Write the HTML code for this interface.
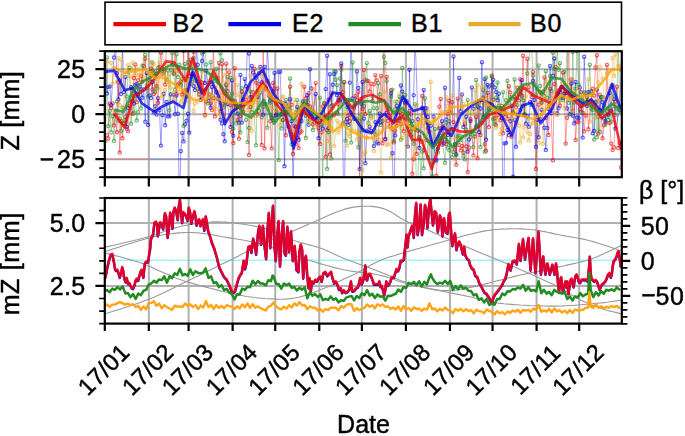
<!DOCTYPE html>
<html><head><meta charset="utf-8"><style>html,body{margin:0;padding:0;background:#fff;width:685px;height:436px;overflow:hidden}svg{display:block}</style></head>
<body><svg width="685" height="436" viewBox="0 0 685 436"><g stroke="#b0b0b0" stroke-width="2"><line x1="148.83" y1="51.2" x2="148.83" y2="177.2"/><line x1="148.83" y1="198.0" x2="148.83" y2="323.6"/><line x1="188.60" y1="51.2" x2="188.60" y2="177.2"/><line x1="188.60" y1="198.0" x2="188.60" y2="323.6"/><line x1="232.63" y1="51.2" x2="232.63" y2="177.2"/><line x1="232.63" y1="198.0" x2="232.63" y2="323.6"/><line x1="275.24" y1="51.2" x2="275.24" y2="177.2"/><line x1="275.24" y1="198.0" x2="275.24" y2="323.6"/><line x1="319.27" y1="51.2" x2="319.27" y2="177.2"/><line x1="319.27" y1="198.0" x2="319.27" y2="323.6"/><line x1="361.88" y1="51.2" x2="361.88" y2="177.2"/><line x1="361.88" y1="198.0" x2="361.88" y2="323.6"/><line x1="405.91" y1="51.2" x2="405.91" y2="177.2"/><line x1="405.91" y1="198.0" x2="405.91" y2="323.6"/><line x1="449.94" y1="51.2" x2="449.94" y2="177.2"/><line x1="449.94" y1="198.0" x2="449.94" y2="323.6"/><line x1="492.55" y1="51.2" x2="492.55" y2="177.2"/><line x1="492.55" y1="198.0" x2="492.55" y2="323.6"/><line x1="536.58" y1="51.2" x2="536.58" y2="177.2"/><line x1="536.58" y1="198.0" x2="536.58" y2="323.6"/><line x1="579.19" y1="51.2" x2="579.19" y2="177.2"/><line x1="579.19" y1="198.0" x2="579.19" y2="323.6"/><line x1="104.8" y1="159.20" x2="621.8" y2="159.20"/><line x1="104.8" y1="114.20" x2="621.8" y2="114.20"/><line x1="104.8" y1="69.20" x2="621.8" y2="69.20"/><line x1="104.8" y1="285.92" x2="621.8" y2="285.92"/><line x1="104.8" y1="223.12" x2="621.8" y2="223.12"/></g><clipPath id="ct"><rect x="104.8" y="51.2" width="517.00" height="126.00"/></clipPath><g clip-path="url(#ct)" fill="none" stroke-linejoin="round"><path d="M104.8 159.2H148.8" stroke="#ff3030" stroke-opacity="0.3" stroke-width="1.2"/><path d="M148.8 159.2H232.6M418 159.2H460M524 159.2H621.8" stroke="#3030ff" stroke-opacity="0.3" stroke-width="1.2"/><path d="M106.9 135.3 L108.3 138.5 L109.8 103.8 L111.2 108.0 L112.6 103.5 L114.0 125.4 L115.4 114.4 L116.9 132.3 L118.3 82.2 L119.7 152.4 L121.1 120.9 L122.5 138.3 L124.0 123.8 L125.4 117.1 L126.8 129.1 L128.2 131.4 L129.6 106.0 L131.1 102.1 L132.5 114.0 L133.9 78.0 L135.3 64.5 L136.7 102.1 L138.2 80.2 L141.0 76.1 L142.4 81.8 L143.8 66.0 L145.3 58.8 L146.7 88.1 L149.5 80.1 L151.0 68.6 L152.4 89.4 L153.8 93.9 L155.2 71.4 L156.6 86.2 L158.1 102.7 L159.5 66.9 L160.9 52.6 L162.3 73.7 L163.7 69.6 L165.2 84.5 L166.6 35.7 L168.0 48.3 L169.4 45.0 L170.8 27.2 L172.3 64.6 L173.7 72.8 L175.1 49.0 L176.5 93.8 L177.9 84.8 L179.4 83.3 L180.8 81.1 L182.2 94.5 L183.6 51.0 L185.0 92.3 L186.5 90.2 L187.9 38.4 L189.3 76.2 L190.7 59.8 L192.1 75.9 L193.6 51.9 L195.0 65.0 L196.4 76.9 L199.2 91.4 L200.7 82.0 L202.1 98.6 L203.5 83.0 L204.9 114.9 L206.3 101.5 L209.2 94.5 L210.6 103.3 L212.0 110.1 L213.4 39.2 L214.9 116.4 L217.7 78.1 L219.1 63.0 L220.5 111.3 L222.0 64.1 L223.4 103.7 L224.8 120.4 L226.2 63.8 L227.6 91.1 L229.1 72.4 L230.5 105.0 L231.9 131.8 L233.3 143.1 L234.7 68.2 L236.2 108.1 L237.6 120.1 L239.0 138.8 L240.4 116.1 L241.9 91.8 L243.3 111.7 L244.7 104.5 L246.1 99.8 L247.5 88.2 L249.0 154.9 L250.4 107.0 L251.8 96.9 L253.2 92.2 L254.6 68.8 L256.1 82.6 L257.5 114.4 L258.9 84.3 L261.7 145.0 L263.2 36.8 L264.6 148.4 L266.0 89.0 L267.4 80.9 L270.3 121.2 L271.7 148.4 L273.1 82.9 L274.5 88.6 L275.9 115.3 L277.4 88.5 L278.8 101.6 L280.2 101.8 L281.6 114.4 L283.0 120.1 L285.9 135.2 L287.3 112.7 L290.1 86.8 L291.6 104.8 L293.0 154.0 L294.4 125.8 L295.8 143.9 L297.2 137.8 L298.7 148.1 L300.1 132.6 L301.5 131.4 L302.9 107.9 L304.3 86.7 L305.8 98.4 L307.2 104.7 L308.6 93.3 L310.0 106.4 L311.4 116.6 L312.9 124.5 L315.7 83.1 L317.1 121.2 L318.5 128.2 L320.0 143.9 L321.4 132.4 L322.8 106.5 L324.2 103.5 L325.7 156.8 L327.1 130.3 L328.5 99.7 L329.9 154.4 L331.3 93.5 L332.8 115.6 L334.2 115.1 L337.0 112.8 L338.4 104.1 L339.9 101.5 L341.3 66.0 L342.7 92.1 L344.1 82.3 L345.5 101.7 L348.4 115.2 L349.8 121.1 L351.2 112.7 L352.6 114.4 L354.1 108.4 L355.5 96.0 L356.9 100.1 L358.3 91.9 L359.7 182.9 L361.2 99.0 L362.6 108.8 L364.0 70.0 L365.4 114.0 L366.8 80.7 L368.3 80.9 L369.7 91.4 L371.1 83.7 L372.5 100.8 L373.9 84.3 L375.4 75.1 L376.8 80.3 L378.2 124.2 L379.6 99.6 L381.0 76.0 L382.5 143.2 L383.9 21.7 L385.3 139.2 L386.7 76.9 L388.1 120.9 L389.6 126.1 L391.0 90.2 L392.4 129.1 L393.8 142.4 L395.2 130.8 L396.7 125.7 L398.1 123.1 L399.5 112.3 L400.9 124.2 L402.3 113.9 L403.8 131.2 L405.2 103.4 L406.6 118.1 L408.0 119.4 L409.5 111.3 L410.9 114.2 L412.3 173.8 L413.7 159.1 L415.1 129.6 L416.6 153.9 L418.0 130.8 L419.4 137.4 L420.8 141.7 L422.2 95.9 L423.7 150.0 L426.5 140.1 L427.9 128.5 L429.3 131.6 L430.8 203.8 L432.2 184.1 L436.4 175.8 L437.9 144.1 L439.3 106.6 L440.7 98.9 L442.1 144.7 L443.5 126.1 L445.0 139.6 L446.4 143.9 L447.8 114.1 L449.2 100.7 L450.6 112.8 L452.1 102.2 L453.5 122.1 L454.9 149.4 L456.3 164.7 L457.7 98.6 L459.2 145.1 L460.6 150.4 L462.0 145.9 L463.4 152.5 L464.8 123.8 L466.3 146.4 L467.7 172.1 L469.1 147.7 L470.5 119.2 L473.4 155.4 L474.8 136.6 L476.2 117.1 L477.6 158.3 L479.0 101.6 L480.5 135.0 L481.9 122.9 L483.3 97.6 L484.7 144.1 L486.1 150.7 L487.6 92.9 L489.0 127.0 L490.4 105.8 L491.8 75.8 L493.2 99.6 L494.7 118.2 L496.1 125.1 L497.5 115.2 L498.9 112.3 L500.4 120.2 L501.8 106.0 L503.2 133.2 L504.6 112.0 L506.0 114.4 L507.5 118.7 L508.9 86.2 L510.3 92.5 L511.7 136.7 L513.1 111.8 L514.6 96.9 L516.0 106.9 L517.4 87.8 L518.8 100.5 L520.2 79.1 L521.7 95.4 L523.1 55.8 L524.5 114.8 L527.3 58.8 L528.8 87.1 L531.6 96.9 L533.0 72.1 L535.9 169.0 L538.7 104.6 L540.1 92.2 L541.5 103.0 L544.4 77.4 L545.8 118.0 L548.6 135.0 L550.1 88.7 L552.9 160.3 L554.3 84.1 L555.7 67.1 L557.2 93.4 L558.6 90.5 L560.0 105.6 L562.8 72.6 L564.3 93.5 L565.7 143.6 L567.1 117.8 L568.5 38.3 L569.9 92.6 L571.4 79.5 L572.8 110.9 L574.2 96.4 L575.6 140.0 L577.0 121.4 L578.5 122.0 L579.9 109.3 L581.3 105.8 L582.7 112.8 L584.2 131.4 L585.6 115.6 L587.0 97.3 L588.4 129.3 L591.3 101.1 L592.7 88.8 L594.1 95.5 L595.5 67.4 L596.9 55.2 L598.4 133.6 L599.8 94.7 L601.2 113.2 L602.6 138.3 L604.0 125.2 L605.5 122.8 L606.9 64.9 L608.3 108.7 L609.7 123.0 L611.1 143.6 L612.6 149.9 L614.0 147.5 L615.4 101.6 L616.8 86.7 L618.2 148.0 L619.7 143.0 L621.1 167.5" stroke="#ee0000" stroke-opacity="0.42" stroke-width="0.9"/><path d="M105.5 71.5 L106.9 93.5 L108.3 86.9 L109.8 86.4 L111.2 105.0 L114.0 57.5 L115.4 45.0 L116.9 73.2 L118.3 99.2 L119.7 80.4 L121.1 94.0 L122.5 46.2 L124.0 92.1 L125.4 77.1 L126.8 126.9 L128.2 107.9 L131.1 87.3 L132.5 101.1 L133.9 103.6 L135.3 84.9 L136.7 84.1 L138.2 94.5 L139.6 86.5 L141.0 89.1 L142.4 97.8 L143.8 89.4 L145.3 121.7 L146.7 73.1 L148.1 124.9 L149.5 95.4 L151.0 98.0 L152.4 82.0 L153.8 112.4 L155.2 106.3 L156.6 114.5 L158.1 98.2 L159.5 110.3 L160.9 145.6 L162.3 115.1 L163.7 93.8 L165.2 125.2 L166.6 101.9 L168.0 116.4 L169.4 116.2 L170.8 94.4 L173.7 94.6 L175.1 114.3 L176.5 95.6 L177.9 113.7 L179.4 207.9 L180.8 151.2 L182.2 132.9 L183.6 141.4 L185.0 124.5 L186.5 120.8 L187.9 113.8 L189.3 132.6 L190.7 83.6 L192.1 74.2 L193.6 86.0 L195.0 90.0 L196.4 47.4 L197.8 64.8 L199.2 94.5 L200.7 99.9 L202.1 61.0 L203.5 51.9 L204.9 82.9 L206.3 70.6 L209.2 98.0 L210.6 107.8 L212.0 87.0 L213.4 97.9 L216.3 92.1 L217.7 98.6 L220.5 119.7 L222.0 123.5 L223.4 134.2 L224.8 141.3 L226.2 85.0 L227.6 104.0 L230.5 127.0 L231.9 80.3 L233.3 135.6 L234.7 100.7 L236.2 104.0 L237.6 113.6 L239.0 122.6 L240.4 75.0 L241.9 122.6 L243.3 100.2 L244.7 79.1 L246.1 86.3 L247.5 42.9 L249.0 53.6 L250.4 97.2 L251.8 66.0 L253.2 72.6 L254.6 75.0 L256.1 77.7 L257.5 96.7 L258.9 73.3 L260.3 66.9 L261.7 82.3 L263.2 114.6 L264.6 66.9 L266.0 88.0 L267.4 47.3 L270.3 100.5 L271.7 117.8 L273.1 91.6 L274.5 72.9 L275.9 115.4 L277.4 114.6 L278.8 72.0 L280.2 71.8 L281.6 114.2 L283.0 103.1 L284.5 166.3 L285.9 104.3 L287.3 111.7 L288.7 126.2 L290.1 99.3 L291.6 121.3 L293.0 180.2 L294.4 142.8 L295.8 126.8 L297.2 106.9 L298.7 139.8 L301.5 121.0 L302.9 101.5 L304.3 112.0 L305.8 115.6 L307.2 95.3 L308.6 124.7 L310.0 69.2 L311.4 88.5 L312.9 111.2 L315.7 94.0 L317.1 124.1 L318.5 138.2 L320.0 124.3 L321.4 118.3 L322.8 128.6 L324.2 117.1 L325.7 89.1 L327.1 55.7 L328.5 127.9 L329.9 74.3 L331.3 106.2 L332.8 84.8 L334.2 74.0 L335.6 71.8 L337.0 95.3 L338.4 100.0 L339.9 100.0 L341.3 63.5 L344.1 216.8 L345.5 121.9 L347.0 118.9 L348.4 124.9 L349.8 82.6 L351.2 37.3 L352.6 98.5 L354.1 118.7 L355.5 104.5 L356.9 71.4 L358.3 88.0 L359.7 169.1 L361.2 103.7 L362.6 82.0 L364.0 118.6 L365.4 163.2 L366.8 130.7 L369.7 126.7 L371.1 131.0 L373.9 146.1 L375.4 122.3 L376.8 142.5 L378.2 143.6 L379.6 113.6 L381.0 122.3 L382.5 120.9 L385.3 139.2 L386.7 112.7 L391.0 93.4 L392.4 153.3 L393.8 213.3 L395.2 135.4 L396.7 106.0 L398.1 120.5 L399.5 118.4 L400.9 85.4 L402.3 91.6 L403.8 99.9 L405.2 102.2 L406.6 101.2 L408.0 146.6 L409.5 69.7 L410.9 135.4 L412.3 121.1 L413.7 95.3 L415.1 36.4 L418.0 119.3 L419.4 147.9 L422.2 108.0 L423.7 89.9 L425.1 108.3 L426.5 108.2 L427.9 116.9 L430.8 125.7 L432.2 184.1 L433.6 116.7 L435.0 160.0 L436.4 160.5 L437.9 148.5 L439.3 128.3 L440.7 128.4 L442.1 121.2 L443.5 143.5 L445.0 87.8 L446.4 119.4 L447.8 135.0 L449.2 121.2 L452.1 129.2 L453.5 56.5 L454.9 144.8 L456.3 154.2 L459.2 77.9 L460.6 111.2 L462.0 94.5 L463.4 127.0 L466.3 116.8 L467.7 151.6 L469.1 139.4 L470.5 121.1 L471.9 87.4 L473.4 108.8 L476.2 126.6 L477.6 106.5 L479.0 132.0 L480.5 108.5 L481.9 62.3 L483.3 117.2 L484.7 79.1 L486.1 139.7 L487.6 84.9 L489.0 86.5 L490.4 107.7 L491.8 84.9 L493.2 79.8 L494.7 87.4 L496.1 92.1 L497.5 100.3 L498.9 93.7 L500.4 110.6 L501.8 118.2 L503.2 226.6 L504.6 143.4 L506.0 142.9 L507.5 130.0 L508.9 135.2 L510.3 121.3 L511.7 105.9 L513.1 176.7 L514.6 120.1 L516.0 146.8 L517.4 114.8 L520.2 109.9 L521.7 80.1 L523.1 105.7 L524.5 114.9 L525.9 123.8 L527.3 116.3 L528.8 126.8 L530.2 102.0 L531.6 104.8 L533.0 80.8 L534.4 99.9 L535.9 146.9 L537.3 120.0 L538.7 137.3 L540.1 119.3 L541.5 109.8 L544.4 127.8 L545.8 149.9 L547.2 127.9 L548.6 108.7 L550.1 66.0 L551.5 113.2 L552.9 75.7 L554.3 58.5 L557.2 113.3 L558.6 108.2 L560.0 92.2 L561.4 87.1 L562.8 98.0 L564.3 93.6 L565.7 93.1 L567.1 108.5 L569.9 114.2 L571.4 83.4 L572.8 115.7 L574.2 123.4 L575.6 82.0 L577.0 117.4 L578.5 118.1 L579.9 87.5 L581.3 92.1 L582.7 137.6 L584.2 56.8 L585.6 93.4 L587.0 105.9 L588.4 91.9 L591.3 91.5 L592.7 133.2 L594.1 130.9 L595.5 102.3 L596.9 89.5 L599.8 110.2 L601.2 97.3 L602.6 102.2 L604.0 118.6 L605.5 121.3 L608.3 114.6 L609.7 93.1 L611.1 110.6 L612.6 85.3 L614.0 99.1 L615.4 128.4 L619.7 110.3 L621.1 69.6" stroke="#0000e6" stroke-opacity="0.42" stroke-width="0.9"/><path d="M105.5 140.9 L106.9 57.5 L108.3 126.1 L109.8 111.0 L111.2 132.2 L112.6 116.4 L114.0 140.9 L115.4 110.6 L116.9 101.6 L118.3 120.6 L119.7 118.4 L121.1 131.1 L122.5 107.5 L124.0 123.3 L125.4 119.9 L126.8 96.4 L128.2 71.9 L129.6 67.7 L131.1 123.8 L132.5 88.3 L133.9 112.9 L135.3 95.9 L136.7 120.4 L138.2 112.1 L139.6 89.9 L141.0 108.3 L142.4 65.6 L145.3 55.0 L146.7 85.3 L148.1 96.8 L149.5 81.7 L151.0 70.9 L152.4 62.5 L153.8 72.5 L155.2 92.1 L156.6 88.4 L158.1 67.8 L159.5 50.0 L162.3 44.7 L163.7 71.8 L166.6 79.8 L168.0 70.5 L169.4 110.5 L170.8 69.7 L172.3 52.9 L173.7 74.0 L175.1 89.4 L176.5 54.3 L177.9 77.1 L179.4 64.7 L180.8 84.8 L182.2 79.1 L183.6 126.0 L185.0 63.9 L186.5 96.4 L187.9 62.4 L192.1 78.9 L193.6 57.9 L195.0 80.6 L196.4 80.9 L197.8 88.5 L200.7 88.7 L202.1 53.6 L204.9 50.0 L206.3 64.5 L207.8 103.4 L210.6 62.2 L213.4 78.0 L214.9 80.7 L216.3 68.7 L217.7 82.1 L220.5 53.2 L222.0 60.1 L223.4 107.6 L224.8 105.3 L226.2 84.1 L227.6 77.1 L230.5 77.6 L231.9 93.6 L233.3 128.8 L234.7 104.5 L236.2 123.5 L239.0 113.1 L240.4 132.5 L241.9 88.2 L243.3 107.1 L246.1 119.8 L247.5 142.1 L249.0 128.0 L250.4 91.6 L251.8 112.3 L253.2 99.7 L256.1 145.3 L257.5 90.7 L258.9 110.8 L260.3 92.6 L261.7 117.3 L263.2 106.7 L264.6 104.1 L266.0 103.9 L267.4 127.7 L268.8 95.8 L270.3 102.6 L271.7 99.2 L273.1 119.9 L274.5 118.2 L275.9 103.7 L277.4 112.3 L278.8 160.1 L280.2 113.9 L281.6 128.4 L283.0 120.0 L285.9 100.0 L287.3 107.5 L288.7 108.6 L290.1 78.5 L291.6 144.3 L293.0 134.6 L294.4 120.4 L295.8 112.5 L297.2 100.1 L298.7 127.3 L301.5 114.4 L304.3 108.8 L305.8 138.0 L307.2 100.6 L308.6 120.7 L310.0 109.3 L312.9 130.0 L314.3 114.4 L317.1 119.7 L318.5 116.2 L320.0 97.7 L321.4 124.7 L322.8 178.4 L324.2 103.3 L325.7 117.2 L327.1 168.9 L328.5 132.0 L329.9 118.6 L331.3 158.4 L332.8 105.2 L334.2 71.2 L335.6 79.7 L337.0 85.1 L338.4 114.2 L339.9 78.6 L341.3 69.6 L342.7 123.7 L344.1 82.1 L345.5 140.6 L347.0 107.3 L348.4 106.6 L349.8 100.0 L351.2 142.6 L352.6 62.4 L354.1 106.3 L355.5 118.8 L356.9 118.4 L358.3 147.3 L359.7 121.0 L361.2 114.7 L362.6 130.3 L364.0 105.9 L365.4 79.6 L366.8 63.1 L368.3 122.8 L369.7 111.0 L371.1 116.1 L372.5 96.3 L373.9 108.1 L375.4 134.6 L376.8 108.2 L378.2 83.2 L379.6 94.4 L381.0 125.0 L383.9 56.8 L385.3 62.9 L386.7 81.1 L389.6 109.1 L391.0 96.6 L392.4 89.6 L393.8 141.1 L395.2 109.4 L396.7 101.7 L399.5 96.8 L400.9 139.6 L402.3 67.9 L403.8 111.7 L405.2 94.9 L406.6 114.3 L408.0 113.3 L409.5 126.0 L410.9 131.4 L412.3 128.4 L413.7 143.7 L415.1 104.1 L416.6 211.9 L419.4 137.1 L420.8 178.6 L422.2 151.6 L423.7 168.2 L425.1 98.3 L426.5 122.4 L427.9 157.2 L429.3 123.7 L430.8 141.9 L432.2 176.2 L433.6 161.9 L435.0 128.9 L436.4 151.1 L437.9 152.5 L439.3 140.8 L440.7 136.1 L442.1 138.4 L445.0 162.7 L446.4 122.6 L447.8 147.7 L449.2 150.2 L450.6 129.6 L452.1 157.1 L453.5 152.1 L454.9 143.9 L456.3 155.5 L457.7 136.4 L459.2 135.5 L460.6 140.2 L462.0 136.5 L463.4 155.9 L464.8 159.4 L466.3 129.7 L467.7 100.0 L470.5 136.8 L471.9 131.8 L473.4 147.1 L474.8 134.0 L476.2 80.0 L477.6 105.5 L480.5 147.0 L483.3 90.1 L484.7 151.7 L486.1 77.5 L487.6 116.8 L489.0 109.0 L490.4 112.4 L491.8 76.7 L493.2 119.3 L494.7 124.0 L496.1 97.5 L497.5 82.4 L498.9 105.8 L500.4 107.7 L503.2 92.1 L504.6 113.2 L506.0 100.2 L507.5 80.8 L508.9 102.9 L510.3 97.1 L511.7 98.5 L513.1 112.8 L514.6 79.5 L516.0 98.7 L517.4 105.1 L518.8 93.5 L520.2 88.7 L521.7 96.7 L523.1 100.4 L524.5 113.6 L527.3 73.5 L530.2 49.5 L531.6 44.9 L533.0 75.5 L534.4 84.5 L535.9 95.0 L537.3 89.3 L538.7 65.5 L540.1 85.9 L541.5 102.1 L543.0 91.8 L544.4 96.1 L545.8 71.3 L547.2 97.9 L548.6 105.3 L550.1 76.3 L551.5 91.1 L552.9 52.6 L554.3 68.7 L555.7 99.3 L557.2 48.2 L558.6 69.8 L560.0 63.3 L561.4 98.3 L562.8 100.1 L564.3 71.9 L565.7 86.5 L567.1 41.9 L568.5 102.7 L569.9 96.1 L571.4 114.1 L572.8 52.0 L574.2 102.5 L575.6 88.6 L577.0 51.2 L578.5 84.8 L581.3 112.3 L582.7 103.1 L584.2 92.1 L585.6 94.7 L587.0 101.3 L588.4 93.2 L589.8 64.7 L591.3 109.1 L592.7 110.1 L594.1 139.6 L595.5 101.5 L596.9 137.3 L598.4 116.8 L599.8 131.8 L601.2 97.2 L602.6 97.1 L604.0 105.4 L605.5 124.6 L606.9 111.1 L608.3 119.7 L609.7 111.0 L611.1 121.8 L612.6 106.5 L614.0 96.1 L615.4 114.9 L616.8 108.8 L618.2 37.8 L619.7 106.7 L621.1 111.7" stroke="#228b22" stroke-opacity="0.42" stroke-width="0.9"/><path d="M105.5 76.5 L106.9 61.6 L111.2 62.9 L112.6 83.7 L114.0 67.9 L115.4 74.7 L116.9 82.1 L118.3 58.0 L119.7 104.7 L121.1 59.5 L122.5 76.4 L124.0 107.9 L125.4 71.0 L126.8 73.7 L128.2 65.2 L129.6 76.0 L131.1 105.5 L132.5 62.7 L133.9 92.8 L135.3 73.3 L136.7 67.3 L138.2 75.1 L139.6 75.5 L141.0 72.0 L142.4 77.4 L143.8 48.2 L145.3 77.3 L148.1 82.3 L149.5 73.1 L151.0 61.6 L152.4 74.9 L153.8 64.0 L155.2 108.1 L156.6 77.1 L158.1 88.4 L159.5 62.6 L160.9 98.0 L162.3 73.2 L163.7 95.7 L165.2 89.9 L166.6 65.4 L168.0 84.7 L169.4 74.3 L170.8 87.6 L172.3 101.7 L173.7 92.9 L175.1 98.7 L176.5 70.4 L177.9 89.1 L179.4 92.0 L180.8 102.3 L182.2 81.0 L183.6 97.7 L185.0 97.3 L187.9 81.1 L189.3 101.8 L190.7 82.1 L192.1 82.9 L193.6 111.2 L195.0 103.5 L196.4 77.2 L197.8 101.5 L199.2 95.0 L200.7 93.5 L202.1 71.5 L204.9 116.2 L206.3 92.3 L207.8 97.0 L209.2 94.4 L210.6 80.3 L212.0 99.9 L213.4 108.4 L214.9 86.7 L216.3 109.1 L217.7 91.4 L219.1 114.3 L220.5 115.6 L222.0 95.2 L223.4 74.6 L224.8 96.5 L226.2 83.4 L227.6 84.8 L229.1 99.0 L230.5 120.3 L233.3 99.9 L234.7 78.7 L236.2 95.0 L237.6 84.8 L239.0 109.7 L240.4 95.6 L241.9 102.6 L243.3 103.1 L244.7 101.0 L246.1 103.0 L247.5 110.0 L249.0 99.6 L250.4 75.4 L251.8 130.8 L254.6 101.8 L256.1 116.3 L257.5 87.2 L258.9 89.3 L260.3 70.5 L261.7 74.4 L263.2 72.7 L267.4 84.7 L268.8 83.7 L270.3 107.7 L271.7 94.8 L273.1 110.9 L274.5 94.3 L275.9 109.5 L277.4 107.2 L278.8 102.2 L280.2 125.1 L281.6 97.1 L283.0 96.8 L284.5 105.5 L285.9 119.6 L287.3 104.8 L288.7 104.8 L293.0 111.1 L294.4 100.0 L295.8 113.2 L297.2 121.3 L298.7 104.5 L300.1 111.4 L301.5 83.8 L302.9 106.7 L304.3 106.6 L305.8 114.3 L307.2 111.0 L308.6 117.9 L310.0 122.6 L311.4 118.2 L312.9 89.0 L314.3 103.5 L315.7 126.8 L317.1 124.6 L320.0 123.5 L321.4 111.4 L322.8 108.0 L324.2 121.9 L325.7 122.7 L327.1 141.3 L328.5 106.5 L329.9 121.8 L331.3 127.7 L332.8 107.8 L334.2 146.2 L337.0 120.6 L338.4 132.6 L339.9 123.0 L341.3 128.9 L342.7 116.3 L344.1 122.1 L345.5 111.9 L347.0 145.7 L348.4 133.7 L349.8 136.3 L351.2 109.5 L352.6 130.7 L354.1 115.9 L355.5 131.4 L356.9 139.6 L358.3 122.6 L359.7 116.5 L361.2 113.3 L362.6 170.5 L364.0 153.7 L365.4 152.5 L366.8 137.9 L368.3 125.1 L369.7 133.1 L371.1 118.4 L372.5 117.4 L373.9 151.0 L375.4 132.8 L376.8 139.8 L378.2 131.4 L379.6 140.0 L381.0 172.4 L382.5 120.2 L383.9 91.6 L385.3 118.8 L386.7 144.9 L388.1 144.1 L389.6 124.2 L391.0 158.0 L392.4 128.6 L393.8 112.6 L395.2 101.6 L396.7 125.0 L398.1 119.4 L399.5 94.3 L400.9 128.3 L402.3 138.0 L405.2 133.4 L406.6 145.4 L408.0 131.5 L409.5 118.7 L410.9 133.1 L412.3 135.8 L413.7 156.8 L415.1 121.6 L416.6 105.3 L418.0 127.6 L419.4 126.2 L420.8 114.9 L422.2 125.9 L423.7 123.0 L425.1 135.4 L426.5 109.6 L427.9 112.1 L429.3 121.7 L430.8 81.7 L432.2 139.6 L433.6 119.5 L435.0 120.2 L436.4 139.1 L437.9 124.5 L439.3 129.6 L440.7 125.8 L442.1 112.2 L445.0 112.3 L446.4 97.2 L447.8 105.9 L449.2 120.6 L450.6 112.6 L452.1 95.4 L453.5 137.5 L454.9 159.3 L456.3 114.9 L459.2 123.4 L460.6 95.6 L462.0 107.1 L463.4 104.0 L464.8 120.9 L466.3 111.0 L467.7 110.4 L469.1 111.4 L470.5 129.4 L471.9 112.1 L473.4 114.3 L474.8 90.1 L476.2 110.7 L477.6 84.9 L479.0 112.8 L480.5 101.9 L481.9 87.9 L483.3 85.3 L484.7 100.5 L486.1 104.8 L487.6 97.3 L489.0 101.8 L490.4 103.5 L491.8 101.9 L493.2 107.0 L494.7 113.7 L496.1 127.7 L497.5 119.9 L498.9 104.9 L500.4 134.0 L501.8 129.0 L503.2 110.8 L504.6 127.5 L506.0 107.6 L507.5 104.9 L508.9 105.5 L510.3 136.1 L511.7 117.1 L513.1 119.6 L514.6 116.6 L516.0 110.8 L517.4 122.7 L518.8 125.5 L520.2 142.5 L521.7 106.3 L523.1 137.5 L524.5 126.7 L525.9 96.1 L527.3 131.6 L528.8 140.4 L530.2 134.1 L531.6 123.5 L533.0 122.9 L534.4 94.6 L535.9 123.7 L537.3 120.9 L538.7 142.9 L540.1 119.4 L541.5 107.4 L543.0 143.8 L544.4 97.1 L545.8 99.5 L547.2 81.5 L548.6 102.7 L550.1 107.7 L551.5 104.7 L552.9 94.9 L554.3 113.4 L555.7 44.5 L557.2 115.2 L558.6 97.2 L560.0 101.6 L561.4 94.5 L562.8 83.8 L564.3 108.2 L565.7 90.1 L568.5 98.7 L569.9 79.8 L571.4 95.0 L572.8 111.1 L574.2 91.8 L575.6 96.6 L577.0 100.3 L578.5 88.9 L579.9 93.4 L581.3 102.5 L582.7 91.7 L584.2 97.1 L585.6 94.4 L588.4 79.1 L589.8 121.5 L591.3 100.2 L592.7 92.4 L594.1 104.6 L595.5 117.6 L596.9 101.3 L598.4 82.4 L599.8 66.8 L602.6 78.8 L604.0 97.6 L605.5 98.5 L606.9 73.3 L608.3 70.3 L609.7 88.4 L611.1 97.7 L612.6 57.9 L614.0 76.0 L615.4 54.2 L618.2 65.8 L619.7 65.6 L621.1 69.9" stroke="#eba62a" stroke-opacity="0.42" stroke-width="0.9"/><path d="M105.3 135.3a1.6 1.6 0 1 0 3.2 0a1.6 1.6 0 1 0 -3.2 0M106.7 138.5a1.6 1.6 0 1 0 3.2 0a1.6 1.6 0 1 0 -3.2 0M108.2 103.8a1.6 1.6 0 1 0 3.2 0a1.6 1.6 0 1 0 -3.2 0M109.6 108.0a1.6 1.6 0 1 0 3.2 0a1.6 1.6 0 1 0 -3.2 0M111.0 103.5a1.6 1.6 0 1 0 3.2 0a1.6 1.6 0 1 0 -3.2 0M112.4 125.4a1.6 1.6 0 1 0 3.2 0a1.6 1.6 0 1 0 -3.2 0M113.8 114.4a1.6 1.6 0 1 0 3.2 0a1.6 1.6 0 1 0 -3.2 0M115.3 132.3a1.6 1.6 0 1 0 3.2 0a1.6 1.6 0 1 0 -3.2 0M116.7 82.2a1.6 1.6 0 1 0 3.2 0a1.6 1.6 0 1 0 -3.2 0M118.1 152.4a1.6 1.6 0 1 0 3.2 0a1.6 1.6 0 1 0 -3.2 0M119.5 120.9a1.6 1.6 0 1 0 3.2 0a1.6 1.6 0 1 0 -3.2 0M120.9 138.3a1.6 1.6 0 1 0 3.2 0a1.6 1.6 0 1 0 -3.2 0M122.4 123.8a1.6 1.6 0 1 0 3.2 0a1.6 1.6 0 1 0 -3.2 0M123.8 117.1a1.6 1.6 0 1 0 3.2 0a1.6 1.6 0 1 0 -3.2 0M125.2 129.1a1.6 1.6 0 1 0 3.2 0a1.6 1.6 0 1 0 -3.2 0M126.6 131.4a1.6 1.6 0 1 0 3.2 0a1.6 1.6 0 1 0 -3.2 0M128.0 106.0a1.6 1.6 0 1 0 3.2 0a1.6 1.6 0 1 0 -3.2 0M129.5 102.1a1.6 1.6 0 1 0 3.2 0a1.6 1.6 0 1 0 -3.2 0M130.9 114.0a1.6 1.6 0 1 0 3.2 0a1.6 1.6 0 1 0 -3.2 0M132.3 78.0a1.6 1.6 0 1 0 3.2 0a1.6 1.6 0 1 0 -3.2 0M133.7 64.5a1.6 1.6 0 1 0 3.2 0a1.6 1.6 0 1 0 -3.2 0M135.1 102.1a1.6 1.6 0 1 0 3.2 0a1.6 1.6 0 1 0 -3.2 0M136.6 80.2a1.6 1.6 0 1 0 3.2 0a1.6 1.6 0 1 0 -3.2 0M139.4 76.1a1.6 1.6 0 1 0 3.2 0a1.6 1.6 0 1 0 -3.2 0M140.8 81.8a1.6 1.6 0 1 0 3.2 0a1.6 1.6 0 1 0 -3.2 0M142.2 66.0a1.6 1.6 0 1 0 3.2 0a1.6 1.6 0 1 0 -3.2 0M143.7 58.8a1.6 1.6 0 1 0 3.2 0a1.6 1.6 0 1 0 -3.2 0M145.1 88.1a1.6 1.6 0 1 0 3.2 0a1.6 1.6 0 1 0 -3.2 0M147.9 80.1a1.6 1.6 0 1 0 3.2 0a1.6 1.6 0 1 0 -3.2 0M149.4 68.6a1.6 1.6 0 1 0 3.2 0a1.6 1.6 0 1 0 -3.2 0M150.8 89.4a1.6 1.6 0 1 0 3.2 0a1.6 1.6 0 1 0 -3.2 0M152.2 93.9a1.6 1.6 0 1 0 3.2 0a1.6 1.6 0 1 0 -3.2 0M153.6 71.4a1.6 1.6 0 1 0 3.2 0a1.6 1.6 0 1 0 -3.2 0M155.0 86.2a1.6 1.6 0 1 0 3.2 0a1.6 1.6 0 1 0 -3.2 0M156.5 102.7a1.6 1.6 0 1 0 3.2 0a1.6 1.6 0 1 0 -3.2 0M157.9 66.9a1.6 1.6 0 1 0 3.2 0a1.6 1.6 0 1 0 -3.2 0M159.3 52.6a1.6 1.6 0 1 0 3.2 0a1.6 1.6 0 1 0 -3.2 0M160.7 73.7a1.6 1.6 0 1 0 3.2 0a1.6 1.6 0 1 0 -3.2 0M162.1 69.6a1.6 1.6 0 1 0 3.2 0a1.6 1.6 0 1 0 -3.2 0M163.6 84.5a1.6 1.6 0 1 0 3.2 0a1.6 1.6 0 1 0 -3.2 0M166.4 48.3a1.6 1.6 0 1 0 3.2 0a1.6 1.6 0 1 0 -3.2 0M170.7 64.6a1.6 1.6 0 1 0 3.2 0a1.6 1.6 0 1 0 -3.2 0M172.1 72.8a1.6 1.6 0 1 0 3.2 0a1.6 1.6 0 1 0 -3.2 0M173.5 49.0a1.6 1.6 0 1 0 3.2 0a1.6 1.6 0 1 0 -3.2 0M174.9 93.8a1.6 1.6 0 1 0 3.2 0a1.6 1.6 0 1 0 -3.2 0M176.3 84.8a1.6 1.6 0 1 0 3.2 0a1.6 1.6 0 1 0 -3.2 0M177.8 83.3a1.6 1.6 0 1 0 3.2 0a1.6 1.6 0 1 0 -3.2 0M179.2 81.1a1.6 1.6 0 1 0 3.2 0a1.6 1.6 0 1 0 -3.2 0M180.6 94.5a1.6 1.6 0 1 0 3.2 0a1.6 1.6 0 1 0 -3.2 0M182.0 51.0a1.6 1.6 0 1 0 3.2 0a1.6 1.6 0 1 0 -3.2 0M183.4 92.3a1.6 1.6 0 1 0 3.2 0a1.6 1.6 0 1 0 -3.2 0M184.9 90.2a1.6 1.6 0 1 0 3.2 0a1.6 1.6 0 1 0 -3.2 0M187.7 76.2a1.6 1.6 0 1 0 3.2 0a1.6 1.6 0 1 0 -3.2 0M189.1 59.8a1.6 1.6 0 1 0 3.2 0a1.6 1.6 0 1 0 -3.2 0M190.5 75.9a1.6 1.6 0 1 0 3.2 0a1.6 1.6 0 1 0 -3.2 0M192.0 51.9a1.6 1.6 0 1 0 3.2 0a1.6 1.6 0 1 0 -3.2 0M193.4 65.0a1.6 1.6 0 1 0 3.2 0a1.6 1.6 0 1 0 -3.2 0M194.8 76.9a1.6 1.6 0 1 0 3.2 0a1.6 1.6 0 1 0 -3.2 0M197.6 91.4a1.6 1.6 0 1 0 3.2 0a1.6 1.6 0 1 0 -3.2 0M199.1 82.0a1.6 1.6 0 1 0 3.2 0a1.6 1.6 0 1 0 -3.2 0M200.5 98.6a1.6 1.6 0 1 0 3.2 0a1.6 1.6 0 1 0 -3.2 0M201.9 83.0a1.6 1.6 0 1 0 3.2 0a1.6 1.6 0 1 0 -3.2 0M203.3 114.9a1.6 1.6 0 1 0 3.2 0a1.6 1.6 0 1 0 -3.2 0M204.7 101.5a1.6 1.6 0 1 0 3.2 0a1.6 1.6 0 1 0 -3.2 0M207.6 94.5a1.6 1.6 0 1 0 3.2 0a1.6 1.6 0 1 0 -3.2 0M209.0 103.3a1.6 1.6 0 1 0 3.2 0a1.6 1.6 0 1 0 -3.2 0M210.4 110.1a1.6 1.6 0 1 0 3.2 0a1.6 1.6 0 1 0 -3.2 0M213.3 116.4a1.6 1.6 0 1 0 3.2 0a1.6 1.6 0 1 0 -3.2 0M216.1 78.1a1.6 1.6 0 1 0 3.2 0a1.6 1.6 0 1 0 -3.2 0M217.5 63.0a1.6 1.6 0 1 0 3.2 0a1.6 1.6 0 1 0 -3.2 0M218.9 111.3a1.6 1.6 0 1 0 3.2 0a1.6 1.6 0 1 0 -3.2 0M220.4 64.1a1.6 1.6 0 1 0 3.2 0a1.6 1.6 0 1 0 -3.2 0M221.8 103.7a1.6 1.6 0 1 0 3.2 0a1.6 1.6 0 1 0 -3.2 0M223.2 120.4a1.6 1.6 0 1 0 3.2 0a1.6 1.6 0 1 0 -3.2 0M224.6 63.8a1.6 1.6 0 1 0 3.2 0a1.6 1.6 0 1 0 -3.2 0M226.0 91.1a1.6 1.6 0 1 0 3.2 0a1.6 1.6 0 1 0 -3.2 0M227.5 72.4a1.6 1.6 0 1 0 3.2 0a1.6 1.6 0 1 0 -3.2 0M228.9 105.0a1.6 1.6 0 1 0 3.2 0a1.6 1.6 0 1 0 -3.2 0M230.3 131.8a1.6 1.6 0 1 0 3.2 0a1.6 1.6 0 1 0 -3.2 0M231.7 143.1a1.6 1.6 0 1 0 3.2 0a1.6 1.6 0 1 0 -3.2 0M233.1 68.2a1.6 1.6 0 1 0 3.2 0a1.6 1.6 0 1 0 -3.2 0M234.6 108.1a1.6 1.6 0 1 0 3.2 0a1.6 1.6 0 1 0 -3.2 0M236.0 120.1a1.6 1.6 0 1 0 3.2 0a1.6 1.6 0 1 0 -3.2 0M237.4 138.8a1.6 1.6 0 1 0 3.2 0a1.6 1.6 0 1 0 -3.2 0M238.8 116.1a1.6 1.6 0 1 0 3.2 0a1.6 1.6 0 1 0 -3.2 0M240.3 91.8a1.6 1.6 0 1 0 3.2 0a1.6 1.6 0 1 0 -3.2 0M241.7 111.7a1.6 1.6 0 1 0 3.2 0a1.6 1.6 0 1 0 -3.2 0M243.1 104.5a1.6 1.6 0 1 0 3.2 0a1.6 1.6 0 1 0 -3.2 0M244.5 99.8a1.6 1.6 0 1 0 3.2 0a1.6 1.6 0 1 0 -3.2 0M245.9 88.2a1.6 1.6 0 1 0 3.2 0a1.6 1.6 0 1 0 -3.2 0M247.4 154.9a1.6 1.6 0 1 0 3.2 0a1.6 1.6 0 1 0 -3.2 0M248.8 107.0a1.6 1.6 0 1 0 3.2 0a1.6 1.6 0 1 0 -3.2 0M250.2 96.9a1.6 1.6 0 1 0 3.2 0a1.6 1.6 0 1 0 -3.2 0M251.6 92.2a1.6 1.6 0 1 0 3.2 0a1.6 1.6 0 1 0 -3.2 0M253.0 68.8a1.6 1.6 0 1 0 3.2 0a1.6 1.6 0 1 0 -3.2 0M254.5 82.6a1.6 1.6 0 1 0 3.2 0a1.6 1.6 0 1 0 -3.2 0M255.9 114.4a1.6 1.6 0 1 0 3.2 0a1.6 1.6 0 1 0 -3.2 0M257.3 84.3a1.6 1.6 0 1 0 3.2 0a1.6 1.6 0 1 0 -3.2 0M260.1 145.0a1.6 1.6 0 1 0 3.2 0a1.6 1.6 0 1 0 -3.2 0M263.0 148.4a1.6 1.6 0 1 0 3.2 0a1.6 1.6 0 1 0 -3.2 0M264.4 89.0a1.6 1.6 0 1 0 3.2 0a1.6 1.6 0 1 0 -3.2 0M265.8 80.9a1.6 1.6 0 1 0 3.2 0a1.6 1.6 0 1 0 -3.2 0M268.7 121.2a1.6 1.6 0 1 0 3.2 0a1.6 1.6 0 1 0 -3.2 0M270.1 148.4a1.6 1.6 0 1 0 3.2 0a1.6 1.6 0 1 0 -3.2 0M271.5 82.9a1.6 1.6 0 1 0 3.2 0a1.6 1.6 0 1 0 -3.2 0M272.9 88.6a1.6 1.6 0 1 0 3.2 0a1.6 1.6 0 1 0 -3.2 0M274.3 115.3a1.6 1.6 0 1 0 3.2 0a1.6 1.6 0 1 0 -3.2 0M275.8 88.5a1.6 1.6 0 1 0 3.2 0a1.6 1.6 0 1 0 -3.2 0M277.2 101.6a1.6 1.6 0 1 0 3.2 0a1.6 1.6 0 1 0 -3.2 0M278.6 101.8a1.6 1.6 0 1 0 3.2 0a1.6 1.6 0 1 0 -3.2 0M280.0 114.4a1.6 1.6 0 1 0 3.2 0a1.6 1.6 0 1 0 -3.2 0M281.4 120.1a1.6 1.6 0 1 0 3.2 0a1.6 1.6 0 1 0 -3.2 0M284.3 135.2a1.6 1.6 0 1 0 3.2 0a1.6 1.6 0 1 0 -3.2 0M285.7 112.7a1.6 1.6 0 1 0 3.2 0a1.6 1.6 0 1 0 -3.2 0M288.5 86.8a1.6 1.6 0 1 0 3.2 0a1.6 1.6 0 1 0 -3.2 0M290.0 104.8a1.6 1.6 0 1 0 3.2 0a1.6 1.6 0 1 0 -3.2 0M291.4 154.0a1.6 1.6 0 1 0 3.2 0a1.6 1.6 0 1 0 -3.2 0M292.8 125.8a1.6 1.6 0 1 0 3.2 0a1.6 1.6 0 1 0 -3.2 0M294.2 143.9a1.6 1.6 0 1 0 3.2 0a1.6 1.6 0 1 0 -3.2 0M295.6 137.8a1.6 1.6 0 1 0 3.2 0a1.6 1.6 0 1 0 -3.2 0M297.1 148.1a1.6 1.6 0 1 0 3.2 0a1.6 1.6 0 1 0 -3.2 0M298.5 132.6a1.6 1.6 0 1 0 3.2 0a1.6 1.6 0 1 0 -3.2 0M299.9 131.4a1.6 1.6 0 1 0 3.2 0a1.6 1.6 0 1 0 -3.2 0M301.3 107.9a1.6 1.6 0 1 0 3.2 0a1.6 1.6 0 1 0 -3.2 0M302.7 86.7a1.6 1.6 0 1 0 3.2 0a1.6 1.6 0 1 0 -3.2 0M304.2 98.4a1.6 1.6 0 1 0 3.2 0a1.6 1.6 0 1 0 -3.2 0M305.6 104.7a1.6 1.6 0 1 0 3.2 0a1.6 1.6 0 1 0 -3.2 0M307.0 93.3a1.6 1.6 0 1 0 3.2 0a1.6 1.6 0 1 0 -3.2 0M308.4 106.4a1.6 1.6 0 1 0 3.2 0a1.6 1.6 0 1 0 -3.2 0M309.8 116.6a1.6 1.6 0 1 0 3.2 0a1.6 1.6 0 1 0 -3.2 0M311.3 124.5a1.6 1.6 0 1 0 3.2 0a1.6 1.6 0 1 0 -3.2 0M314.1 83.1a1.6 1.6 0 1 0 3.2 0a1.6 1.6 0 1 0 -3.2 0M315.5 121.2a1.6 1.6 0 1 0 3.2 0a1.6 1.6 0 1 0 -3.2 0M316.9 128.2a1.6 1.6 0 1 0 3.2 0a1.6 1.6 0 1 0 -3.2 0M318.4 143.9a1.6 1.6 0 1 0 3.2 0a1.6 1.6 0 1 0 -3.2 0M319.8 132.4a1.6 1.6 0 1 0 3.2 0a1.6 1.6 0 1 0 -3.2 0M321.2 106.5a1.6 1.6 0 1 0 3.2 0a1.6 1.6 0 1 0 -3.2 0M322.6 103.5a1.6 1.6 0 1 0 3.2 0a1.6 1.6 0 1 0 -3.2 0M324.1 156.8a1.6 1.6 0 1 0 3.2 0a1.6 1.6 0 1 0 -3.2 0M325.5 130.3a1.6 1.6 0 1 0 3.2 0a1.6 1.6 0 1 0 -3.2 0M326.9 99.7a1.6 1.6 0 1 0 3.2 0a1.6 1.6 0 1 0 -3.2 0M328.3 154.4a1.6 1.6 0 1 0 3.2 0a1.6 1.6 0 1 0 -3.2 0M329.7 93.5a1.6 1.6 0 1 0 3.2 0a1.6 1.6 0 1 0 -3.2 0M331.2 115.6a1.6 1.6 0 1 0 3.2 0a1.6 1.6 0 1 0 -3.2 0M332.6 115.1a1.6 1.6 0 1 0 3.2 0a1.6 1.6 0 1 0 -3.2 0M335.4 112.8a1.6 1.6 0 1 0 3.2 0a1.6 1.6 0 1 0 -3.2 0M336.8 104.1a1.6 1.6 0 1 0 3.2 0a1.6 1.6 0 1 0 -3.2 0M338.3 101.5a1.6 1.6 0 1 0 3.2 0a1.6 1.6 0 1 0 -3.2 0M339.7 66.0a1.6 1.6 0 1 0 3.2 0a1.6 1.6 0 1 0 -3.2 0M341.1 92.1a1.6 1.6 0 1 0 3.2 0a1.6 1.6 0 1 0 -3.2 0M342.5 82.3a1.6 1.6 0 1 0 3.2 0a1.6 1.6 0 1 0 -3.2 0M343.9 101.7a1.6 1.6 0 1 0 3.2 0a1.6 1.6 0 1 0 -3.2 0M346.8 115.2a1.6 1.6 0 1 0 3.2 0a1.6 1.6 0 1 0 -3.2 0M348.2 121.1a1.6 1.6 0 1 0 3.2 0a1.6 1.6 0 1 0 -3.2 0M349.6 112.7a1.6 1.6 0 1 0 3.2 0a1.6 1.6 0 1 0 -3.2 0M351.0 114.4a1.6 1.6 0 1 0 3.2 0a1.6 1.6 0 1 0 -3.2 0M352.5 108.4a1.6 1.6 0 1 0 3.2 0a1.6 1.6 0 1 0 -3.2 0M353.9 96.0a1.6 1.6 0 1 0 3.2 0a1.6 1.6 0 1 0 -3.2 0M355.3 100.1a1.6 1.6 0 1 0 3.2 0a1.6 1.6 0 1 0 -3.2 0M356.7 91.9a1.6 1.6 0 1 0 3.2 0a1.6 1.6 0 1 0 -3.2 0M359.6 99.0a1.6 1.6 0 1 0 3.2 0a1.6 1.6 0 1 0 -3.2 0M361.0 108.8a1.6 1.6 0 1 0 3.2 0a1.6 1.6 0 1 0 -3.2 0M362.4 70.0a1.6 1.6 0 1 0 3.2 0a1.6 1.6 0 1 0 -3.2 0M363.8 114.0a1.6 1.6 0 1 0 3.2 0a1.6 1.6 0 1 0 -3.2 0M365.2 80.7a1.6 1.6 0 1 0 3.2 0a1.6 1.6 0 1 0 -3.2 0M366.7 80.9a1.6 1.6 0 1 0 3.2 0a1.6 1.6 0 1 0 -3.2 0M368.1 91.4a1.6 1.6 0 1 0 3.2 0a1.6 1.6 0 1 0 -3.2 0M369.5 83.7a1.6 1.6 0 1 0 3.2 0a1.6 1.6 0 1 0 -3.2 0M370.9 100.8a1.6 1.6 0 1 0 3.2 0a1.6 1.6 0 1 0 -3.2 0M372.3 84.3a1.6 1.6 0 1 0 3.2 0a1.6 1.6 0 1 0 -3.2 0M373.8 75.1a1.6 1.6 0 1 0 3.2 0a1.6 1.6 0 1 0 -3.2 0M375.2 80.3a1.6 1.6 0 1 0 3.2 0a1.6 1.6 0 1 0 -3.2 0M376.6 124.2a1.6 1.6 0 1 0 3.2 0a1.6 1.6 0 1 0 -3.2 0M378.0 99.6a1.6 1.6 0 1 0 3.2 0a1.6 1.6 0 1 0 -3.2 0M379.4 76.0a1.6 1.6 0 1 0 3.2 0a1.6 1.6 0 1 0 -3.2 0M380.9 143.2a1.6 1.6 0 1 0 3.2 0a1.6 1.6 0 1 0 -3.2 0M383.7 139.2a1.6 1.6 0 1 0 3.2 0a1.6 1.6 0 1 0 -3.2 0M385.1 76.9a1.6 1.6 0 1 0 3.2 0a1.6 1.6 0 1 0 -3.2 0M386.5 120.9a1.6 1.6 0 1 0 3.2 0a1.6 1.6 0 1 0 -3.2 0M388.0 126.1a1.6 1.6 0 1 0 3.2 0a1.6 1.6 0 1 0 -3.2 0M389.4 90.2a1.6 1.6 0 1 0 3.2 0a1.6 1.6 0 1 0 -3.2 0M390.8 129.1a1.6 1.6 0 1 0 3.2 0a1.6 1.6 0 1 0 -3.2 0M392.2 142.4a1.6 1.6 0 1 0 3.2 0a1.6 1.6 0 1 0 -3.2 0M393.6 130.8a1.6 1.6 0 1 0 3.2 0a1.6 1.6 0 1 0 -3.2 0M395.1 125.7a1.6 1.6 0 1 0 3.2 0a1.6 1.6 0 1 0 -3.2 0M396.5 123.1a1.6 1.6 0 1 0 3.2 0a1.6 1.6 0 1 0 -3.2 0M397.9 112.3a1.6 1.6 0 1 0 3.2 0a1.6 1.6 0 1 0 -3.2 0M399.3 124.2a1.6 1.6 0 1 0 3.2 0a1.6 1.6 0 1 0 -3.2 0M400.7 113.9a1.6 1.6 0 1 0 3.2 0a1.6 1.6 0 1 0 -3.2 0M402.2 131.2a1.6 1.6 0 1 0 3.2 0a1.6 1.6 0 1 0 -3.2 0M403.6 103.4a1.6 1.6 0 1 0 3.2 0a1.6 1.6 0 1 0 -3.2 0M405.0 118.1a1.6 1.6 0 1 0 3.2 0a1.6 1.6 0 1 0 -3.2 0M406.4 119.4a1.6 1.6 0 1 0 3.2 0a1.6 1.6 0 1 0 -3.2 0M407.9 111.3a1.6 1.6 0 1 0 3.2 0a1.6 1.6 0 1 0 -3.2 0M409.3 114.2a1.6 1.6 0 1 0 3.2 0a1.6 1.6 0 1 0 -3.2 0M410.7 173.8a1.6 1.6 0 1 0 3.2 0a1.6 1.6 0 1 0 -3.2 0M412.1 159.1a1.6 1.6 0 1 0 3.2 0a1.6 1.6 0 1 0 -3.2 0M413.5 129.6a1.6 1.6 0 1 0 3.2 0a1.6 1.6 0 1 0 -3.2 0M415.0 153.9a1.6 1.6 0 1 0 3.2 0a1.6 1.6 0 1 0 -3.2 0M416.4 130.8a1.6 1.6 0 1 0 3.2 0a1.6 1.6 0 1 0 -3.2 0M417.8 137.4a1.6 1.6 0 1 0 3.2 0a1.6 1.6 0 1 0 -3.2 0M419.2 141.7a1.6 1.6 0 1 0 3.2 0a1.6 1.6 0 1 0 -3.2 0M420.6 95.9a1.6 1.6 0 1 0 3.2 0a1.6 1.6 0 1 0 -3.2 0M422.1 150.0a1.6 1.6 0 1 0 3.2 0a1.6 1.6 0 1 0 -3.2 0M424.9 140.1a1.6 1.6 0 1 0 3.2 0a1.6 1.6 0 1 0 -3.2 0M426.3 128.5a1.6 1.6 0 1 0 3.2 0a1.6 1.6 0 1 0 -3.2 0M427.7 131.6a1.6 1.6 0 1 0 3.2 0a1.6 1.6 0 1 0 -3.2 0M434.8 175.8a1.6 1.6 0 1 0 3.2 0a1.6 1.6 0 1 0 -3.2 0M436.3 144.1a1.6 1.6 0 1 0 3.2 0a1.6 1.6 0 1 0 -3.2 0M437.7 106.6a1.6 1.6 0 1 0 3.2 0a1.6 1.6 0 1 0 -3.2 0M439.1 98.9a1.6 1.6 0 1 0 3.2 0a1.6 1.6 0 1 0 -3.2 0M440.5 144.7a1.6 1.6 0 1 0 3.2 0a1.6 1.6 0 1 0 -3.2 0M441.9 126.1a1.6 1.6 0 1 0 3.2 0a1.6 1.6 0 1 0 -3.2 0M443.4 139.6a1.6 1.6 0 1 0 3.2 0a1.6 1.6 0 1 0 -3.2 0M444.8 143.9a1.6 1.6 0 1 0 3.2 0a1.6 1.6 0 1 0 -3.2 0M446.2 114.1a1.6 1.6 0 1 0 3.2 0a1.6 1.6 0 1 0 -3.2 0M447.6 100.7a1.6 1.6 0 1 0 3.2 0a1.6 1.6 0 1 0 -3.2 0M449.0 112.8a1.6 1.6 0 1 0 3.2 0a1.6 1.6 0 1 0 -3.2 0M450.5 102.2a1.6 1.6 0 1 0 3.2 0a1.6 1.6 0 1 0 -3.2 0M451.9 122.1a1.6 1.6 0 1 0 3.2 0a1.6 1.6 0 1 0 -3.2 0M453.3 149.4a1.6 1.6 0 1 0 3.2 0a1.6 1.6 0 1 0 -3.2 0M454.7 164.7a1.6 1.6 0 1 0 3.2 0a1.6 1.6 0 1 0 -3.2 0M456.1 98.6a1.6 1.6 0 1 0 3.2 0a1.6 1.6 0 1 0 -3.2 0M457.6 145.1a1.6 1.6 0 1 0 3.2 0a1.6 1.6 0 1 0 -3.2 0M459.0 150.4a1.6 1.6 0 1 0 3.2 0a1.6 1.6 0 1 0 -3.2 0M460.4 145.9a1.6 1.6 0 1 0 3.2 0a1.6 1.6 0 1 0 -3.2 0M461.8 152.5a1.6 1.6 0 1 0 3.2 0a1.6 1.6 0 1 0 -3.2 0M463.2 123.8a1.6 1.6 0 1 0 3.2 0a1.6 1.6 0 1 0 -3.2 0M464.7 146.4a1.6 1.6 0 1 0 3.2 0a1.6 1.6 0 1 0 -3.2 0M466.1 172.1a1.6 1.6 0 1 0 3.2 0a1.6 1.6 0 1 0 -3.2 0M467.5 147.7a1.6 1.6 0 1 0 3.2 0a1.6 1.6 0 1 0 -3.2 0M468.9 119.2a1.6 1.6 0 1 0 3.2 0a1.6 1.6 0 1 0 -3.2 0M471.8 155.4a1.6 1.6 0 1 0 3.2 0a1.6 1.6 0 1 0 -3.2 0M473.2 136.6a1.6 1.6 0 1 0 3.2 0a1.6 1.6 0 1 0 -3.2 0M474.6 117.1a1.6 1.6 0 1 0 3.2 0a1.6 1.6 0 1 0 -3.2 0M476.0 158.3a1.6 1.6 0 1 0 3.2 0a1.6 1.6 0 1 0 -3.2 0M477.4 101.6a1.6 1.6 0 1 0 3.2 0a1.6 1.6 0 1 0 -3.2 0M478.9 135.0a1.6 1.6 0 1 0 3.2 0a1.6 1.6 0 1 0 -3.2 0M480.3 122.9a1.6 1.6 0 1 0 3.2 0a1.6 1.6 0 1 0 -3.2 0M481.7 97.6a1.6 1.6 0 1 0 3.2 0a1.6 1.6 0 1 0 -3.2 0M483.1 144.1a1.6 1.6 0 1 0 3.2 0a1.6 1.6 0 1 0 -3.2 0M484.5 150.7a1.6 1.6 0 1 0 3.2 0a1.6 1.6 0 1 0 -3.2 0M486.0 92.9a1.6 1.6 0 1 0 3.2 0a1.6 1.6 0 1 0 -3.2 0M487.4 127.0a1.6 1.6 0 1 0 3.2 0a1.6 1.6 0 1 0 -3.2 0M488.8 105.8a1.6 1.6 0 1 0 3.2 0a1.6 1.6 0 1 0 -3.2 0M490.2 75.8a1.6 1.6 0 1 0 3.2 0a1.6 1.6 0 1 0 -3.2 0M491.6 99.6a1.6 1.6 0 1 0 3.2 0a1.6 1.6 0 1 0 -3.2 0M493.1 118.2a1.6 1.6 0 1 0 3.2 0a1.6 1.6 0 1 0 -3.2 0M494.5 125.1a1.6 1.6 0 1 0 3.2 0a1.6 1.6 0 1 0 -3.2 0M495.9 115.2a1.6 1.6 0 1 0 3.2 0a1.6 1.6 0 1 0 -3.2 0M497.3 112.3a1.6 1.6 0 1 0 3.2 0a1.6 1.6 0 1 0 -3.2 0M498.8 120.2a1.6 1.6 0 1 0 3.2 0a1.6 1.6 0 1 0 -3.2 0M500.2 106.0a1.6 1.6 0 1 0 3.2 0a1.6 1.6 0 1 0 -3.2 0M501.6 133.2a1.6 1.6 0 1 0 3.2 0a1.6 1.6 0 1 0 -3.2 0M503.0 112.0a1.6 1.6 0 1 0 3.2 0a1.6 1.6 0 1 0 -3.2 0M504.4 114.4a1.6 1.6 0 1 0 3.2 0a1.6 1.6 0 1 0 -3.2 0M505.9 118.7a1.6 1.6 0 1 0 3.2 0a1.6 1.6 0 1 0 -3.2 0M507.3 86.2a1.6 1.6 0 1 0 3.2 0a1.6 1.6 0 1 0 -3.2 0M508.7 92.5a1.6 1.6 0 1 0 3.2 0a1.6 1.6 0 1 0 -3.2 0M510.1 136.7a1.6 1.6 0 1 0 3.2 0a1.6 1.6 0 1 0 -3.2 0M511.5 111.8a1.6 1.6 0 1 0 3.2 0a1.6 1.6 0 1 0 -3.2 0M513.0 96.9a1.6 1.6 0 1 0 3.2 0a1.6 1.6 0 1 0 -3.2 0M514.4 106.9a1.6 1.6 0 1 0 3.2 0a1.6 1.6 0 1 0 -3.2 0M515.8 87.8a1.6 1.6 0 1 0 3.2 0a1.6 1.6 0 1 0 -3.2 0M517.2 100.5a1.6 1.6 0 1 0 3.2 0a1.6 1.6 0 1 0 -3.2 0M518.6 79.1a1.6 1.6 0 1 0 3.2 0a1.6 1.6 0 1 0 -3.2 0M520.1 95.4a1.6 1.6 0 1 0 3.2 0a1.6 1.6 0 1 0 -3.2 0M521.5 55.8a1.6 1.6 0 1 0 3.2 0a1.6 1.6 0 1 0 -3.2 0M522.9 114.8a1.6 1.6 0 1 0 3.2 0a1.6 1.6 0 1 0 -3.2 0M525.7 58.8a1.6 1.6 0 1 0 3.2 0a1.6 1.6 0 1 0 -3.2 0M527.2 87.1a1.6 1.6 0 1 0 3.2 0a1.6 1.6 0 1 0 -3.2 0M530.0 96.9a1.6 1.6 0 1 0 3.2 0a1.6 1.6 0 1 0 -3.2 0M531.4 72.1a1.6 1.6 0 1 0 3.2 0a1.6 1.6 0 1 0 -3.2 0M534.3 169.0a1.6 1.6 0 1 0 3.2 0a1.6 1.6 0 1 0 -3.2 0M537.1 104.6a1.6 1.6 0 1 0 3.2 0a1.6 1.6 0 1 0 -3.2 0M538.5 92.2a1.6 1.6 0 1 0 3.2 0a1.6 1.6 0 1 0 -3.2 0M539.9 103.0a1.6 1.6 0 1 0 3.2 0a1.6 1.6 0 1 0 -3.2 0M542.8 77.4a1.6 1.6 0 1 0 3.2 0a1.6 1.6 0 1 0 -3.2 0M544.2 118.0a1.6 1.6 0 1 0 3.2 0a1.6 1.6 0 1 0 -3.2 0M547.0 135.0a1.6 1.6 0 1 0 3.2 0a1.6 1.6 0 1 0 -3.2 0M548.5 88.7a1.6 1.6 0 1 0 3.2 0a1.6 1.6 0 1 0 -3.2 0M551.3 160.3a1.6 1.6 0 1 0 3.2 0a1.6 1.6 0 1 0 -3.2 0M552.7 84.1a1.6 1.6 0 1 0 3.2 0a1.6 1.6 0 1 0 -3.2 0M554.1 67.1a1.6 1.6 0 1 0 3.2 0a1.6 1.6 0 1 0 -3.2 0M555.6 93.4a1.6 1.6 0 1 0 3.2 0a1.6 1.6 0 1 0 -3.2 0M557.0 90.5a1.6 1.6 0 1 0 3.2 0a1.6 1.6 0 1 0 -3.2 0M558.4 105.6a1.6 1.6 0 1 0 3.2 0a1.6 1.6 0 1 0 -3.2 0M561.2 72.6a1.6 1.6 0 1 0 3.2 0a1.6 1.6 0 1 0 -3.2 0M562.7 93.5a1.6 1.6 0 1 0 3.2 0a1.6 1.6 0 1 0 -3.2 0M564.1 143.6a1.6 1.6 0 1 0 3.2 0a1.6 1.6 0 1 0 -3.2 0M565.5 117.8a1.6 1.6 0 1 0 3.2 0a1.6 1.6 0 1 0 -3.2 0M568.3 92.6a1.6 1.6 0 1 0 3.2 0a1.6 1.6 0 1 0 -3.2 0M569.8 79.5a1.6 1.6 0 1 0 3.2 0a1.6 1.6 0 1 0 -3.2 0M571.2 110.9a1.6 1.6 0 1 0 3.2 0a1.6 1.6 0 1 0 -3.2 0M572.6 96.4a1.6 1.6 0 1 0 3.2 0a1.6 1.6 0 1 0 -3.2 0M574.0 140.0a1.6 1.6 0 1 0 3.2 0a1.6 1.6 0 1 0 -3.2 0M575.4 121.4a1.6 1.6 0 1 0 3.2 0a1.6 1.6 0 1 0 -3.2 0M576.9 122.0a1.6 1.6 0 1 0 3.2 0a1.6 1.6 0 1 0 -3.2 0M578.3 109.3a1.6 1.6 0 1 0 3.2 0a1.6 1.6 0 1 0 -3.2 0M579.7 105.8a1.6 1.6 0 1 0 3.2 0a1.6 1.6 0 1 0 -3.2 0M581.1 112.8a1.6 1.6 0 1 0 3.2 0a1.6 1.6 0 1 0 -3.2 0M582.6 131.4a1.6 1.6 0 1 0 3.2 0a1.6 1.6 0 1 0 -3.2 0M584.0 115.6a1.6 1.6 0 1 0 3.2 0a1.6 1.6 0 1 0 -3.2 0M585.4 97.3a1.6 1.6 0 1 0 3.2 0a1.6 1.6 0 1 0 -3.2 0M586.8 129.3a1.6 1.6 0 1 0 3.2 0a1.6 1.6 0 1 0 -3.2 0M589.7 101.1a1.6 1.6 0 1 0 3.2 0a1.6 1.6 0 1 0 -3.2 0M591.1 88.8a1.6 1.6 0 1 0 3.2 0a1.6 1.6 0 1 0 -3.2 0M592.5 95.5a1.6 1.6 0 1 0 3.2 0a1.6 1.6 0 1 0 -3.2 0M593.9 67.4a1.6 1.6 0 1 0 3.2 0a1.6 1.6 0 1 0 -3.2 0M595.3 55.2a1.6 1.6 0 1 0 3.2 0a1.6 1.6 0 1 0 -3.2 0M596.8 133.6a1.6 1.6 0 1 0 3.2 0a1.6 1.6 0 1 0 -3.2 0M598.2 94.7a1.6 1.6 0 1 0 3.2 0a1.6 1.6 0 1 0 -3.2 0M599.6 113.2a1.6 1.6 0 1 0 3.2 0a1.6 1.6 0 1 0 -3.2 0M601.0 138.3a1.6 1.6 0 1 0 3.2 0a1.6 1.6 0 1 0 -3.2 0M602.4 125.2a1.6 1.6 0 1 0 3.2 0a1.6 1.6 0 1 0 -3.2 0M603.9 122.8a1.6 1.6 0 1 0 3.2 0a1.6 1.6 0 1 0 -3.2 0M605.3 64.9a1.6 1.6 0 1 0 3.2 0a1.6 1.6 0 1 0 -3.2 0M606.7 108.7a1.6 1.6 0 1 0 3.2 0a1.6 1.6 0 1 0 -3.2 0M608.1 123.0a1.6 1.6 0 1 0 3.2 0a1.6 1.6 0 1 0 -3.2 0M609.5 143.6a1.6 1.6 0 1 0 3.2 0a1.6 1.6 0 1 0 -3.2 0M611.0 149.9a1.6 1.6 0 1 0 3.2 0a1.6 1.6 0 1 0 -3.2 0M612.4 147.5a1.6 1.6 0 1 0 3.2 0a1.6 1.6 0 1 0 -3.2 0M613.8 101.6a1.6 1.6 0 1 0 3.2 0a1.6 1.6 0 1 0 -3.2 0M615.2 86.7a1.6 1.6 0 1 0 3.2 0a1.6 1.6 0 1 0 -3.2 0M616.6 148.0a1.6 1.6 0 1 0 3.2 0a1.6 1.6 0 1 0 -3.2 0M618.1 143.0a1.6 1.6 0 1 0 3.2 0a1.6 1.6 0 1 0 -3.2 0M619.5 167.5a1.6 1.6 0 1 0 3.2 0a1.6 1.6 0 1 0 -3.2 0" stroke="#ee0000" stroke-opacity="0.62" stroke-width="1.2"/><path d="M103.9 71.5a1.6 1.6 0 1 0 3.2 0a1.6 1.6 0 1 0 -3.2 0M105.3 93.5a1.6 1.6 0 1 0 3.2 0a1.6 1.6 0 1 0 -3.2 0M106.7 86.9a1.6 1.6 0 1 0 3.2 0a1.6 1.6 0 1 0 -3.2 0M108.2 86.4a1.6 1.6 0 1 0 3.2 0a1.6 1.6 0 1 0 -3.2 0M109.6 105.0a1.6 1.6 0 1 0 3.2 0a1.6 1.6 0 1 0 -3.2 0M112.4 57.5a1.6 1.6 0 1 0 3.2 0a1.6 1.6 0 1 0 -3.2 0M115.3 73.2a1.6 1.6 0 1 0 3.2 0a1.6 1.6 0 1 0 -3.2 0M116.7 99.2a1.6 1.6 0 1 0 3.2 0a1.6 1.6 0 1 0 -3.2 0M118.1 80.4a1.6 1.6 0 1 0 3.2 0a1.6 1.6 0 1 0 -3.2 0M119.5 94.0a1.6 1.6 0 1 0 3.2 0a1.6 1.6 0 1 0 -3.2 0M122.4 92.1a1.6 1.6 0 1 0 3.2 0a1.6 1.6 0 1 0 -3.2 0M123.8 77.1a1.6 1.6 0 1 0 3.2 0a1.6 1.6 0 1 0 -3.2 0M125.2 126.9a1.6 1.6 0 1 0 3.2 0a1.6 1.6 0 1 0 -3.2 0M126.6 107.9a1.6 1.6 0 1 0 3.2 0a1.6 1.6 0 1 0 -3.2 0M129.5 87.3a1.6 1.6 0 1 0 3.2 0a1.6 1.6 0 1 0 -3.2 0M130.9 101.1a1.6 1.6 0 1 0 3.2 0a1.6 1.6 0 1 0 -3.2 0M132.3 103.6a1.6 1.6 0 1 0 3.2 0a1.6 1.6 0 1 0 -3.2 0M133.7 84.9a1.6 1.6 0 1 0 3.2 0a1.6 1.6 0 1 0 -3.2 0M135.1 84.1a1.6 1.6 0 1 0 3.2 0a1.6 1.6 0 1 0 -3.2 0M136.6 94.5a1.6 1.6 0 1 0 3.2 0a1.6 1.6 0 1 0 -3.2 0M138.0 86.5a1.6 1.6 0 1 0 3.2 0a1.6 1.6 0 1 0 -3.2 0M139.4 89.1a1.6 1.6 0 1 0 3.2 0a1.6 1.6 0 1 0 -3.2 0M140.8 97.8a1.6 1.6 0 1 0 3.2 0a1.6 1.6 0 1 0 -3.2 0M142.2 89.4a1.6 1.6 0 1 0 3.2 0a1.6 1.6 0 1 0 -3.2 0M143.7 121.7a1.6 1.6 0 1 0 3.2 0a1.6 1.6 0 1 0 -3.2 0M145.1 73.1a1.6 1.6 0 1 0 3.2 0a1.6 1.6 0 1 0 -3.2 0M146.5 124.9a1.6 1.6 0 1 0 3.2 0a1.6 1.6 0 1 0 -3.2 0M147.9 95.4a1.6 1.6 0 1 0 3.2 0a1.6 1.6 0 1 0 -3.2 0M149.4 98.0a1.6 1.6 0 1 0 3.2 0a1.6 1.6 0 1 0 -3.2 0M150.8 82.0a1.6 1.6 0 1 0 3.2 0a1.6 1.6 0 1 0 -3.2 0M152.2 112.4a1.6 1.6 0 1 0 3.2 0a1.6 1.6 0 1 0 -3.2 0M153.6 106.3a1.6 1.6 0 1 0 3.2 0a1.6 1.6 0 1 0 -3.2 0M155.0 114.5a1.6 1.6 0 1 0 3.2 0a1.6 1.6 0 1 0 -3.2 0M156.5 98.2a1.6 1.6 0 1 0 3.2 0a1.6 1.6 0 1 0 -3.2 0M157.9 110.3a1.6 1.6 0 1 0 3.2 0a1.6 1.6 0 1 0 -3.2 0M159.3 145.6a1.6 1.6 0 1 0 3.2 0a1.6 1.6 0 1 0 -3.2 0M160.7 115.1a1.6 1.6 0 1 0 3.2 0a1.6 1.6 0 1 0 -3.2 0M162.1 93.8a1.6 1.6 0 1 0 3.2 0a1.6 1.6 0 1 0 -3.2 0M163.6 125.2a1.6 1.6 0 1 0 3.2 0a1.6 1.6 0 1 0 -3.2 0M165.0 101.9a1.6 1.6 0 1 0 3.2 0a1.6 1.6 0 1 0 -3.2 0M166.4 116.4a1.6 1.6 0 1 0 3.2 0a1.6 1.6 0 1 0 -3.2 0M167.8 116.2a1.6 1.6 0 1 0 3.2 0a1.6 1.6 0 1 0 -3.2 0M169.2 94.4a1.6 1.6 0 1 0 3.2 0a1.6 1.6 0 1 0 -3.2 0M172.1 94.6a1.6 1.6 0 1 0 3.2 0a1.6 1.6 0 1 0 -3.2 0M173.5 114.3a1.6 1.6 0 1 0 3.2 0a1.6 1.6 0 1 0 -3.2 0M174.9 95.6a1.6 1.6 0 1 0 3.2 0a1.6 1.6 0 1 0 -3.2 0M176.3 113.7a1.6 1.6 0 1 0 3.2 0a1.6 1.6 0 1 0 -3.2 0M179.2 151.2a1.6 1.6 0 1 0 3.2 0a1.6 1.6 0 1 0 -3.2 0M180.6 132.9a1.6 1.6 0 1 0 3.2 0a1.6 1.6 0 1 0 -3.2 0M182.0 141.4a1.6 1.6 0 1 0 3.2 0a1.6 1.6 0 1 0 -3.2 0M183.4 124.5a1.6 1.6 0 1 0 3.2 0a1.6 1.6 0 1 0 -3.2 0M184.9 120.8a1.6 1.6 0 1 0 3.2 0a1.6 1.6 0 1 0 -3.2 0M186.3 113.8a1.6 1.6 0 1 0 3.2 0a1.6 1.6 0 1 0 -3.2 0M187.7 132.6a1.6 1.6 0 1 0 3.2 0a1.6 1.6 0 1 0 -3.2 0M189.1 83.6a1.6 1.6 0 1 0 3.2 0a1.6 1.6 0 1 0 -3.2 0M190.5 74.2a1.6 1.6 0 1 0 3.2 0a1.6 1.6 0 1 0 -3.2 0M192.0 86.0a1.6 1.6 0 1 0 3.2 0a1.6 1.6 0 1 0 -3.2 0M193.4 90.0a1.6 1.6 0 1 0 3.2 0a1.6 1.6 0 1 0 -3.2 0M196.2 64.8a1.6 1.6 0 1 0 3.2 0a1.6 1.6 0 1 0 -3.2 0M197.6 94.5a1.6 1.6 0 1 0 3.2 0a1.6 1.6 0 1 0 -3.2 0M199.1 99.9a1.6 1.6 0 1 0 3.2 0a1.6 1.6 0 1 0 -3.2 0M200.5 61.0a1.6 1.6 0 1 0 3.2 0a1.6 1.6 0 1 0 -3.2 0M201.9 51.9a1.6 1.6 0 1 0 3.2 0a1.6 1.6 0 1 0 -3.2 0M203.3 82.9a1.6 1.6 0 1 0 3.2 0a1.6 1.6 0 1 0 -3.2 0M204.7 70.6a1.6 1.6 0 1 0 3.2 0a1.6 1.6 0 1 0 -3.2 0M207.6 98.0a1.6 1.6 0 1 0 3.2 0a1.6 1.6 0 1 0 -3.2 0M209.0 107.8a1.6 1.6 0 1 0 3.2 0a1.6 1.6 0 1 0 -3.2 0M210.4 87.0a1.6 1.6 0 1 0 3.2 0a1.6 1.6 0 1 0 -3.2 0M211.8 97.9a1.6 1.6 0 1 0 3.2 0a1.6 1.6 0 1 0 -3.2 0M214.7 92.1a1.6 1.6 0 1 0 3.2 0a1.6 1.6 0 1 0 -3.2 0M216.1 98.6a1.6 1.6 0 1 0 3.2 0a1.6 1.6 0 1 0 -3.2 0M218.9 119.7a1.6 1.6 0 1 0 3.2 0a1.6 1.6 0 1 0 -3.2 0M220.4 123.5a1.6 1.6 0 1 0 3.2 0a1.6 1.6 0 1 0 -3.2 0M221.8 134.2a1.6 1.6 0 1 0 3.2 0a1.6 1.6 0 1 0 -3.2 0M223.2 141.3a1.6 1.6 0 1 0 3.2 0a1.6 1.6 0 1 0 -3.2 0M224.6 85.0a1.6 1.6 0 1 0 3.2 0a1.6 1.6 0 1 0 -3.2 0M226.0 104.0a1.6 1.6 0 1 0 3.2 0a1.6 1.6 0 1 0 -3.2 0M228.9 127.0a1.6 1.6 0 1 0 3.2 0a1.6 1.6 0 1 0 -3.2 0M230.3 80.3a1.6 1.6 0 1 0 3.2 0a1.6 1.6 0 1 0 -3.2 0M231.7 135.6a1.6 1.6 0 1 0 3.2 0a1.6 1.6 0 1 0 -3.2 0M233.1 100.7a1.6 1.6 0 1 0 3.2 0a1.6 1.6 0 1 0 -3.2 0M234.6 104.0a1.6 1.6 0 1 0 3.2 0a1.6 1.6 0 1 0 -3.2 0M236.0 113.6a1.6 1.6 0 1 0 3.2 0a1.6 1.6 0 1 0 -3.2 0M237.4 122.6a1.6 1.6 0 1 0 3.2 0a1.6 1.6 0 1 0 -3.2 0M238.8 75.0a1.6 1.6 0 1 0 3.2 0a1.6 1.6 0 1 0 -3.2 0M240.3 122.6a1.6 1.6 0 1 0 3.2 0a1.6 1.6 0 1 0 -3.2 0M241.7 100.2a1.6 1.6 0 1 0 3.2 0a1.6 1.6 0 1 0 -3.2 0M243.1 79.1a1.6 1.6 0 1 0 3.2 0a1.6 1.6 0 1 0 -3.2 0M244.5 86.3a1.6 1.6 0 1 0 3.2 0a1.6 1.6 0 1 0 -3.2 0M247.4 53.6a1.6 1.6 0 1 0 3.2 0a1.6 1.6 0 1 0 -3.2 0M248.8 97.2a1.6 1.6 0 1 0 3.2 0a1.6 1.6 0 1 0 -3.2 0M250.2 66.0a1.6 1.6 0 1 0 3.2 0a1.6 1.6 0 1 0 -3.2 0M251.6 72.6a1.6 1.6 0 1 0 3.2 0a1.6 1.6 0 1 0 -3.2 0M253.0 75.0a1.6 1.6 0 1 0 3.2 0a1.6 1.6 0 1 0 -3.2 0M254.5 77.7a1.6 1.6 0 1 0 3.2 0a1.6 1.6 0 1 0 -3.2 0M255.9 96.7a1.6 1.6 0 1 0 3.2 0a1.6 1.6 0 1 0 -3.2 0M257.3 73.3a1.6 1.6 0 1 0 3.2 0a1.6 1.6 0 1 0 -3.2 0M258.7 66.9a1.6 1.6 0 1 0 3.2 0a1.6 1.6 0 1 0 -3.2 0M260.1 82.3a1.6 1.6 0 1 0 3.2 0a1.6 1.6 0 1 0 -3.2 0M261.6 114.6a1.6 1.6 0 1 0 3.2 0a1.6 1.6 0 1 0 -3.2 0M263.0 66.9a1.6 1.6 0 1 0 3.2 0a1.6 1.6 0 1 0 -3.2 0M264.4 88.0a1.6 1.6 0 1 0 3.2 0a1.6 1.6 0 1 0 -3.2 0M268.7 100.5a1.6 1.6 0 1 0 3.2 0a1.6 1.6 0 1 0 -3.2 0M270.1 117.8a1.6 1.6 0 1 0 3.2 0a1.6 1.6 0 1 0 -3.2 0M271.5 91.6a1.6 1.6 0 1 0 3.2 0a1.6 1.6 0 1 0 -3.2 0M272.9 72.9a1.6 1.6 0 1 0 3.2 0a1.6 1.6 0 1 0 -3.2 0M274.3 115.4a1.6 1.6 0 1 0 3.2 0a1.6 1.6 0 1 0 -3.2 0M275.8 114.6a1.6 1.6 0 1 0 3.2 0a1.6 1.6 0 1 0 -3.2 0M277.2 72.0a1.6 1.6 0 1 0 3.2 0a1.6 1.6 0 1 0 -3.2 0M278.6 71.8a1.6 1.6 0 1 0 3.2 0a1.6 1.6 0 1 0 -3.2 0M280.0 114.2a1.6 1.6 0 1 0 3.2 0a1.6 1.6 0 1 0 -3.2 0M281.4 103.1a1.6 1.6 0 1 0 3.2 0a1.6 1.6 0 1 0 -3.2 0M282.9 166.3a1.6 1.6 0 1 0 3.2 0a1.6 1.6 0 1 0 -3.2 0M284.3 104.3a1.6 1.6 0 1 0 3.2 0a1.6 1.6 0 1 0 -3.2 0M285.7 111.7a1.6 1.6 0 1 0 3.2 0a1.6 1.6 0 1 0 -3.2 0M287.1 126.2a1.6 1.6 0 1 0 3.2 0a1.6 1.6 0 1 0 -3.2 0M288.5 99.3a1.6 1.6 0 1 0 3.2 0a1.6 1.6 0 1 0 -3.2 0M290.0 121.3a1.6 1.6 0 1 0 3.2 0a1.6 1.6 0 1 0 -3.2 0M291.4 180.2a1.6 1.6 0 1 0 3.2 0a1.6 1.6 0 1 0 -3.2 0M292.8 142.8a1.6 1.6 0 1 0 3.2 0a1.6 1.6 0 1 0 -3.2 0M294.2 126.8a1.6 1.6 0 1 0 3.2 0a1.6 1.6 0 1 0 -3.2 0M295.6 106.9a1.6 1.6 0 1 0 3.2 0a1.6 1.6 0 1 0 -3.2 0M297.1 139.8a1.6 1.6 0 1 0 3.2 0a1.6 1.6 0 1 0 -3.2 0M299.9 121.0a1.6 1.6 0 1 0 3.2 0a1.6 1.6 0 1 0 -3.2 0M301.3 101.5a1.6 1.6 0 1 0 3.2 0a1.6 1.6 0 1 0 -3.2 0M302.7 112.0a1.6 1.6 0 1 0 3.2 0a1.6 1.6 0 1 0 -3.2 0M304.2 115.6a1.6 1.6 0 1 0 3.2 0a1.6 1.6 0 1 0 -3.2 0M305.6 95.3a1.6 1.6 0 1 0 3.2 0a1.6 1.6 0 1 0 -3.2 0M307.0 124.7a1.6 1.6 0 1 0 3.2 0a1.6 1.6 0 1 0 -3.2 0M308.4 69.2a1.6 1.6 0 1 0 3.2 0a1.6 1.6 0 1 0 -3.2 0M309.8 88.5a1.6 1.6 0 1 0 3.2 0a1.6 1.6 0 1 0 -3.2 0M311.3 111.2a1.6 1.6 0 1 0 3.2 0a1.6 1.6 0 1 0 -3.2 0M314.1 94.0a1.6 1.6 0 1 0 3.2 0a1.6 1.6 0 1 0 -3.2 0M315.5 124.1a1.6 1.6 0 1 0 3.2 0a1.6 1.6 0 1 0 -3.2 0M316.9 138.2a1.6 1.6 0 1 0 3.2 0a1.6 1.6 0 1 0 -3.2 0M318.4 124.3a1.6 1.6 0 1 0 3.2 0a1.6 1.6 0 1 0 -3.2 0M319.8 118.3a1.6 1.6 0 1 0 3.2 0a1.6 1.6 0 1 0 -3.2 0M321.2 128.6a1.6 1.6 0 1 0 3.2 0a1.6 1.6 0 1 0 -3.2 0M322.6 117.1a1.6 1.6 0 1 0 3.2 0a1.6 1.6 0 1 0 -3.2 0M324.1 89.1a1.6 1.6 0 1 0 3.2 0a1.6 1.6 0 1 0 -3.2 0M325.5 55.7a1.6 1.6 0 1 0 3.2 0a1.6 1.6 0 1 0 -3.2 0M326.9 127.9a1.6 1.6 0 1 0 3.2 0a1.6 1.6 0 1 0 -3.2 0M328.3 74.3a1.6 1.6 0 1 0 3.2 0a1.6 1.6 0 1 0 -3.2 0M329.7 106.2a1.6 1.6 0 1 0 3.2 0a1.6 1.6 0 1 0 -3.2 0M331.2 84.8a1.6 1.6 0 1 0 3.2 0a1.6 1.6 0 1 0 -3.2 0M332.6 74.0a1.6 1.6 0 1 0 3.2 0a1.6 1.6 0 1 0 -3.2 0M334.0 71.8a1.6 1.6 0 1 0 3.2 0a1.6 1.6 0 1 0 -3.2 0M335.4 95.3a1.6 1.6 0 1 0 3.2 0a1.6 1.6 0 1 0 -3.2 0M336.8 100.0a1.6 1.6 0 1 0 3.2 0a1.6 1.6 0 1 0 -3.2 0M338.3 100.0a1.6 1.6 0 1 0 3.2 0a1.6 1.6 0 1 0 -3.2 0M339.7 63.5a1.6 1.6 0 1 0 3.2 0a1.6 1.6 0 1 0 -3.2 0M343.9 121.9a1.6 1.6 0 1 0 3.2 0a1.6 1.6 0 1 0 -3.2 0M345.4 118.9a1.6 1.6 0 1 0 3.2 0a1.6 1.6 0 1 0 -3.2 0M346.8 124.9a1.6 1.6 0 1 0 3.2 0a1.6 1.6 0 1 0 -3.2 0M348.2 82.6a1.6 1.6 0 1 0 3.2 0a1.6 1.6 0 1 0 -3.2 0M351.0 98.5a1.6 1.6 0 1 0 3.2 0a1.6 1.6 0 1 0 -3.2 0M352.5 118.7a1.6 1.6 0 1 0 3.2 0a1.6 1.6 0 1 0 -3.2 0M353.9 104.5a1.6 1.6 0 1 0 3.2 0a1.6 1.6 0 1 0 -3.2 0M355.3 71.4a1.6 1.6 0 1 0 3.2 0a1.6 1.6 0 1 0 -3.2 0M356.7 88.0a1.6 1.6 0 1 0 3.2 0a1.6 1.6 0 1 0 -3.2 0M358.1 169.1a1.6 1.6 0 1 0 3.2 0a1.6 1.6 0 1 0 -3.2 0M359.6 103.7a1.6 1.6 0 1 0 3.2 0a1.6 1.6 0 1 0 -3.2 0M361.0 82.0a1.6 1.6 0 1 0 3.2 0a1.6 1.6 0 1 0 -3.2 0M362.4 118.6a1.6 1.6 0 1 0 3.2 0a1.6 1.6 0 1 0 -3.2 0M363.8 163.2a1.6 1.6 0 1 0 3.2 0a1.6 1.6 0 1 0 -3.2 0M365.2 130.7a1.6 1.6 0 1 0 3.2 0a1.6 1.6 0 1 0 -3.2 0M368.1 126.7a1.6 1.6 0 1 0 3.2 0a1.6 1.6 0 1 0 -3.2 0M369.5 131.0a1.6 1.6 0 1 0 3.2 0a1.6 1.6 0 1 0 -3.2 0M372.3 146.1a1.6 1.6 0 1 0 3.2 0a1.6 1.6 0 1 0 -3.2 0M373.8 122.3a1.6 1.6 0 1 0 3.2 0a1.6 1.6 0 1 0 -3.2 0M375.2 142.5a1.6 1.6 0 1 0 3.2 0a1.6 1.6 0 1 0 -3.2 0M376.6 143.6a1.6 1.6 0 1 0 3.2 0a1.6 1.6 0 1 0 -3.2 0M378.0 113.6a1.6 1.6 0 1 0 3.2 0a1.6 1.6 0 1 0 -3.2 0M379.4 122.3a1.6 1.6 0 1 0 3.2 0a1.6 1.6 0 1 0 -3.2 0M380.9 120.9a1.6 1.6 0 1 0 3.2 0a1.6 1.6 0 1 0 -3.2 0M383.7 139.2a1.6 1.6 0 1 0 3.2 0a1.6 1.6 0 1 0 -3.2 0M385.1 112.7a1.6 1.6 0 1 0 3.2 0a1.6 1.6 0 1 0 -3.2 0M389.4 93.4a1.6 1.6 0 1 0 3.2 0a1.6 1.6 0 1 0 -3.2 0M390.8 153.3a1.6 1.6 0 1 0 3.2 0a1.6 1.6 0 1 0 -3.2 0M393.6 135.4a1.6 1.6 0 1 0 3.2 0a1.6 1.6 0 1 0 -3.2 0M395.1 106.0a1.6 1.6 0 1 0 3.2 0a1.6 1.6 0 1 0 -3.2 0M396.5 120.5a1.6 1.6 0 1 0 3.2 0a1.6 1.6 0 1 0 -3.2 0M397.9 118.4a1.6 1.6 0 1 0 3.2 0a1.6 1.6 0 1 0 -3.2 0M399.3 85.4a1.6 1.6 0 1 0 3.2 0a1.6 1.6 0 1 0 -3.2 0M400.7 91.6a1.6 1.6 0 1 0 3.2 0a1.6 1.6 0 1 0 -3.2 0M402.2 99.9a1.6 1.6 0 1 0 3.2 0a1.6 1.6 0 1 0 -3.2 0M403.6 102.2a1.6 1.6 0 1 0 3.2 0a1.6 1.6 0 1 0 -3.2 0M405.0 101.2a1.6 1.6 0 1 0 3.2 0a1.6 1.6 0 1 0 -3.2 0M406.4 146.6a1.6 1.6 0 1 0 3.2 0a1.6 1.6 0 1 0 -3.2 0M407.9 69.7a1.6 1.6 0 1 0 3.2 0a1.6 1.6 0 1 0 -3.2 0M409.3 135.4a1.6 1.6 0 1 0 3.2 0a1.6 1.6 0 1 0 -3.2 0M410.7 121.1a1.6 1.6 0 1 0 3.2 0a1.6 1.6 0 1 0 -3.2 0M412.1 95.3a1.6 1.6 0 1 0 3.2 0a1.6 1.6 0 1 0 -3.2 0M416.4 119.3a1.6 1.6 0 1 0 3.2 0a1.6 1.6 0 1 0 -3.2 0M417.8 147.9a1.6 1.6 0 1 0 3.2 0a1.6 1.6 0 1 0 -3.2 0M420.6 108.0a1.6 1.6 0 1 0 3.2 0a1.6 1.6 0 1 0 -3.2 0M422.1 89.9a1.6 1.6 0 1 0 3.2 0a1.6 1.6 0 1 0 -3.2 0M423.5 108.3a1.6 1.6 0 1 0 3.2 0a1.6 1.6 0 1 0 -3.2 0M424.9 108.2a1.6 1.6 0 1 0 3.2 0a1.6 1.6 0 1 0 -3.2 0M426.3 116.9a1.6 1.6 0 1 0 3.2 0a1.6 1.6 0 1 0 -3.2 0M429.2 125.7a1.6 1.6 0 1 0 3.2 0a1.6 1.6 0 1 0 -3.2 0M432.0 116.7a1.6 1.6 0 1 0 3.2 0a1.6 1.6 0 1 0 -3.2 0M433.4 160.0a1.6 1.6 0 1 0 3.2 0a1.6 1.6 0 1 0 -3.2 0M434.8 160.5a1.6 1.6 0 1 0 3.2 0a1.6 1.6 0 1 0 -3.2 0M436.3 148.5a1.6 1.6 0 1 0 3.2 0a1.6 1.6 0 1 0 -3.2 0M437.7 128.3a1.6 1.6 0 1 0 3.2 0a1.6 1.6 0 1 0 -3.2 0M439.1 128.4a1.6 1.6 0 1 0 3.2 0a1.6 1.6 0 1 0 -3.2 0M440.5 121.2a1.6 1.6 0 1 0 3.2 0a1.6 1.6 0 1 0 -3.2 0M441.9 143.5a1.6 1.6 0 1 0 3.2 0a1.6 1.6 0 1 0 -3.2 0M443.4 87.8a1.6 1.6 0 1 0 3.2 0a1.6 1.6 0 1 0 -3.2 0M444.8 119.4a1.6 1.6 0 1 0 3.2 0a1.6 1.6 0 1 0 -3.2 0M446.2 135.0a1.6 1.6 0 1 0 3.2 0a1.6 1.6 0 1 0 -3.2 0M447.6 121.2a1.6 1.6 0 1 0 3.2 0a1.6 1.6 0 1 0 -3.2 0M450.5 129.2a1.6 1.6 0 1 0 3.2 0a1.6 1.6 0 1 0 -3.2 0M451.9 56.5a1.6 1.6 0 1 0 3.2 0a1.6 1.6 0 1 0 -3.2 0M453.3 144.8a1.6 1.6 0 1 0 3.2 0a1.6 1.6 0 1 0 -3.2 0M454.7 154.2a1.6 1.6 0 1 0 3.2 0a1.6 1.6 0 1 0 -3.2 0M457.6 77.9a1.6 1.6 0 1 0 3.2 0a1.6 1.6 0 1 0 -3.2 0M459.0 111.2a1.6 1.6 0 1 0 3.2 0a1.6 1.6 0 1 0 -3.2 0M460.4 94.5a1.6 1.6 0 1 0 3.2 0a1.6 1.6 0 1 0 -3.2 0M461.8 127.0a1.6 1.6 0 1 0 3.2 0a1.6 1.6 0 1 0 -3.2 0M464.7 116.8a1.6 1.6 0 1 0 3.2 0a1.6 1.6 0 1 0 -3.2 0M466.1 151.6a1.6 1.6 0 1 0 3.2 0a1.6 1.6 0 1 0 -3.2 0M467.5 139.4a1.6 1.6 0 1 0 3.2 0a1.6 1.6 0 1 0 -3.2 0M468.9 121.1a1.6 1.6 0 1 0 3.2 0a1.6 1.6 0 1 0 -3.2 0M470.3 87.4a1.6 1.6 0 1 0 3.2 0a1.6 1.6 0 1 0 -3.2 0M471.8 108.8a1.6 1.6 0 1 0 3.2 0a1.6 1.6 0 1 0 -3.2 0M474.6 126.6a1.6 1.6 0 1 0 3.2 0a1.6 1.6 0 1 0 -3.2 0M476.0 106.5a1.6 1.6 0 1 0 3.2 0a1.6 1.6 0 1 0 -3.2 0M477.4 132.0a1.6 1.6 0 1 0 3.2 0a1.6 1.6 0 1 0 -3.2 0M478.9 108.5a1.6 1.6 0 1 0 3.2 0a1.6 1.6 0 1 0 -3.2 0M480.3 62.3a1.6 1.6 0 1 0 3.2 0a1.6 1.6 0 1 0 -3.2 0M481.7 117.2a1.6 1.6 0 1 0 3.2 0a1.6 1.6 0 1 0 -3.2 0M483.1 79.1a1.6 1.6 0 1 0 3.2 0a1.6 1.6 0 1 0 -3.2 0M484.5 139.7a1.6 1.6 0 1 0 3.2 0a1.6 1.6 0 1 0 -3.2 0M486.0 84.9a1.6 1.6 0 1 0 3.2 0a1.6 1.6 0 1 0 -3.2 0M487.4 86.5a1.6 1.6 0 1 0 3.2 0a1.6 1.6 0 1 0 -3.2 0M488.8 107.7a1.6 1.6 0 1 0 3.2 0a1.6 1.6 0 1 0 -3.2 0M490.2 84.9a1.6 1.6 0 1 0 3.2 0a1.6 1.6 0 1 0 -3.2 0M491.6 79.8a1.6 1.6 0 1 0 3.2 0a1.6 1.6 0 1 0 -3.2 0M493.1 87.4a1.6 1.6 0 1 0 3.2 0a1.6 1.6 0 1 0 -3.2 0M494.5 92.1a1.6 1.6 0 1 0 3.2 0a1.6 1.6 0 1 0 -3.2 0M495.9 100.3a1.6 1.6 0 1 0 3.2 0a1.6 1.6 0 1 0 -3.2 0M497.3 93.7a1.6 1.6 0 1 0 3.2 0a1.6 1.6 0 1 0 -3.2 0M498.8 110.6a1.6 1.6 0 1 0 3.2 0a1.6 1.6 0 1 0 -3.2 0M500.2 118.2a1.6 1.6 0 1 0 3.2 0a1.6 1.6 0 1 0 -3.2 0M503.0 143.4a1.6 1.6 0 1 0 3.2 0a1.6 1.6 0 1 0 -3.2 0M504.4 142.9a1.6 1.6 0 1 0 3.2 0a1.6 1.6 0 1 0 -3.2 0M505.9 130.0a1.6 1.6 0 1 0 3.2 0a1.6 1.6 0 1 0 -3.2 0M507.3 135.2a1.6 1.6 0 1 0 3.2 0a1.6 1.6 0 1 0 -3.2 0M508.7 121.3a1.6 1.6 0 1 0 3.2 0a1.6 1.6 0 1 0 -3.2 0M510.1 105.9a1.6 1.6 0 1 0 3.2 0a1.6 1.6 0 1 0 -3.2 0M511.5 176.7a1.6 1.6 0 1 0 3.2 0a1.6 1.6 0 1 0 -3.2 0M513.0 120.1a1.6 1.6 0 1 0 3.2 0a1.6 1.6 0 1 0 -3.2 0M514.4 146.8a1.6 1.6 0 1 0 3.2 0a1.6 1.6 0 1 0 -3.2 0M515.8 114.8a1.6 1.6 0 1 0 3.2 0a1.6 1.6 0 1 0 -3.2 0M518.6 109.9a1.6 1.6 0 1 0 3.2 0a1.6 1.6 0 1 0 -3.2 0M520.1 80.1a1.6 1.6 0 1 0 3.2 0a1.6 1.6 0 1 0 -3.2 0M521.5 105.7a1.6 1.6 0 1 0 3.2 0a1.6 1.6 0 1 0 -3.2 0M522.9 114.9a1.6 1.6 0 1 0 3.2 0a1.6 1.6 0 1 0 -3.2 0M524.3 123.8a1.6 1.6 0 1 0 3.2 0a1.6 1.6 0 1 0 -3.2 0M525.7 116.3a1.6 1.6 0 1 0 3.2 0a1.6 1.6 0 1 0 -3.2 0M527.2 126.8a1.6 1.6 0 1 0 3.2 0a1.6 1.6 0 1 0 -3.2 0M528.6 102.0a1.6 1.6 0 1 0 3.2 0a1.6 1.6 0 1 0 -3.2 0M530.0 104.8a1.6 1.6 0 1 0 3.2 0a1.6 1.6 0 1 0 -3.2 0M531.4 80.8a1.6 1.6 0 1 0 3.2 0a1.6 1.6 0 1 0 -3.2 0M532.8 99.9a1.6 1.6 0 1 0 3.2 0a1.6 1.6 0 1 0 -3.2 0M534.3 146.9a1.6 1.6 0 1 0 3.2 0a1.6 1.6 0 1 0 -3.2 0M535.7 120.0a1.6 1.6 0 1 0 3.2 0a1.6 1.6 0 1 0 -3.2 0M537.1 137.3a1.6 1.6 0 1 0 3.2 0a1.6 1.6 0 1 0 -3.2 0M538.5 119.3a1.6 1.6 0 1 0 3.2 0a1.6 1.6 0 1 0 -3.2 0M539.9 109.8a1.6 1.6 0 1 0 3.2 0a1.6 1.6 0 1 0 -3.2 0M542.8 127.8a1.6 1.6 0 1 0 3.2 0a1.6 1.6 0 1 0 -3.2 0M544.2 149.9a1.6 1.6 0 1 0 3.2 0a1.6 1.6 0 1 0 -3.2 0M545.6 127.9a1.6 1.6 0 1 0 3.2 0a1.6 1.6 0 1 0 -3.2 0M547.0 108.7a1.6 1.6 0 1 0 3.2 0a1.6 1.6 0 1 0 -3.2 0M548.5 66.0a1.6 1.6 0 1 0 3.2 0a1.6 1.6 0 1 0 -3.2 0M549.9 113.2a1.6 1.6 0 1 0 3.2 0a1.6 1.6 0 1 0 -3.2 0M551.3 75.7a1.6 1.6 0 1 0 3.2 0a1.6 1.6 0 1 0 -3.2 0M552.7 58.5a1.6 1.6 0 1 0 3.2 0a1.6 1.6 0 1 0 -3.2 0M555.6 113.3a1.6 1.6 0 1 0 3.2 0a1.6 1.6 0 1 0 -3.2 0M557.0 108.2a1.6 1.6 0 1 0 3.2 0a1.6 1.6 0 1 0 -3.2 0M558.4 92.2a1.6 1.6 0 1 0 3.2 0a1.6 1.6 0 1 0 -3.2 0M559.8 87.1a1.6 1.6 0 1 0 3.2 0a1.6 1.6 0 1 0 -3.2 0M561.2 98.0a1.6 1.6 0 1 0 3.2 0a1.6 1.6 0 1 0 -3.2 0M562.7 93.6a1.6 1.6 0 1 0 3.2 0a1.6 1.6 0 1 0 -3.2 0M564.1 93.1a1.6 1.6 0 1 0 3.2 0a1.6 1.6 0 1 0 -3.2 0M565.5 108.5a1.6 1.6 0 1 0 3.2 0a1.6 1.6 0 1 0 -3.2 0M568.3 114.2a1.6 1.6 0 1 0 3.2 0a1.6 1.6 0 1 0 -3.2 0M569.8 83.4a1.6 1.6 0 1 0 3.2 0a1.6 1.6 0 1 0 -3.2 0M571.2 115.7a1.6 1.6 0 1 0 3.2 0a1.6 1.6 0 1 0 -3.2 0M572.6 123.4a1.6 1.6 0 1 0 3.2 0a1.6 1.6 0 1 0 -3.2 0M574.0 82.0a1.6 1.6 0 1 0 3.2 0a1.6 1.6 0 1 0 -3.2 0M575.4 117.4a1.6 1.6 0 1 0 3.2 0a1.6 1.6 0 1 0 -3.2 0M576.9 118.1a1.6 1.6 0 1 0 3.2 0a1.6 1.6 0 1 0 -3.2 0M578.3 87.5a1.6 1.6 0 1 0 3.2 0a1.6 1.6 0 1 0 -3.2 0M579.7 92.1a1.6 1.6 0 1 0 3.2 0a1.6 1.6 0 1 0 -3.2 0M581.1 137.6a1.6 1.6 0 1 0 3.2 0a1.6 1.6 0 1 0 -3.2 0M582.6 56.8a1.6 1.6 0 1 0 3.2 0a1.6 1.6 0 1 0 -3.2 0M584.0 93.4a1.6 1.6 0 1 0 3.2 0a1.6 1.6 0 1 0 -3.2 0M585.4 105.9a1.6 1.6 0 1 0 3.2 0a1.6 1.6 0 1 0 -3.2 0M586.8 91.9a1.6 1.6 0 1 0 3.2 0a1.6 1.6 0 1 0 -3.2 0M589.7 91.5a1.6 1.6 0 1 0 3.2 0a1.6 1.6 0 1 0 -3.2 0M591.1 133.2a1.6 1.6 0 1 0 3.2 0a1.6 1.6 0 1 0 -3.2 0M592.5 130.9a1.6 1.6 0 1 0 3.2 0a1.6 1.6 0 1 0 -3.2 0M593.9 102.3a1.6 1.6 0 1 0 3.2 0a1.6 1.6 0 1 0 -3.2 0M595.3 89.5a1.6 1.6 0 1 0 3.2 0a1.6 1.6 0 1 0 -3.2 0M598.2 110.2a1.6 1.6 0 1 0 3.2 0a1.6 1.6 0 1 0 -3.2 0M599.6 97.3a1.6 1.6 0 1 0 3.2 0a1.6 1.6 0 1 0 -3.2 0M601.0 102.2a1.6 1.6 0 1 0 3.2 0a1.6 1.6 0 1 0 -3.2 0M602.4 118.6a1.6 1.6 0 1 0 3.2 0a1.6 1.6 0 1 0 -3.2 0M603.9 121.3a1.6 1.6 0 1 0 3.2 0a1.6 1.6 0 1 0 -3.2 0M606.7 114.6a1.6 1.6 0 1 0 3.2 0a1.6 1.6 0 1 0 -3.2 0M608.1 93.1a1.6 1.6 0 1 0 3.2 0a1.6 1.6 0 1 0 -3.2 0M609.5 110.6a1.6 1.6 0 1 0 3.2 0a1.6 1.6 0 1 0 -3.2 0M611.0 85.3a1.6 1.6 0 1 0 3.2 0a1.6 1.6 0 1 0 -3.2 0M612.4 99.1a1.6 1.6 0 1 0 3.2 0a1.6 1.6 0 1 0 -3.2 0M613.8 128.4a1.6 1.6 0 1 0 3.2 0a1.6 1.6 0 1 0 -3.2 0M618.1 110.3a1.6 1.6 0 1 0 3.2 0a1.6 1.6 0 1 0 -3.2 0M619.5 69.6a1.6 1.6 0 1 0 3.2 0a1.6 1.6 0 1 0 -3.2 0" stroke="#0000e6" stroke-opacity="0.62" stroke-width="1.2"/><path d="M103.9 140.9a1.6 1.6 0 1 0 3.2 0a1.6 1.6 0 1 0 -3.2 0M105.3 57.5a1.6 1.6 0 1 0 3.2 0a1.6 1.6 0 1 0 -3.2 0M106.7 126.1a1.6 1.6 0 1 0 3.2 0a1.6 1.6 0 1 0 -3.2 0M108.2 111.0a1.6 1.6 0 1 0 3.2 0a1.6 1.6 0 1 0 -3.2 0M109.6 132.2a1.6 1.6 0 1 0 3.2 0a1.6 1.6 0 1 0 -3.2 0M111.0 116.4a1.6 1.6 0 1 0 3.2 0a1.6 1.6 0 1 0 -3.2 0M112.4 140.9a1.6 1.6 0 1 0 3.2 0a1.6 1.6 0 1 0 -3.2 0M113.8 110.6a1.6 1.6 0 1 0 3.2 0a1.6 1.6 0 1 0 -3.2 0M115.3 101.6a1.6 1.6 0 1 0 3.2 0a1.6 1.6 0 1 0 -3.2 0M116.7 120.6a1.6 1.6 0 1 0 3.2 0a1.6 1.6 0 1 0 -3.2 0M118.1 118.4a1.6 1.6 0 1 0 3.2 0a1.6 1.6 0 1 0 -3.2 0M119.5 131.1a1.6 1.6 0 1 0 3.2 0a1.6 1.6 0 1 0 -3.2 0M120.9 107.5a1.6 1.6 0 1 0 3.2 0a1.6 1.6 0 1 0 -3.2 0M122.4 123.3a1.6 1.6 0 1 0 3.2 0a1.6 1.6 0 1 0 -3.2 0M123.8 119.9a1.6 1.6 0 1 0 3.2 0a1.6 1.6 0 1 0 -3.2 0M125.2 96.4a1.6 1.6 0 1 0 3.2 0a1.6 1.6 0 1 0 -3.2 0M126.6 71.9a1.6 1.6 0 1 0 3.2 0a1.6 1.6 0 1 0 -3.2 0M128.0 67.7a1.6 1.6 0 1 0 3.2 0a1.6 1.6 0 1 0 -3.2 0M129.5 123.8a1.6 1.6 0 1 0 3.2 0a1.6 1.6 0 1 0 -3.2 0M130.9 88.3a1.6 1.6 0 1 0 3.2 0a1.6 1.6 0 1 0 -3.2 0M132.3 112.9a1.6 1.6 0 1 0 3.2 0a1.6 1.6 0 1 0 -3.2 0M133.7 95.9a1.6 1.6 0 1 0 3.2 0a1.6 1.6 0 1 0 -3.2 0M135.1 120.4a1.6 1.6 0 1 0 3.2 0a1.6 1.6 0 1 0 -3.2 0M136.6 112.1a1.6 1.6 0 1 0 3.2 0a1.6 1.6 0 1 0 -3.2 0M138.0 89.9a1.6 1.6 0 1 0 3.2 0a1.6 1.6 0 1 0 -3.2 0M139.4 108.3a1.6 1.6 0 1 0 3.2 0a1.6 1.6 0 1 0 -3.2 0M140.8 65.6a1.6 1.6 0 1 0 3.2 0a1.6 1.6 0 1 0 -3.2 0M143.7 55.0a1.6 1.6 0 1 0 3.2 0a1.6 1.6 0 1 0 -3.2 0M145.1 85.3a1.6 1.6 0 1 0 3.2 0a1.6 1.6 0 1 0 -3.2 0M146.5 96.8a1.6 1.6 0 1 0 3.2 0a1.6 1.6 0 1 0 -3.2 0M147.9 81.7a1.6 1.6 0 1 0 3.2 0a1.6 1.6 0 1 0 -3.2 0M149.4 70.9a1.6 1.6 0 1 0 3.2 0a1.6 1.6 0 1 0 -3.2 0M150.8 62.5a1.6 1.6 0 1 0 3.2 0a1.6 1.6 0 1 0 -3.2 0M152.2 72.5a1.6 1.6 0 1 0 3.2 0a1.6 1.6 0 1 0 -3.2 0M153.6 92.1a1.6 1.6 0 1 0 3.2 0a1.6 1.6 0 1 0 -3.2 0M155.0 88.4a1.6 1.6 0 1 0 3.2 0a1.6 1.6 0 1 0 -3.2 0M156.5 67.8a1.6 1.6 0 1 0 3.2 0a1.6 1.6 0 1 0 -3.2 0M157.9 50.0a1.6 1.6 0 1 0 3.2 0a1.6 1.6 0 1 0 -3.2 0M162.1 71.8a1.6 1.6 0 1 0 3.2 0a1.6 1.6 0 1 0 -3.2 0M165.0 79.8a1.6 1.6 0 1 0 3.2 0a1.6 1.6 0 1 0 -3.2 0M166.4 70.5a1.6 1.6 0 1 0 3.2 0a1.6 1.6 0 1 0 -3.2 0M167.8 110.5a1.6 1.6 0 1 0 3.2 0a1.6 1.6 0 1 0 -3.2 0M169.2 69.7a1.6 1.6 0 1 0 3.2 0a1.6 1.6 0 1 0 -3.2 0M170.7 52.9a1.6 1.6 0 1 0 3.2 0a1.6 1.6 0 1 0 -3.2 0M172.1 74.0a1.6 1.6 0 1 0 3.2 0a1.6 1.6 0 1 0 -3.2 0M173.5 89.4a1.6 1.6 0 1 0 3.2 0a1.6 1.6 0 1 0 -3.2 0M174.9 54.3a1.6 1.6 0 1 0 3.2 0a1.6 1.6 0 1 0 -3.2 0M176.3 77.1a1.6 1.6 0 1 0 3.2 0a1.6 1.6 0 1 0 -3.2 0M177.8 64.7a1.6 1.6 0 1 0 3.2 0a1.6 1.6 0 1 0 -3.2 0M179.2 84.8a1.6 1.6 0 1 0 3.2 0a1.6 1.6 0 1 0 -3.2 0M180.6 79.1a1.6 1.6 0 1 0 3.2 0a1.6 1.6 0 1 0 -3.2 0M182.0 126.0a1.6 1.6 0 1 0 3.2 0a1.6 1.6 0 1 0 -3.2 0M183.4 63.9a1.6 1.6 0 1 0 3.2 0a1.6 1.6 0 1 0 -3.2 0M184.9 96.4a1.6 1.6 0 1 0 3.2 0a1.6 1.6 0 1 0 -3.2 0M186.3 62.4a1.6 1.6 0 1 0 3.2 0a1.6 1.6 0 1 0 -3.2 0M190.5 78.9a1.6 1.6 0 1 0 3.2 0a1.6 1.6 0 1 0 -3.2 0M192.0 57.9a1.6 1.6 0 1 0 3.2 0a1.6 1.6 0 1 0 -3.2 0M193.4 80.6a1.6 1.6 0 1 0 3.2 0a1.6 1.6 0 1 0 -3.2 0M194.8 80.9a1.6 1.6 0 1 0 3.2 0a1.6 1.6 0 1 0 -3.2 0M196.2 88.5a1.6 1.6 0 1 0 3.2 0a1.6 1.6 0 1 0 -3.2 0M199.1 88.7a1.6 1.6 0 1 0 3.2 0a1.6 1.6 0 1 0 -3.2 0M200.5 53.6a1.6 1.6 0 1 0 3.2 0a1.6 1.6 0 1 0 -3.2 0M203.3 50.0a1.6 1.6 0 1 0 3.2 0a1.6 1.6 0 1 0 -3.2 0M204.7 64.5a1.6 1.6 0 1 0 3.2 0a1.6 1.6 0 1 0 -3.2 0M206.2 103.4a1.6 1.6 0 1 0 3.2 0a1.6 1.6 0 1 0 -3.2 0M209.0 62.2a1.6 1.6 0 1 0 3.2 0a1.6 1.6 0 1 0 -3.2 0M211.8 78.0a1.6 1.6 0 1 0 3.2 0a1.6 1.6 0 1 0 -3.2 0M213.3 80.7a1.6 1.6 0 1 0 3.2 0a1.6 1.6 0 1 0 -3.2 0M214.7 68.7a1.6 1.6 0 1 0 3.2 0a1.6 1.6 0 1 0 -3.2 0M216.1 82.1a1.6 1.6 0 1 0 3.2 0a1.6 1.6 0 1 0 -3.2 0M218.9 53.2a1.6 1.6 0 1 0 3.2 0a1.6 1.6 0 1 0 -3.2 0M220.4 60.1a1.6 1.6 0 1 0 3.2 0a1.6 1.6 0 1 0 -3.2 0M221.8 107.6a1.6 1.6 0 1 0 3.2 0a1.6 1.6 0 1 0 -3.2 0M223.2 105.3a1.6 1.6 0 1 0 3.2 0a1.6 1.6 0 1 0 -3.2 0M224.6 84.1a1.6 1.6 0 1 0 3.2 0a1.6 1.6 0 1 0 -3.2 0M226.0 77.1a1.6 1.6 0 1 0 3.2 0a1.6 1.6 0 1 0 -3.2 0M228.9 77.6a1.6 1.6 0 1 0 3.2 0a1.6 1.6 0 1 0 -3.2 0M230.3 93.6a1.6 1.6 0 1 0 3.2 0a1.6 1.6 0 1 0 -3.2 0M231.7 128.8a1.6 1.6 0 1 0 3.2 0a1.6 1.6 0 1 0 -3.2 0M233.1 104.5a1.6 1.6 0 1 0 3.2 0a1.6 1.6 0 1 0 -3.2 0M234.6 123.5a1.6 1.6 0 1 0 3.2 0a1.6 1.6 0 1 0 -3.2 0M237.4 113.1a1.6 1.6 0 1 0 3.2 0a1.6 1.6 0 1 0 -3.2 0M238.8 132.5a1.6 1.6 0 1 0 3.2 0a1.6 1.6 0 1 0 -3.2 0M240.3 88.2a1.6 1.6 0 1 0 3.2 0a1.6 1.6 0 1 0 -3.2 0M241.7 107.1a1.6 1.6 0 1 0 3.2 0a1.6 1.6 0 1 0 -3.2 0M244.5 119.8a1.6 1.6 0 1 0 3.2 0a1.6 1.6 0 1 0 -3.2 0M245.9 142.1a1.6 1.6 0 1 0 3.2 0a1.6 1.6 0 1 0 -3.2 0M247.4 128.0a1.6 1.6 0 1 0 3.2 0a1.6 1.6 0 1 0 -3.2 0M248.8 91.6a1.6 1.6 0 1 0 3.2 0a1.6 1.6 0 1 0 -3.2 0M250.2 112.3a1.6 1.6 0 1 0 3.2 0a1.6 1.6 0 1 0 -3.2 0M251.6 99.7a1.6 1.6 0 1 0 3.2 0a1.6 1.6 0 1 0 -3.2 0M254.5 145.3a1.6 1.6 0 1 0 3.2 0a1.6 1.6 0 1 0 -3.2 0M255.9 90.7a1.6 1.6 0 1 0 3.2 0a1.6 1.6 0 1 0 -3.2 0M257.3 110.8a1.6 1.6 0 1 0 3.2 0a1.6 1.6 0 1 0 -3.2 0M258.7 92.6a1.6 1.6 0 1 0 3.2 0a1.6 1.6 0 1 0 -3.2 0M260.1 117.3a1.6 1.6 0 1 0 3.2 0a1.6 1.6 0 1 0 -3.2 0M261.6 106.7a1.6 1.6 0 1 0 3.2 0a1.6 1.6 0 1 0 -3.2 0M263.0 104.1a1.6 1.6 0 1 0 3.2 0a1.6 1.6 0 1 0 -3.2 0M264.4 103.9a1.6 1.6 0 1 0 3.2 0a1.6 1.6 0 1 0 -3.2 0M265.8 127.7a1.6 1.6 0 1 0 3.2 0a1.6 1.6 0 1 0 -3.2 0M267.2 95.8a1.6 1.6 0 1 0 3.2 0a1.6 1.6 0 1 0 -3.2 0M268.7 102.6a1.6 1.6 0 1 0 3.2 0a1.6 1.6 0 1 0 -3.2 0M270.1 99.2a1.6 1.6 0 1 0 3.2 0a1.6 1.6 0 1 0 -3.2 0M271.5 119.9a1.6 1.6 0 1 0 3.2 0a1.6 1.6 0 1 0 -3.2 0M272.9 118.2a1.6 1.6 0 1 0 3.2 0a1.6 1.6 0 1 0 -3.2 0M274.3 103.7a1.6 1.6 0 1 0 3.2 0a1.6 1.6 0 1 0 -3.2 0M275.8 112.3a1.6 1.6 0 1 0 3.2 0a1.6 1.6 0 1 0 -3.2 0M277.2 160.1a1.6 1.6 0 1 0 3.2 0a1.6 1.6 0 1 0 -3.2 0M278.6 113.9a1.6 1.6 0 1 0 3.2 0a1.6 1.6 0 1 0 -3.2 0M280.0 128.4a1.6 1.6 0 1 0 3.2 0a1.6 1.6 0 1 0 -3.2 0M281.4 120.0a1.6 1.6 0 1 0 3.2 0a1.6 1.6 0 1 0 -3.2 0M284.3 100.0a1.6 1.6 0 1 0 3.2 0a1.6 1.6 0 1 0 -3.2 0M285.7 107.5a1.6 1.6 0 1 0 3.2 0a1.6 1.6 0 1 0 -3.2 0M287.1 108.6a1.6 1.6 0 1 0 3.2 0a1.6 1.6 0 1 0 -3.2 0M288.5 78.5a1.6 1.6 0 1 0 3.2 0a1.6 1.6 0 1 0 -3.2 0M290.0 144.3a1.6 1.6 0 1 0 3.2 0a1.6 1.6 0 1 0 -3.2 0M291.4 134.6a1.6 1.6 0 1 0 3.2 0a1.6 1.6 0 1 0 -3.2 0M292.8 120.4a1.6 1.6 0 1 0 3.2 0a1.6 1.6 0 1 0 -3.2 0M294.2 112.5a1.6 1.6 0 1 0 3.2 0a1.6 1.6 0 1 0 -3.2 0M295.6 100.1a1.6 1.6 0 1 0 3.2 0a1.6 1.6 0 1 0 -3.2 0M297.1 127.3a1.6 1.6 0 1 0 3.2 0a1.6 1.6 0 1 0 -3.2 0M299.9 114.4a1.6 1.6 0 1 0 3.2 0a1.6 1.6 0 1 0 -3.2 0M302.7 108.8a1.6 1.6 0 1 0 3.2 0a1.6 1.6 0 1 0 -3.2 0M304.2 138.0a1.6 1.6 0 1 0 3.2 0a1.6 1.6 0 1 0 -3.2 0M305.6 100.6a1.6 1.6 0 1 0 3.2 0a1.6 1.6 0 1 0 -3.2 0M307.0 120.7a1.6 1.6 0 1 0 3.2 0a1.6 1.6 0 1 0 -3.2 0M308.4 109.3a1.6 1.6 0 1 0 3.2 0a1.6 1.6 0 1 0 -3.2 0M311.3 130.0a1.6 1.6 0 1 0 3.2 0a1.6 1.6 0 1 0 -3.2 0M312.7 114.4a1.6 1.6 0 1 0 3.2 0a1.6 1.6 0 1 0 -3.2 0M315.5 119.7a1.6 1.6 0 1 0 3.2 0a1.6 1.6 0 1 0 -3.2 0M316.9 116.2a1.6 1.6 0 1 0 3.2 0a1.6 1.6 0 1 0 -3.2 0M318.4 97.7a1.6 1.6 0 1 0 3.2 0a1.6 1.6 0 1 0 -3.2 0M319.8 124.7a1.6 1.6 0 1 0 3.2 0a1.6 1.6 0 1 0 -3.2 0M321.2 178.4a1.6 1.6 0 1 0 3.2 0a1.6 1.6 0 1 0 -3.2 0M322.6 103.3a1.6 1.6 0 1 0 3.2 0a1.6 1.6 0 1 0 -3.2 0M324.1 117.2a1.6 1.6 0 1 0 3.2 0a1.6 1.6 0 1 0 -3.2 0M325.5 168.9a1.6 1.6 0 1 0 3.2 0a1.6 1.6 0 1 0 -3.2 0M326.9 132.0a1.6 1.6 0 1 0 3.2 0a1.6 1.6 0 1 0 -3.2 0M328.3 118.6a1.6 1.6 0 1 0 3.2 0a1.6 1.6 0 1 0 -3.2 0M329.7 158.4a1.6 1.6 0 1 0 3.2 0a1.6 1.6 0 1 0 -3.2 0M331.2 105.2a1.6 1.6 0 1 0 3.2 0a1.6 1.6 0 1 0 -3.2 0M332.6 71.2a1.6 1.6 0 1 0 3.2 0a1.6 1.6 0 1 0 -3.2 0M334.0 79.7a1.6 1.6 0 1 0 3.2 0a1.6 1.6 0 1 0 -3.2 0M335.4 85.1a1.6 1.6 0 1 0 3.2 0a1.6 1.6 0 1 0 -3.2 0M336.8 114.2a1.6 1.6 0 1 0 3.2 0a1.6 1.6 0 1 0 -3.2 0M338.3 78.6a1.6 1.6 0 1 0 3.2 0a1.6 1.6 0 1 0 -3.2 0M339.7 69.6a1.6 1.6 0 1 0 3.2 0a1.6 1.6 0 1 0 -3.2 0M341.1 123.7a1.6 1.6 0 1 0 3.2 0a1.6 1.6 0 1 0 -3.2 0M342.5 82.1a1.6 1.6 0 1 0 3.2 0a1.6 1.6 0 1 0 -3.2 0M343.9 140.6a1.6 1.6 0 1 0 3.2 0a1.6 1.6 0 1 0 -3.2 0M345.4 107.3a1.6 1.6 0 1 0 3.2 0a1.6 1.6 0 1 0 -3.2 0M346.8 106.6a1.6 1.6 0 1 0 3.2 0a1.6 1.6 0 1 0 -3.2 0M348.2 100.0a1.6 1.6 0 1 0 3.2 0a1.6 1.6 0 1 0 -3.2 0M349.6 142.6a1.6 1.6 0 1 0 3.2 0a1.6 1.6 0 1 0 -3.2 0M351.0 62.4a1.6 1.6 0 1 0 3.2 0a1.6 1.6 0 1 0 -3.2 0M352.5 106.3a1.6 1.6 0 1 0 3.2 0a1.6 1.6 0 1 0 -3.2 0M353.9 118.8a1.6 1.6 0 1 0 3.2 0a1.6 1.6 0 1 0 -3.2 0M355.3 118.4a1.6 1.6 0 1 0 3.2 0a1.6 1.6 0 1 0 -3.2 0M356.7 147.3a1.6 1.6 0 1 0 3.2 0a1.6 1.6 0 1 0 -3.2 0M358.1 121.0a1.6 1.6 0 1 0 3.2 0a1.6 1.6 0 1 0 -3.2 0M359.6 114.7a1.6 1.6 0 1 0 3.2 0a1.6 1.6 0 1 0 -3.2 0M361.0 130.3a1.6 1.6 0 1 0 3.2 0a1.6 1.6 0 1 0 -3.2 0M362.4 105.9a1.6 1.6 0 1 0 3.2 0a1.6 1.6 0 1 0 -3.2 0M363.8 79.6a1.6 1.6 0 1 0 3.2 0a1.6 1.6 0 1 0 -3.2 0M365.2 63.1a1.6 1.6 0 1 0 3.2 0a1.6 1.6 0 1 0 -3.2 0M366.7 122.8a1.6 1.6 0 1 0 3.2 0a1.6 1.6 0 1 0 -3.2 0M368.1 111.0a1.6 1.6 0 1 0 3.2 0a1.6 1.6 0 1 0 -3.2 0M369.5 116.1a1.6 1.6 0 1 0 3.2 0a1.6 1.6 0 1 0 -3.2 0M370.9 96.3a1.6 1.6 0 1 0 3.2 0a1.6 1.6 0 1 0 -3.2 0M372.3 108.1a1.6 1.6 0 1 0 3.2 0a1.6 1.6 0 1 0 -3.2 0M373.8 134.6a1.6 1.6 0 1 0 3.2 0a1.6 1.6 0 1 0 -3.2 0M375.2 108.2a1.6 1.6 0 1 0 3.2 0a1.6 1.6 0 1 0 -3.2 0M376.6 83.2a1.6 1.6 0 1 0 3.2 0a1.6 1.6 0 1 0 -3.2 0M378.0 94.4a1.6 1.6 0 1 0 3.2 0a1.6 1.6 0 1 0 -3.2 0M379.4 125.0a1.6 1.6 0 1 0 3.2 0a1.6 1.6 0 1 0 -3.2 0M382.3 56.8a1.6 1.6 0 1 0 3.2 0a1.6 1.6 0 1 0 -3.2 0M383.7 62.9a1.6 1.6 0 1 0 3.2 0a1.6 1.6 0 1 0 -3.2 0M385.1 81.1a1.6 1.6 0 1 0 3.2 0a1.6 1.6 0 1 0 -3.2 0M388.0 109.1a1.6 1.6 0 1 0 3.2 0a1.6 1.6 0 1 0 -3.2 0M389.4 96.6a1.6 1.6 0 1 0 3.2 0a1.6 1.6 0 1 0 -3.2 0M390.8 89.6a1.6 1.6 0 1 0 3.2 0a1.6 1.6 0 1 0 -3.2 0M392.2 141.1a1.6 1.6 0 1 0 3.2 0a1.6 1.6 0 1 0 -3.2 0M393.6 109.4a1.6 1.6 0 1 0 3.2 0a1.6 1.6 0 1 0 -3.2 0M395.1 101.7a1.6 1.6 0 1 0 3.2 0a1.6 1.6 0 1 0 -3.2 0M397.9 96.8a1.6 1.6 0 1 0 3.2 0a1.6 1.6 0 1 0 -3.2 0M399.3 139.6a1.6 1.6 0 1 0 3.2 0a1.6 1.6 0 1 0 -3.2 0M400.7 67.9a1.6 1.6 0 1 0 3.2 0a1.6 1.6 0 1 0 -3.2 0M402.2 111.7a1.6 1.6 0 1 0 3.2 0a1.6 1.6 0 1 0 -3.2 0M403.6 94.9a1.6 1.6 0 1 0 3.2 0a1.6 1.6 0 1 0 -3.2 0M405.0 114.3a1.6 1.6 0 1 0 3.2 0a1.6 1.6 0 1 0 -3.2 0M406.4 113.3a1.6 1.6 0 1 0 3.2 0a1.6 1.6 0 1 0 -3.2 0M407.9 126.0a1.6 1.6 0 1 0 3.2 0a1.6 1.6 0 1 0 -3.2 0M409.3 131.4a1.6 1.6 0 1 0 3.2 0a1.6 1.6 0 1 0 -3.2 0M410.7 128.4a1.6 1.6 0 1 0 3.2 0a1.6 1.6 0 1 0 -3.2 0M412.1 143.7a1.6 1.6 0 1 0 3.2 0a1.6 1.6 0 1 0 -3.2 0M413.5 104.1a1.6 1.6 0 1 0 3.2 0a1.6 1.6 0 1 0 -3.2 0M417.8 137.1a1.6 1.6 0 1 0 3.2 0a1.6 1.6 0 1 0 -3.2 0M419.2 178.6a1.6 1.6 0 1 0 3.2 0a1.6 1.6 0 1 0 -3.2 0M420.6 151.6a1.6 1.6 0 1 0 3.2 0a1.6 1.6 0 1 0 -3.2 0M422.1 168.2a1.6 1.6 0 1 0 3.2 0a1.6 1.6 0 1 0 -3.2 0M423.5 98.3a1.6 1.6 0 1 0 3.2 0a1.6 1.6 0 1 0 -3.2 0M424.9 122.4a1.6 1.6 0 1 0 3.2 0a1.6 1.6 0 1 0 -3.2 0M426.3 157.2a1.6 1.6 0 1 0 3.2 0a1.6 1.6 0 1 0 -3.2 0M427.7 123.7a1.6 1.6 0 1 0 3.2 0a1.6 1.6 0 1 0 -3.2 0M429.2 141.9a1.6 1.6 0 1 0 3.2 0a1.6 1.6 0 1 0 -3.2 0M430.6 176.2a1.6 1.6 0 1 0 3.2 0a1.6 1.6 0 1 0 -3.2 0M432.0 161.9a1.6 1.6 0 1 0 3.2 0a1.6 1.6 0 1 0 -3.2 0M433.4 128.9a1.6 1.6 0 1 0 3.2 0a1.6 1.6 0 1 0 -3.2 0M434.8 151.1a1.6 1.6 0 1 0 3.2 0a1.6 1.6 0 1 0 -3.2 0M436.3 152.5a1.6 1.6 0 1 0 3.2 0a1.6 1.6 0 1 0 -3.2 0M437.7 140.8a1.6 1.6 0 1 0 3.2 0a1.6 1.6 0 1 0 -3.2 0M439.1 136.1a1.6 1.6 0 1 0 3.2 0a1.6 1.6 0 1 0 -3.2 0M440.5 138.4a1.6 1.6 0 1 0 3.2 0a1.6 1.6 0 1 0 -3.2 0M443.4 162.7a1.6 1.6 0 1 0 3.2 0a1.6 1.6 0 1 0 -3.2 0M444.8 122.6a1.6 1.6 0 1 0 3.2 0a1.6 1.6 0 1 0 -3.2 0M446.2 147.7a1.6 1.6 0 1 0 3.2 0a1.6 1.6 0 1 0 -3.2 0M447.6 150.2a1.6 1.6 0 1 0 3.2 0a1.6 1.6 0 1 0 -3.2 0M449.0 129.6a1.6 1.6 0 1 0 3.2 0a1.6 1.6 0 1 0 -3.2 0M450.5 157.1a1.6 1.6 0 1 0 3.2 0a1.6 1.6 0 1 0 -3.2 0M451.9 152.1a1.6 1.6 0 1 0 3.2 0a1.6 1.6 0 1 0 -3.2 0M453.3 143.9a1.6 1.6 0 1 0 3.2 0a1.6 1.6 0 1 0 -3.2 0M454.7 155.5a1.6 1.6 0 1 0 3.2 0a1.6 1.6 0 1 0 -3.2 0M456.1 136.4a1.6 1.6 0 1 0 3.2 0a1.6 1.6 0 1 0 -3.2 0M457.6 135.5a1.6 1.6 0 1 0 3.2 0a1.6 1.6 0 1 0 -3.2 0M459.0 140.2a1.6 1.6 0 1 0 3.2 0a1.6 1.6 0 1 0 -3.2 0M460.4 136.5a1.6 1.6 0 1 0 3.2 0a1.6 1.6 0 1 0 -3.2 0M461.8 155.9a1.6 1.6 0 1 0 3.2 0a1.6 1.6 0 1 0 -3.2 0M463.2 159.4a1.6 1.6 0 1 0 3.2 0a1.6 1.6 0 1 0 -3.2 0M464.7 129.7a1.6 1.6 0 1 0 3.2 0a1.6 1.6 0 1 0 -3.2 0M466.1 100.0a1.6 1.6 0 1 0 3.2 0a1.6 1.6 0 1 0 -3.2 0M468.9 136.8a1.6 1.6 0 1 0 3.2 0a1.6 1.6 0 1 0 -3.2 0M470.3 131.8a1.6 1.6 0 1 0 3.2 0a1.6 1.6 0 1 0 -3.2 0M471.8 147.1a1.6 1.6 0 1 0 3.2 0a1.6 1.6 0 1 0 -3.2 0M473.2 134.0a1.6 1.6 0 1 0 3.2 0a1.6 1.6 0 1 0 -3.2 0M474.6 80.0a1.6 1.6 0 1 0 3.2 0a1.6 1.6 0 1 0 -3.2 0M476.0 105.5a1.6 1.6 0 1 0 3.2 0a1.6 1.6 0 1 0 -3.2 0M478.9 147.0a1.6 1.6 0 1 0 3.2 0a1.6 1.6 0 1 0 -3.2 0M481.7 90.1a1.6 1.6 0 1 0 3.2 0a1.6 1.6 0 1 0 -3.2 0M483.1 151.7a1.6 1.6 0 1 0 3.2 0a1.6 1.6 0 1 0 -3.2 0M484.5 77.5a1.6 1.6 0 1 0 3.2 0a1.6 1.6 0 1 0 -3.2 0M486.0 116.8a1.6 1.6 0 1 0 3.2 0a1.6 1.6 0 1 0 -3.2 0M487.4 109.0a1.6 1.6 0 1 0 3.2 0a1.6 1.6 0 1 0 -3.2 0M488.8 112.4a1.6 1.6 0 1 0 3.2 0a1.6 1.6 0 1 0 -3.2 0M490.2 76.7a1.6 1.6 0 1 0 3.2 0a1.6 1.6 0 1 0 -3.2 0M491.6 119.3a1.6 1.6 0 1 0 3.2 0a1.6 1.6 0 1 0 -3.2 0M493.1 124.0a1.6 1.6 0 1 0 3.2 0a1.6 1.6 0 1 0 -3.2 0M494.5 97.5a1.6 1.6 0 1 0 3.2 0a1.6 1.6 0 1 0 -3.2 0M495.9 82.4a1.6 1.6 0 1 0 3.2 0a1.6 1.6 0 1 0 -3.2 0M497.3 105.8a1.6 1.6 0 1 0 3.2 0a1.6 1.6 0 1 0 -3.2 0M498.8 107.7a1.6 1.6 0 1 0 3.2 0a1.6 1.6 0 1 0 -3.2 0M501.6 92.1a1.6 1.6 0 1 0 3.2 0a1.6 1.6 0 1 0 -3.2 0M503.0 113.2a1.6 1.6 0 1 0 3.2 0a1.6 1.6 0 1 0 -3.2 0M504.4 100.2a1.6 1.6 0 1 0 3.2 0a1.6 1.6 0 1 0 -3.2 0M505.9 80.8a1.6 1.6 0 1 0 3.2 0a1.6 1.6 0 1 0 -3.2 0M507.3 102.9a1.6 1.6 0 1 0 3.2 0a1.6 1.6 0 1 0 -3.2 0M508.7 97.1a1.6 1.6 0 1 0 3.2 0a1.6 1.6 0 1 0 -3.2 0M510.1 98.5a1.6 1.6 0 1 0 3.2 0a1.6 1.6 0 1 0 -3.2 0M511.5 112.8a1.6 1.6 0 1 0 3.2 0a1.6 1.6 0 1 0 -3.2 0M513.0 79.5a1.6 1.6 0 1 0 3.2 0a1.6 1.6 0 1 0 -3.2 0M514.4 98.7a1.6 1.6 0 1 0 3.2 0a1.6 1.6 0 1 0 -3.2 0M515.8 105.1a1.6 1.6 0 1 0 3.2 0a1.6 1.6 0 1 0 -3.2 0M517.2 93.5a1.6 1.6 0 1 0 3.2 0a1.6 1.6 0 1 0 -3.2 0M518.6 88.7a1.6 1.6 0 1 0 3.2 0a1.6 1.6 0 1 0 -3.2 0M520.1 96.7a1.6 1.6 0 1 0 3.2 0a1.6 1.6 0 1 0 -3.2 0M521.5 100.4a1.6 1.6 0 1 0 3.2 0a1.6 1.6 0 1 0 -3.2 0M522.9 113.6a1.6 1.6 0 1 0 3.2 0a1.6 1.6 0 1 0 -3.2 0M525.7 73.5a1.6 1.6 0 1 0 3.2 0a1.6 1.6 0 1 0 -3.2 0M528.6 49.5a1.6 1.6 0 1 0 3.2 0a1.6 1.6 0 1 0 -3.2 0M531.4 75.5a1.6 1.6 0 1 0 3.2 0a1.6 1.6 0 1 0 -3.2 0M532.8 84.5a1.6 1.6 0 1 0 3.2 0a1.6 1.6 0 1 0 -3.2 0M534.3 95.0a1.6 1.6 0 1 0 3.2 0a1.6 1.6 0 1 0 -3.2 0M535.7 89.3a1.6 1.6 0 1 0 3.2 0a1.6 1.6 0 1 0 -3.2 0M537.1 65.5a1.6 1.6 0 1 0 3.2 0a1.6 1.6 0 1 0 -3.2 0M538.5 85.9a1.6 1.6 0 1 0 3.2 0a1.6 1.6 0 1 0 -3.2 0M539.9 102.1a1.6 1.6 0 1 0 3.2 0a1.6 1.6 0 1 0 -3.2 0M541.4 91.8a1.6 1.6 0 1 0 3.2 0a1.6 1.6 0 1 0 -3.2 0M542.8 96.1a1.6 1.6 0 1 0 3.2 0a1.6 1.6 0 1 0 -3.2 0M544.2 71.3a1.6 1.6 0 1 0 3.2 0a1.6 1.6 0 1 0 -3.2 0M545.6 97.9a1.6 1.6 0 1 0 3.2 0a1.6 1.6 0 1 0 -3.2 0M547.0 105.3a1.6 1.6 0 1 0 3.2 0a1.6 1.6 0 1 0 -3.2 0M548.5 76.3a1.6 1.6 0 1 0 3.2 0a1.6 1.6 0 1 0 -3.2 0M549.9 91.1a1.6 1.6 0 1 0 3.2 0a1.6 1.6 0 1 0 -3.2 0M551.3 52.6a1.6 1.6 0 1 0 3.2 0a1.6 1.6 0 1 0 -3.2 0M552.7 68.7a1.6 1.6 0 1 0 3.2 0a1.6 1.6 0 1 0 -3.2 0M554.1 99.3a1.6 1.6 0 1 0 3.2 0a1.6 1.6 0 1 0 -3.2 0M555.6 48.2a1.6 1.6 0 1 0 3.2 0a1.6 1.6 0 1 0 -3.2 0M557.0 69.8a1.6 1.6 0 1 0 3.2 0a1.6 1.6 0 1 0 -3.2 0M558.4 63.3a1.6 1.6 0 1 0 3.2 0a1.6 1.6 0 1 0 -3.2 0M559.8 98.3a1.6 1.6 0 1 0 3.2 0a1.6 1.6 0 1 0 -3.2 0M561.2 100.1a1.6 1.6 0 1 0 3.2 0a1.6 1.6 0 1 0 -3.2 0M562.7 71.9a1.6 1.6 0 1 0 3.2 0a1.6 1.6 0 1 0 -3.2 0M564.1 86.5a1.6 1.6 0 1 0 3.2 0a1.6 1.6 0 1 0 -3.2 0M566.9 102.7a1.6 1.6 0 1 0 3.2 0a1.6 1.6 0 1 0 -3.2 0M568.3 96.1a1.6 1.6 0 1 0 3.2 0a1.6 1.6 0 1 0 -3.2 0M569.8 114.1a1.6 1.6 0 1 0 3.2 0a1.6 1.6 0 1 0 -3.2 0M571.2 52.0a1.6 1.6 0 1 0 3.2 0a1.6 1.6 0 1 0 -3.2 0M572.6 102.5a1.6 1.6 0 1 0 3.2 0a1.6 1.6 0 1 0 -3.2 0M574.0 88.6a1.6 1.6 0 1 0 3.2 0a1.6 1.6 0 1 0 -3.2 0M575.4 51.2a1.6 1.6 0 1 0 3.2 0a1.6 1.6 0 1 0 -3.2 0M576.9 84.8a1.6 1.6 0 1 0 3.2 0a1.6 1.6 0 1 0 -3.2 0M579.7 112.3a1.6 1.6 0 1 0 3.2 0a1.6 1.6 0 1 0 -3.2 0M581.1 103.1a1.6 1.6 0 1 0 3.2 0a1.6 1.6 0 1 0 -3.2 0M582.6 92.1a1.6 1.6 0 1 0 3.2 0a1.6 1.6 0 1 0 -3.2 0M584.0 94.7a1.6 1.6 0 1 0 3.2 0a1.6 1.6 0 1 0 -3.2 0M585.4 101.3a1.6 1.6 0 1 0 3.2 0a1.6 1.6 0 1 0 -3.2 0M586.8 93.2a1.6 1.6 0 1 0 3.2 0a1.6 1.6 0 1 0 -3.2 0M588.2 64.7a1.6 1.6 0 1 0 3.2 0a1.6 1.6 0 1 0 -3.2 0M589.7 109.1a1.6 1.6 0 1 0 3.2 0a1.6 1.6 0 1 0 -3.2 0M591.1 110.1a1.6 1.6 0 1 0 3.2 0a1.6 1.6 0 1 0 -3.2 0M592.5 139.6a1.6 1.6 0 1 0 3.2 0a1.6 1.6 0 1 0 -3.2 0M593.9 101.5a1.6 1.6 0 1 0 3.2 0a1.6 1.6 0 1 0 -3.2 0M595.3 137.3a1.6 1.6 0 1 0 3.2 0a1.6 1.6 0 1 0 -3.2 0M596.8 116.8a1.6 1.6 0 1 0 3.2 0a1.6 1.6 0 1 0 -3.2 0M598.2 131.8a1.6 1.6 0 1 0 3.2 0a1.6 1.6 0 1 0 -3.2 0M599.6 97.2a1.6 1.6 0 1 0 3.2 0a1.6 1.6 0 1 0 -3.2 0M601.0 97.1a1.6 1.6 0 1 0 3.2 0a1.6 1.6 0 1 0 -3.2 0M602.4 105.4a1.6 1.6 0 1 0 3.2 0a1.6 1.6 0 1 0 -3.2 0M603.9 124.6a1.6 1.6 0 1 0 3.2 0a1.6 1.6 0 1 0 -3.2 0M605.3 111.1a1.6 1.6 0 1 0 3.2 0a1.6 1.6 0 1 0 -3.2 0M606.7 119.7a1.6 1.6 0 1 0 3.2 0a1.6 1.6 0 1 0 -3.2 0M608.1 111.0a1.6 1.6 0 1 0 3.2 0a1.6 1.6 0 1 0 -3.2 0M609.5 121.8a1.6 1.6 0 1 0 3.2 0a1.6 1.6 0 1 0 -3.2 0M611.0 106.5a1.6 1.6 0 1 0 3.2 0a1.6 1.6 0 1 0 -3.2 0M612.4 96.1a1.6 1.6 0 1 0 3.2 0a1.6 1.6 0 1 0 -3.2 0M613.8 114.9a1.6 1.6 0 1 0 3.2 0a1.6 1.6 0 1 0 -3.2 0M615.2 108.8a1.6 1.6 0 1 0 3.2 0a1.6 1.6 0 1 0 -3.2 0M618.1 106.7a1.6 1.6 0 1 0 3.2 0a1.6 1.6 0 1 0 -3.2 0M619.5 111.7a1.6 1.6 0 1 0 3.2 0a1.6 1.6 0 1 0 -3.2 0" stroke="#228b22" stroke-opacity="0.62" stroke-width="1.2"/><path d="M103.9 76.5a1.6 1.6 0 1 0 3.2 0a1.6 1.6 0 1 0 -3.2 0M105.3 61.6a1.6 1.6 0 1 0 3.2 0a1.6 1.6 0 1 0 -3.2 0M109.6 62.9a1.6 1.6 0 1 0 3.2 0a1.6 1.6 0 1 0 -3.2 0M111.0 83.7a1.6 1.6 0 1 0 3.2 0a1.6 1.6 0 1 0 -3.2 0M112.4 67.9a1.6 1.6 0 1 0 3.2 0a1.6 1.6 0 1 0 -3.2 0M113.8 74.7a1.6 1.6 0 1 0 3.2 0a1.6 1.6 0 1 0 -3.2 0M115.3 82.1a1.6 1.6 0 1 0 3.2 0a1.6 1.6 0 1 0 -3.2 0M116.7 58.0a1.6 1.6 0 1 0 3.2 0a1.6 1.6 0 1 0 -3.2 0M118.1 104.7a1.6 1.6 0 1 0 3.2 0a1.6 1.6 0 1 0 -3.2 0M119.5 59.5a1.6 1.6 0 1 0 3.2 0a1.6 1.6 0 1 0 -3.2 0M120.9 76.4a1.6 1.6 0 1 0 3.2 0a1.6 1.6 0 1 0 -3.2 0M122.4 107.9a1.6 1.6 0 1 0 3.2 0a1.6 1.6 0 1 0 -3.2 0M123.8 71.0a1.6 1.6 0 1 0 3.2 0a1.6 1.6 0 1 0 -3.2 0M125.2 73.7a1.6 1.6 0 1 0 3.2 0a1.6 1.6 0 1 0 -3.2 0M126.6 65.2a1.6 1.6 0 1 0 3.2 0a1.6 1.6 0 1 0 -3.2 0M128.0 76.0a1.6 1.6 0 1 0 3.2 0a1.6 1.6 0 1 0 -3.2 0M129.5 105.5a1.6 1.6 0 1 0 3.2 0a1.6 1.6 0 1 0 -3.2 0M130.9 62.7a1.6 1.6 0 1 0 3.2 0a1.6 1.6 0 1 0 -3.2 0M132.3 92.8a1.6 1.6 0 1 0 3.2 0a1.6 1.6 0 1 0 -3.2 0M133.7 73.3a1.6 1.6 0 1 0 3.2 0a1.6 1.6 0 1 0 -3.2 0M135.1 67.3a1.6 1.6 0 1 0 3.2 0a1.6 1.6 0 1 0 -3.2 0M136.6 75.1a1.6 1.6 0 1 0 3.2 0a1.6 1.6 0 1 0 -3.2 0M138.0 75.5a1.6 1.6 0 1 0 3.2 0a1.6 1.6 0 1 0 -3.2 0M139.4 72.0a1.6 1.6 0 1 0 3.2 0a1.6 1.6 0 1 0 -3.2 0M140.8 77.4a1.6 1.6 0 1 0 3.2 0a1.6 1.6 0 1 0 -3.2 0M143.7 77.3a1.6 1.6 0 1 0 3.2 0a1.6 1.6 0 1 0 -3.2 0M146.5 82.3a1.6 1.6 0 1 0 3.2 0a1.6 1.6 0 1 0 -3.2 0M147.9 73.1a1.6 1.6 0 1 0 3.2 0a1.6 1.6 0 1 0 -3.2 0M149.4 61.6a1.6 1.6 0 1 0 3.2 0a1.6 1.6 0 1 0 -3.2 0M150.8 74.9a1.6 1.6 0 1 0 3.2 0a1.6 1.6 0 1 0 -3.2 0M152.2 64.0a1.6 1.6 0 1 0 3.2 0a1.6 1.6 0 1 0 -3.2 0M153.6 108.1a1.6 1.6 0 1 0 3.2 0a1.6 1.6 0 1 0 -3.2 0M155.0 77.1a1.6 1.6 0 1 0 3.2 0a1.6 1.6 0 1 0 -3.2 0M156.5 88.4a1.6 1.6 0 1 0 3.2 0a1.6 1.6 0 1 0 -3.2 0M157.9 62.6a1.6 1.6 0 1 0 3.2 0a1.6 1.6 0 1 0 -3.2 0M159.3 98.0a1.6 1.6 0 1 0 3.2 0a1.6 1.6 0 1 0 -3.2 0M160.7 73.2a1.6 1.6 0 1 0 3.2 0a1.6 1.6 0 1 0 -3.2 0M162.1 95.7a1.6 1.6 0 1 0 3.2 0a1.6 1.6 0 1 0 -3.2 0M163.6 89.9a1.6 1.6 0 1 0 3.2 0a1.6 1.6 0 1 0 -3.2 0M165.0 65.4a1.6 1.6 0 1 0 3.2 0a1.6 1.6 0 1 0 -3.2 0M166.4 84.7a1.6 1.6 0 1 0 3.2 0a1.6 1.6 0 1 0 -3.2 0M167.8 74.3a1.6 1.6 0 1 0 3.2 0a1.6 1.6 0 1 0 -3.2 0M169.2 87.6a1.6 1.6 0 1 0 3.2 0a1.6 1.6 0 1 0 -3.2 0M170.7 101.7a1.6 1.6 0 1 0 3.2 0a1.6 1.6 0 1 0 -3.2 0M172.1 92.9a1.6 1.6 0 1 0 3.2 0a1.6 1.6 0 1 0 -3.2 0M173.5 98.7a1.6 1.6 0 1 0 3.2 0a1.6 1.6 0 1 0 -3.2 0M174.9 70.4a1.6 1.6 0 1 0 3.2 0a1.6 1.6 0 1 0 -3.2 0M176.3 89.1a1.6 1.6 0 1 0 3.2 0a1.6 1.6 0 1 0 -3.2 0M177.8 92.0a1.6 1.6 0 1 0 3.2 0a1.6 1.6 0 1 0 -3.2 0M179.2 102.3a1.6 1.6 0 1 0 3.2 0a1.6 1.6 0 1 0 -3.2 0M180.6 81.0a1.6 1.6 0 1 0 3.2 0a1.6 1.6 0 1 0 -3.2 0M182.0 97.7a1.6 1.6 0 1 0 3.2 0a1.6 1.6 0 1 0 -3.2 0M183.4 97.3a1.6 1.6 0 1 0 3.2 0a1.6 1.6 0 1 0 -3.2 0M186.3 81.1a1.6 1.6 0 1 0 3.2 0a1.6 1.6 0 1 0 -3.2 0M187.7 101.8a1.6 1.6 0 1 0 3.2 0a1.6 1.6 0 1 0 -3.2 0M189.1 82.1a1.6 1.6 0 1 0 3.2 0a1.6 1.6 0 1 0 -3.2 0M190.5 82.9a1.6 1.6 0 1 0 3.2 0a1.6 1.6 0 1 0 -3.2 0M192.0 111.2a1.6 1.6 0 1 0 3.2 0a1.6 1.6 0 1 0 -3.2 0M193.4 103.5a1.6 1.6 0 1 0 3.2 0a1.6 1.6 0 1 0 -3.2 0M194.8 77.2a1.6 1.6 0 1 0 3.2 0a1.6 1.6 0 1 0 -3.2 0M196.2 101.5a1.6 1.6 0 1 0 3.2 0a1.6 1.6 0 1 0 -3.2 0M197.6 95.0a1.6 1.6 0 1 0 3.2 0a1.6 1.6 0 1 0 -3.2 0M199.1 93.5a1.6 1.6 0 1 0 3.2 0a1.6 1.6 0 1 0 -3.2 0M200.5 71.5a1.6 1.6 0 1 0 3.2 0a1.6 1.6 0 1 0 -3.2 0M203.3 116.2a1.6 1.6 0 1 0 3.2 0a1.6 1.6 0 1 0 -3.2 0M204.7 92.3a1.6 1.6 0 1 0 3.2 0a1.6 1.6 0 1 0 -3.2 0M206.2 97.0a1.6 1.6 0 1 0 3.2 0a1.6 1.6 0 1 0 -3.2 0M207.6 94.4a1.6 1.6 0 1 0 3.2 0a1.6 1.6 0 1 0 -3.2 0M209.0 80.3a1.6 1.6 0 1 0 3.2 0a1.6 1.6 0 1 0 -3.2 0M210.4 99.9a1.6 1.6 0 1 0 3.2 0a1.6 1.6 0 1 0 -3.2 0M211.8 108.4a1.6 1.6 0 1 0 3.2 0a1.6 1.6 0 1 0 -3.2 0M213.3 86.7a1.6 1.6 0 1 0 3.2 0a1.6 1.6 0 1 0 -3.2 0M214.7 109.1a1.6 1.6 0 1 0 3.2 0a1.6 1.6 0 1 0 -3.2 0M216.1 91.4a1.6 1.6 0 1 0 3.2 0a1.6 1.6 0 1 0 -3.2 0M217.5 114.3a1.6 1.6 0 1 0 3.2 0a1.6 1.6 0 1 0 -3.2 0M218.9 115.6a1.6 1.6 0 1 0 3.2 0a1.6 1.6 0 1 0 -3.2 0M220.4 95.2a1.6 1.6 0 1 0 3.2 0a1.6 1.6 0 1 0 -3.2 0M221.8 74.6a1.6 1.6 0 1 0 3.2 0a1.6 1.6 0 1 0 -3.2 0M223.2 96.5a1.6 1.6 0 1 0 3.2 0a1.6 1.6 0 1 0 -3.2 0M224.6 83.4a1.6 1.6 0 1 0 3.2 0a1.6 1.6 0 1 0 -3.2 0M226.0 84.8a1.6 1.6 0 1 0 3.2 0a1.6 1.6 0 1 0 -3.2 0M227.5 99.0a1.6 1.6 0 1 0 3.2 0a1.6 1.6 0 1 0 -3.2 0M228.9 120.3a1.6 1.6 0 1 0 3.2 0a1.6 1.6 0 1 0 -3.2 0M231.7 99.9a1.6 1.6 0 1 0 3.2 0a1.6 1.6 0 1 0 -3.2 0M233.1 78.7a1.6 1.6 0 1 0 3.2 0a1.6 1.6 0 1 0 -3.2 0M234.6 95.0a1.6 1.6 0 1 0 3.2 0a1.6 1.6 0 1 0 -3.2 0M236.0 84.8a1.6 1.6 0 1 0 3.2 0a1.6 1.6 0 1 0 -3.2 0M237.4 109.7a1.6 1.6 0 1 0 3.2 0a1.6 1.6 0 1 0 -3.2 0M238.8 95.6a1.6 1.6 0 1 0 3.2 0a1.6 1.6 0 1 0 -3.2 0M240.3 102.6a1.6 1.6 0 1 0 3.2 0a1.6 1.6 0 1 0 -3.2 0M241.7 103.1a1.6 1.6 0 1 0 3.2 0a1.6 1.6 0 1 0 -3.2 0M243.1 101.0a1.6 1.6 0 1 0 3.2 0a1.6 1.6 0 1 0 -3.2 0M244.5 103.0a1.6 1.6 0 1 0 3.2 0a1.6 1.6 0 1 0 -3.2 0M245.9 110.0a1.6 1.6 0 1 0 3.2 0a1.6 1.6 0 1 0 -3.2 0M247.4 99.6a1.6 1.6 0 1 0 3.2 0a1.6 1.6 0 1 0 -3.2 0M248.8 75.4a1.6 1.6 0 1 0 3.2 0a1.6 1.6 0 1 0 -3.2 0M250.2 130.8a1.6 1.6 0 1 0 3.2 0a1.6 1.6 0 1 0 -3.2 0M253.0 101.8a1.6 1.6 0 1 0 3.2 0a1.6 1.6 0 1 0 -3.2 0M254.5 116.3a1.6 1.6 0 1 0 3.2 0a1.6 1.6 0 1 0 -3.2 0M255.9 87.2a1.6 1.6 0 1 0 3.2 0a1.6 1.6 0 1 0 -3.2 0M257.3 89.3a1.6 1.6 0 1 0 3.2 0a1.6 1.6 0 1 0 -3.2 0M258.7 70.5a1.6 1.6 0 1 0 3.2 0a1.6 1.6 0 1 0 -3.2 0M260.1 74.4a1.6 1.6 0 1 0 3.2 0a1.6 1.6 0 1 0 -3.2 0M261.6 72.7a1.6 1.6 0 1 0 3.2 0a1.6 1.6 0 1 0 -3.2 0M265.8 84.7a1.6 1.6 0 1 0 3.2 0a1.6 1.6 0 1 0 -3.2 0M267.2 83.7a1.6 1.6 0 1 0 3.2 0a1.6 1.6 0 1 0 -3.2 0M268.7 107.7a1.6 1.6 0 1 0 3.2 0a1.6 1.6 0 1 0 -3.2 0M270.1 94.8a1.6 1.6 0 1 0 3.2 0a1.6 1.6 0 1 0 -3.2 0M271.5 110.9a1.6 1.6 0 1 0 3.2 0a1.6 1.6 0 1 0 -3.2 0M272.9 94.3a1.6 1.6 0 1 0 3.2 0a1.6 1.6 0 1 0 -3.2 0M274.3 109.5a1.6 1.6 0 1 0 3.2 0a1.6 1.6 0 1 0 -3.2 0M275.8 107.2a1.6 1.6 0 1 0 3.2 0a1.6 1.6 0 1 0 -3.2 0M277.2 102.2a1.6 1.6 0 1 0 3.2 0a1.6 1.6 0 1 0 -3.2 0M278.6 125.1a1.6 1.6 0 1 0 3.2 0a1.6 1.6 0 1 0 -3.2 0M280.0 97.1a1.6 1.6 0 1 0 3.2 0a1.6 1.6 0 1 0 -3.2 0M281.4 96.8a1.6 1.6 0 1 0 3.2 0a1.6 1.6 0 1 0 -3.2 0M282.9 105.5a1.6 1.6 0 1 0 3.2 0a1.6 1.6 0 1 0 -3.2 0M284.3 119.6a1.6 1.6 0 1 0 3.2 0a1.6 1.6 0 1 0 -3.2 0M285.7 104.8a1.6 1.6 0 1 0 3.2 0a1.6 1.6 0 1 0 -3.2 0M287.1 104.8a1.6 1.6 0 1 0 3.2 0a1.6 1.6 0 1 0 -3.2 0M291.4 111.1a1.6 1.6 0 1 0 3.2 0a1.6 1.6 0 1 0 -3.2 0M292.8 100.0a1.6 1.6 0 1 0 3.2 0a1.6 1.6 0 1 0 -3.2 0M294.2 113.2a1.6 1.6 0 1 0 3.2 0a1.6 1.6 0 1 0 -3.2 0M295.6 121.3a1.6 1.6 0 1 0 3.2 0a1.6 1.6 0 1 0 -3.2 0M297.1 104.5a1.6 1.6 0 1 0 3.2 0a1.6 1.6 0 1 0 -3.2 0M298.5 111.4a1.6 1.6 0 1 0 3.2 0a1.6 1.6 0 1 0 -3.2 0M299.9 83.8a1.6 1.6 0 1 0 3.2 0a1.6 1.6 0 1 0 -3.2 0M301.3 106.7a1.6 1.6 0 1 0 3.2 0a1.6 1.6 0 1 0 -3.2 0M302.7 106.6a1.6 1.6 0 1 0 3.2 0a1.6 1.6 0 1 0 -3.2 0M304.2 114.3a1.6 1.6 0 1 0 3.2 0a1.6 1.6 0 1 0 -3.2 0M305.6 111.0a1.6 1.6 0 1 0 3.2 0a1.6 1.6 0 1 0 -3.2 0M307.0 117.9a1.6 1.6 0 1 0 3.2 0a1.6 1.6 0 1 0 -3.2 0M308.4 122.6a1.6 1.6 0 1 0 3.2 0a1.6 1.6 0 1 0 -3.2 0M309.8 118.2a1.6 1.6 0 1 0 3.2 0a1.6 1.6 0 1 0 -3.2 0M311.3 89.0a1.6 1.6 0 1 0 3.2 0a1.6 1.6 0 1 0 -3.2 0M312.7 103.5a1.6 1.6 0 1 0 3.2 0a1.6 1.6 0 1 0 -3.2 0M314.1 126.8a1.6 1.6 0 1 0 3.2 0a1.6 1.6 0 1 0 -3.2 0M315.5 124.6a1.6 1.6 0 1 0 3.2 0a1.6 1.6 0 1 0 -3.2 0M318.4 123.5a1.6 1.6 0 1 0 3.2 0a1.6 1.6 0 1 0 -3.2 0M319.8 111.4a1.6 1.6 0 1 0 3.2 0a1.6 1.6 0 1 0 -3.2 0M321.2 108.0a1.6 1.6 0 1 0 3.2 0a1.6 1.6 0 1 0 -3.2 0M322.6 121.9a1.6 1.6 0 1 0 3.2 0a1.6 1.6 0 1 0 -3.2 0M324.1 122.7a1.6 1.6 0 1 0 3.2 0a1.6 1.6 0 1 0 -3.2 0M325.5 141.3a1.6 1.6 0 1 0 3.2 0a1.6 1.6 0 1 0 -3.2 0M326.9 106.5a1.6 1.6 0 1 0 3.2 0a1.6 1.6 0 1 0 -3.2 0M328.3 121.8a1.6 1.6 0 1 0 3.2 0a1.6 1.6 0 1 0 -3.2 0M329.7 127.7a1.6 1.6 0 1 0 3.2 0a1.6 1.6 0 1 0 -3.2 0M331.2 107.8a1.6 1.6 0 1 0 3.2 0a1.6 1.6 0 1 0 -3.2 0M332.6 146.2a1.6 1.6 0 1 0 3.2 0a1.6 1.6 0 1 0 -3.2 0M335.4 120.6a1.6 1.6 0 1 0 3.2 0a1.6 1.6 0 1 0 -3.2 0M336.8 132.6a1.6 1.6 0 1 0 3.2 0a1.6 1.6 0 1 0 -3.2 0M338.3 123.0a1.6 1.6 0 1 0 3.2 0a1.6 1.6 0 1 0 -3.2 0M339.7 128.9a1.6 1.6 0 1 0 3.2 0a1.6 1.6 0 1 0 -3.2 0M341.1 116.3a1.6 1.6 0 1 0 3.2 0a1.6 1.6 0 1 0 -3.2 0M342.5 122.1a1.6 1.6 0 1 0 3.2 0a1.6 1.6 0 1 0 -3.2 0M343.9 111.9a1.6 1.6 0 1 0 3.2 0a1.6 1.6 0 1 0 -3.2 0M345.4 145.7a1.6 1.6 0 1 0 3.2 0a1.6 1.6 0 1 0 -3.2 0M346.8 133.7a1.6 1.6 0 1 0 3.2 0a1.6 1.6 0 1 0 -3.2 0M348.2 136.3a1.6 1.6 0 1 0 3.2 0a1.6 1.6 0 1 0 -3.2 0M349.6 109.5a1.6 1.6 0 1 0 3.2 0a1.6 1.6 0 1 0 -3.2 0M351.0 130.7a1.6 1.6 0 1 0 3.2 0a1.6 1.6 0 1 0 -3.2 0M352.5 115.9a1.6 1.6 0 1 0 3.2 0a1.6 1.6 0 1 0 -3.2 0M353.9 131.4a1.6 1.6 0 1 0 3.2 0a1.6 1.6 0 1 0 -3.2 0M355.3 139.6a1.6 1.6 0 1 0 3.2 0a1.6 1.6 0 1 0 -3.2 0M356.7 122.6a1.6 1.6 0 1 0 3.2 0a1.6 1.6 0 1 0 -3.2 0M358.1 116.5a1.6 1.6 0 1 0 3.2 0a1.6 1.6 0 1 0 -3.2 0M359.6 113.3a1.6 1.6 0 1 0 3.2 0a1.6 1.6 0 1 0 -3.2 0M361.0 170.5a1.6 1.6 0 1 0 3.2 0a1.6 1.6 0 1 0 -3.2 0M362.4 153.7a1.6 1.6 0 1 0 3.2 0a1.6 1.6 0 1 0 -3.2 0M363.8 152.5a1.6 1.6 0 1 0 3.2 0a1.6 1.6 0 1 0 -3.2 0M365.2 137.9a1.6 1.6 0 1 0 3.2 0a1.6 1.6 0 1 0 -3.2 0M366.7 125.1a1.6 1.6 0 1 0 3.2 0a1.6 1.6 0 1 0 -3.2 0M368.1 133.1a1.6 1.6 0 1 0 3.2 0a1.6 1.6 0 1 0 -3.2 0M369.5 118.4a1.6 1.6 0 1 0 3.2 0a1.6 1.6 0 1 0 -3.2 0M370.9 117.4a1.6 1.6 0 1 0 3.2 0a1.6 1.6 0 1 0 -3.2 0M372.3 151.0a1.6 1.6 0 1 0 3.2 0a1.6 1.6 0 1 0 -3.2 0M373.8 132.8a1.6 1.6 0 1 0 3.2 0a1.6 1.6 0 1 0 -3.2 0M375.2 139.8a1.6 1.6 0 1 0 3.2 0a1.6 1.6 0 1 0 -3.2 0M376.6 131.4a1.6 1.6 0 1 0 3.2 0a1.6 1.6 0 1 0 -3.2 0M378.0 140.0a1.6 1.6 0 1 0 3.2 0a1.6 1.6 0 1 0 -3.2 0M379.4 172.4a1.6 1.6 0 1 0 3.2 0a1.6 1.6 0 1 0 -3.2 0M380.9 120.2a1.6 1.6 0 1 0 3.2 0a1.6 1.6 0 1 0 -3.2 0M382.3 91.6a1.6 1.6 0 1 0 3.2 0a1.6 1.6 0 1 0 -3.2 0M383.7 118.8a1.6 1.6 0 1 0 3.2 0a1.6 1.6 0 1 0 -3.2 0M385.1 144.9a1.6 1.6 0 1 0 3.2 0a1.6 1.6 0 1 0 -3.2 0M386.5 144.1a1.6 1.6 0 1 0 3.2 0a1.6 1.6 0 1 0 -3.2 0M388.0 124.2a1.6 1.6 0 1 0 3.2 0a1.6 1.6 0 1 0 -3.2 0M389.4 158.0a1.6 1.6 0 1 0 3.2 0a1.6 1.6 0 1 0 -3.2 0M390.8 128.6a1.6 1.6 0 1 0 3.2 0a1.6 1.6 0 1 0 -3.2 0M392.2 112.6a1.6 1.6 0 1 0 3.2 0a1.6 1.6 0 1 0 -3.2 0M393.6 101.6a1.6 1.6 0 1 0 3.2 0a1.6 1.6 0 1 0 -3.2 0M395.1 125.0a1.6 1.6 0 1 0 3.2 0a1.6 1.6 0 1 0 -3.2 0M396.5 119.4a1.6 1.6 0 1 0 3.2 0a1.6 1.6 0 1 0 -3.2 0M397.9 94.3a1.6 1.6 0 1 0 3.2 0a1.6 1.6 0 1 0 -3.2 0M399.3 128.3a1.6 1.6 0 1 0 3.2 0a1.6 1.6 0 1 0 -3.2 0M400.7 138.0a1.6 1.6 0 1 0 3.2 0a1.6 1.6 0 1 0 -3.2 0M403.6 133.4a1.6 1.6 0 1 0 3.2 0a1.6 1.6 0 1 0 -3.2 0M405.0 145.4a1.6 1.6 0 1 0 3.2 0a1.6 1.6 0 1 0 -3.2 0M406.4 131.5a1.6 1.6 0 1 0 3.2 0a1.6 1.6 0 1 0 -3.2 0M407.9 118.7a1.6 1.6 0 1 0 3.2 0a1.6 1.6 0 1 0 -3.2 0M409.3 133.1a1.6 1.6 0 1 0 3.2 0a1.6 1.6 0 1 0 -3.2 0M410.7 135.8a1.6 1.6 0 1 0 3.2 0a1.6 1.6 0 1 0 -3.2 0M412.1 156.8a1.6 1.6 0 1 0 3.2 0a1.6 1.6 0 1 0 -3.2 0M413.5 121.6a1.6 1.6 0 1 0 3.2 0a1.6 1.6 0 1 0 -3.2 0M415.0 105.3a1.6 1.6 0 1 0 3.2 0a1.6 1.6 0 1 0 -3.2 0M416.4 127.6a1.6 1.6 0 1 0 3.2 0a1.6 1.6 0 1 0 -3.2 0M417.8 126.2a1.6 1.6 0 1 0 3.2 0a1.6 1.6 0 1 0 -3.2 0M419.2 114.9a1.6 1.6 0 1 0 3.2 0a1.6 1.6 0 1 0 -3.2 0M420.6 125.9a1.6 1.6 0 1 0 3.2 0a1.6 1.6 0 1 0 -3.2 0M422.1 123.0a1.6 1.6 0 1 0 3.2 0a1.6 1.6 0 1 0 -3.2 0M423.5 135.4a1.6 1.6 0 1 0 3.2 0a1.6 1.6 0 1 0 -3.2 0M424.9 109.6a1.6 1.6 0 1 0 3.2 0a1.6 1.6 0 1 0 -3.2 0M426.3 112.1a1.6 1.6 0 1 0 3.2 0a1.6 1.6 0 1 0 -3.2 0M427.7 121.7a1.6 1.6 0 1 0 3.2 0a1.6 1.6 0 1 0 -3.2 0M429.2 81.7a1.6 1.6 0 1 0 3.2 0a1.6 1.6 0 1 0 -3.2 0M430.6 139.6a1.6 1.6 0 1 0 3.2 0a1.6 1.6 0 1 0 -3.2 0M432.0 119.5a1.6 1.6 0 1 0 3.2 0a1.6 1.6 0 1 0 -3.2 0M433.4 120.2a1.6 1.6 0 1 0 3.2 0a1.6 1.6 0 1 0 -3.2 0M434.8 139.1a1.6 1.6 0 1 0 3.2 0a1.6 1.6 0 1 0 -3.2 0M436.3 124.5a1.6 1.6 0 1 0 3.2 0a1.6 1.6 0 1 0 -3.2 0M437.7 129.6a1.6 1.6 0 1 0 3.2 0a1.6 1.6 0 1 0 -3.2 0M439.1 125.8a1.6 1.6 0 1 0 3.2 0a1.6 1.6 0 1 0 -3.2 0M440.5 112.2a1.6 1.6 0 1 0 3.2 0a1.6 1.6 0 1 0 -3.2 0M443.4 112.3a1.6 1.6 0 1 0 3.2 0a1.6 1.6 0 1 0 -3.2 0M444.8 97.2a1.6 1.6 0 1 0 3.2 0a1.6 1.6 0 1 0 -3.2 0M446.2 105.9a1.6 1.6 0 1 0 3.2 0a1.6 1.6 0 1 0 -3.2 0M447.6 120.6a1.6 1.6 0 1 0 3.2 0a1.6 1.6 0 1 0 -3.2 0M449.0 112.6a1.6 1.6 0 1 0 3.2 0a1.6 1.6 0 1 0 -3.2 0M450.5 95.4a1.6 1.6 0 1 0 3.2 0a1.6 1.6 0 1 0 -3.2 0M451.9 137.5a1.6 1.6 0 1 0 3.2 0a1.6 1.6 0 1 0 -3.2 0M453.3 159.3a1.6 1.6 0 1 0 3.2 0a1.6 1.6 0 1 0 -3.2 0M454.7 114.9a1.6 1.6 0 1 0 3.2 0a1.6 1.6 0 1 0 -3.2 0M457.6 123.4a1.6 1.6 0 1 0 3.2 0a1.6 1.6 0 1 0 -3.2 0M459.0 95.6a1.6 1.6 0 1 0 3.2 0a1.6 1.6 0 1 0 -3.2 0M460.4 107.1a1.6 1.6 0 1 0 3.2 0a1.6 1.6 0 1 0 -3.2 0M461.8 104.0a1.6 1.6 0 1 0 3.2 0a1.6 1.6 0 1 0 -3.2 0M463.2 120.9a1.6 1.6 0 1 0 3.2 0a1.6 1.6 0 1 0 -3.2 0M464.7 111.0a1.6 1.6 0 1 0 3.2 0a1.6 1.6 0 1 0 -3.2 0M466.1 110.4a1.6 1.6 0 1 0 3.2 0a1.6 1.6 0 1 0 -3.2 0M467.5 111.4a1.6 1.6 0 1 0 3.2 0a1.6 1.6 0 1 0 -3.2 0M468.9 129.4a1.6 1.6 0 1 0 3.2 0a1.6 1.6 0 1 0 -3.2 0M470.3 112.1a1.6 1.6 0 1 0 3.2 0a1.6 1.6 0 1 0 -3.2 0M471.8 114.3a1.6 1.6 0 1 0 3.2 0a1.6 1.6 0 1 0 -3.2 0M473.2 90.1a1.6 1.6 0 1 0 3.2 0a1.6 1.6 0 1 0 -3.2 0M474.6 110.7a1.6 1.6 0 1 0 3.2 0a1.6 1.6 0 1 0 -3.2 0M476.0 84.9a1.6 1.6 0 1 0 3.2 0a1.6 1.6 0 1 0 -3.2 0M477.4 112.8a1.6 1.6 0 1 0 3.2 0a1.6 1.6 0 1 0 -3.2 0M478.9 101.9a1.6 1.6 0 1 0 3.2 0a1.6 1.6 0 1 0 -3.2 0M480.3 87.9a1.6 1.6 0 1 0 3.2 0a1.6 1.6 0 1 0 -3.2 0M481.7 85.3a1.6 1.6 0 1 0 3.2 0a1.6 1.6 0 1 0 -3.2 0M483.1 100.5a1.6 1.6 0 1 0 3.2 0a1.6 1.6 0 1 0 -3.2 0M484.5 104.8a1.6 1.6 0 1 0 3.2 0a1.6 1.6 0 1 0 -3.2 0M486.0 97.3a1.6 1.6 0 1 0 3.2 0a1.6 1.6 0 1 0 -3.2 0M487.4 101.8a1.6 1.6 0 1 0 3.2 0a1.6 1.6 0 1 0 -3.2 0M488.8 103.5a1.6 1.6 0 1 0 3.2 0a1.6 1.6 0 1 0 -3.2 0M490.2 101.9a1.6 1.6 0 1 0 3.2 0a1.6 1.6 0 1 0 -3.2 0M491.6 107.0a1.6 1.6 0 1 0 3.2 0a1.6 1.6 0 1 0 -3.2 0M493.1 113.7a1.6 1.6 0 1 0 3.2 0a1.6 1.6 0 1 0 -3.2 0M494.5 127.7a1.6 1.6 0 1 0 3.2 0a1.6 1.6 0 1 0 -3.2 0M495.9 119.9a1.6 1.6 0 1 0 3.2 0a1.6 1.6 0 1 0 -3.2 0M497.3 104.9a1.6 1.6 0 1 0 3.2 0a1.6 1.6 0 1 0 -3.2 0M498.8 134.0a1.6 1.6 0 1 0 3.2 0a1.6 1.6 0 1 0 -3.2 0M500.2 129.0a1.6 1.6 0 1 0 3.2 0a1.6 1.6 0 1 0 -3.2 0M501.6 110.8a1.6 1.6 0 1 0 3.2 0a1.6 1.6 0 1 0 -3.2 0M503.0 127.5a1.6 1.6 0 1 0 3.2 0a1.6 1.6 0 1 0 -3.2 0M504.4 107.6a1.6 1.6 0 1 0 3.2 0a1.6 1.6 0 1 0 -3.2 0M505.9 104.9a1.6 1.6 0 1 0 3.2 0a1.6 1.6 0 1 0 -3.2 0M507.3 105.5a1.6 1.6 0 1 0 3.2 0a1.6 1.6 0 1 0 -3.2 0M508.7 136.1a1.6 1.6 0 1 0 3.2 0a1.6 1.6 0 1 0 -3.2 0M510.1 117.1a1.6 1.6 0 1 0 3.2 0a1.6 1.6 0 1 0 -3.2 0M511.5 119.6a1.6 1.6 0 1 0 3.2 0a1.6 1.6 0 1 0 -3.2 0M513.0 116.6a1.6 1.6 0 1 0 3.2 0a1.6 1.6 0 1 0 -3.2 0M514.4 110.8a1.6 1.6 0 1 0 3.2 0a1.6 1.6 0 1 0 -3.2 0M515.8 122.7a1.6 1.6 0 1 0 3.2 0a1.6 1.6 0 1 0 -3.2 0M517.2 125.5a1.6 1.6 0 1 0 3.2 0a1.6 1.6 0 1 0 -3.2 0M518.6 142.5a1.6 1.6 0 1 0 3.2 0a1.6 1.6 0 1 0 -3.2 0M520.1 106.3a1.6 1.6 0 1 0 3.2 0a1.6 1.6 0 1 0 -3.2 0M521.5 137.5a1.6 1.6 0 1 0 3.2 0a1.6 1.6 0 1 0 -3.2 0M522.9 126.7a1.6 1.6 0 1 0 3.2 0a1.6 1.6 0 1 0 -3.2 0M524.3 96.1a1.6 1.6 0 1 0 3.2 0a1.6 1.6 0 1 0 -3.2 0M525.7 131.6a1.6 1.6 0 1 0 3.2 0a1.6 1.6 0 1 0 -3.2 0M527.2 140.4a1.6 1.6 0 1 0 3.2 0a1.6 1.6 0 1 0 -3.2 0M528.6 134.1a1.6 1.6 0 1 0 3.2 0a1.6 1.6 0 1 0 -3.2 0M530.0 123.5a1.6 1.6 0 1 0 3.2 0a1.6 1.6 0 1 0 -3.2 0M531.4 122.9a1.6 1.6 0 1 0 3.2 0a1.6 1.6 0 1 0 -3.2 0M532.8 94.6a1.6 1.6 0 1 0 3.2 0a1.6 1.6 0 1 0 -3.2 0M534.3 123.7a1.6 1.6 0 1 0 3.2 0a1.6 1.6 0 1 0 -3.2 0M535.7 120.9a1.6 1.6 0 1 0 3.2 0a1.6 1.6 0 1 0 -3.2 0M537.1 142.9a1.6 1.6 0 1 0 3.2 0a1.6 1.6 0 1 0 -3.2 0M538.5 119.4a1.6 1.6 0 1 0 3.2 0a1.6 1.6 0 1 0 -3.2 0M539.9 107.4a1.6 1.6 0 1 0 3.2 0a1.6 1.6 0 1 0 -3.2 0M541.4 143.8a1.6 1.6 0 1 0 3.2 0a1.6 1.6 0 1 0 -3.2 0M542.8 97.1a1.6 1.6 0 1 0 3.2 0a1.6 1.6 0 1 0 -3.2 0M544.2 99.5a1.6 1.6 0 1 0 3.2 0a1.6 1.6 0 1 0 -3.2 0M545.6 81.5a1.6 1.6 0 1 0 3.2 0a1.6 1.6 0 1 0 -3.2 0M547.0 102.7a1.6 1.6 0 1 0 3.2 0a1.6 1.6 0 1 0 -3.2 0M548.5 107.7a1.6 1.6 0 1 0 3.2 0a1.6 1.6 0 1 0 -3.2 0M549.9 104.7a1.6 1.6 0 1 0 3.2 0a1.6 1.6 0 1 0 -3.2 0M551.3 94.9a1.6 1.6 0 1 0 3.2 0a1.6 1.6 0 1 0 -3.2 0M552.7 113.4a1.6 1.6 0 1 0 3.2 0a1.6 1.6 0 1 0 -3.2 0M555.6 115.2a1.6 1.6 0 1 0 3.2 0a1.6 1.6 0 1 0 -3.2 0M557.0 97.2a1.6 1.6 0 1 0 3.2 0a1.6 1.6 0 1 0 -3.2 0M558.4 101.6a1.6 1.6 0 1 0 3.2 0a1.6 1.6 0 1 0 -3.2 0M559.8 94.5a1.6 1.6 0 1 0 3.2 0a1.6 1.6 0 1 0 -3.2 0M561.2 83.8a1.6 1.6 0 1 0 3.2 0a1.6 1.6 0 1 0 -3.2 0M562.7 108.2a1.6 1.6 0 1 0 3.2 0a1.6 1.6 0 1 0 -3.2 0M564.1 90.1a1.6 1.6 0 1 0 3.2 0a1.6 1.6 0 1 0 -3.2 0M566.9 98.7a1.6 1.6 0 1 0 3.2 0a1.6 1.6 0 1 0 -3.2 0M568.3 79.8a1.6 1.6 0 1 0 3.2 0a1.6 1.6 0 1 0 -3.2 0M569.8 95.0a1.6 1.6 0 1 0 3.2 0a1.6 1.6 0 1 0 -3.2 0M571.2 111.1a1.6 1.6 0 1 0 3.2 0a1.6 1.6 0 1 0 -3.2 0M572.6 91.8a1.6 1.6 0 1 0 3.2 0a1.6 1.6 0 1 0 -3.2 0M574.0 96.6a1.6 1.6 0 1 0 3.2 0a1.6 1.6 0 1 0 -3.2 0M575.4 100.3a1.6 1.6 0 1 0 3.2 0a1.6 1.6 0 1 0 -3.2 0M576.9 88.9a1.6 1.6 0 1 0 3.2 0a1.6 1.6 0 1 0 -3.2 0M578.3 93.4a1.6 1.6 0 1 0 3.2 0a1.6 1.6 0 1 0 -3.2 0M579.7 102.5a1.6 1.6 0 1 0 3.2 0a1.6 1.6 0 1 0 -3.2 0M581.1 91.7a1.6 1.6 0 1 0 3.2 0a1.6 1.6 0 1 0 -3.2 0M582.6 97.1a1.6 1.6 0 1 0 3.2 0a1.6 1.6 0 1 0 -3.2 0M584.0 94.4a1.6 1.6 0 1 0 3.2 0a1.6 1.6 0 1 0 -3.2 0M586.8 79.1a1.6 1.6 0 1 0 3.2 0a1.6 1.6 0 1 0 -3.2 0M588.2 121.5a1.6 1.6 0 1 0 3.2 0a1.6 1.6 0 1 0 -3.2 0M589.7 100.2a1.6 1.6 0 1 0 3.2 0a1.6 1.6 0 1 0 -3.2 0M591.1 92.4a1.6 1.6 0 1 0 3.2 0a1.6 1.6 0 1 0 -3.2 0M592.5 104.6a1.6 1.6 0 1 0 3.2 0a1.6 1.6 0 1 0 -3.2 0M593.9 117.6a1.6 1.6 0 1 0 3.2 0a1.6 1.6 0 1 0 -3.2 0M595.3 101.3a1.6 1.6 0 1 0 3.2 0a1.6 1.6 0 1 0 -3.2 0M596.8 82.4a1.6 1.6 0 1 0 3.2 0a1.6 1.6 0 1 0 -3.2 0M598.2 66.8a1.6 1.6 0 1 0 3.2 0a1.6 1.6 0 1 0 -3.2 0M601.0 78.8a1.6 1.6 0 1 0 3.2 0a1.6 1.6 0 1 0 -3.2 0M602.4 97.6a1.6 1.6 0 1 0 3.2 0a1.6 1.6 0 1 0 -3.2 0M603.9 98.5a1.6 1.6 0 1 0 3.2 0a1.6 1.6 0 1 0 -3.2 0M605.3 73.3a1.6 1.6 0 1 0 3.2 0a1.6 1.6 0 1 0 -3.2 0M606.7 70.3a1.6 1.6 0 1 0 3.2 0a1.6 1.6 0 1 0 -3.2 0M608.1 88.4a1.6 1.6 0 1 0 3.2 0a1.6 1.6 0 1 0 -3.2 0M609.5 97.7a1.6 1.6 0 1 0 3.2 0a1.6 1.6 0 1 0 -3.2 0M611.0 57.9a1.6 1.6 0 1 0 3.2 0a1.6 1.6 0 1 0 -3.2 0M612.4 76.0a1.6 1.6 0 1 0 3.2 0a1.6 1.6 0 1 0 -3.2 0M613.8 54.2a1.6 1.6 0 1 0 3.2 0a1.6 1.6 0 1 0 -3.2 0M616.6 65.8a1.6 1.6 0 1 0 3.2 0a1.6 1.6 0 1 0 -3.2 0M618.1 65.6a1.6 1.6 0 1 0 3.2 0a1.6 1.6 0 1 0 -3.2 0M619.5 69.9a1.6 1.6 0 1 0 3.2 0a1.6 1.6 0 1 0 -3.2 0" stroke="#eba62a" stroke-opacity="0.62" stroke-width="1.2"/><path d="M106.1 71.6 L114.3 70.6 L124.6 90.2 L132.9 88.1 L142.2 103.6 L154.6 111.9 L161.8 106.7 L173.2 101.6 L183.5 107.8 L192.8 71.6 L202.1 93.3 L211.4 80.9 L218.6 95.4 L224.8 124.3 L232.0 111.9 L240.0 106.1 L250.3 82.4 L262.7 70.0 L273.0 92.7 L283.4 107.2 L293.7 148.5 L304.0 105.1 L314.3 119.6 L321.6 113.4 L332.9 92.7 L341.2 93.7 L352.5 115.4 L363.9 130.9 L372.1 133.0 L380.0 117.5 L384.3 114.1 L393.6 122.3 L402.8 96.5 L413.2 111.0 L423.5 107.9 L432.8 146.1 L443.1 126.5 L451.4 135.8 L460.7 115.1 L470.0 106.8 L480.3 99.6 L491.6 103.7 L502.0 116.1 L511.8 135.6 L522.1 105.7 L531.4 102.6 L540.7 123.2 L552.1 108.8 L561.4 86.1 L571.7 95.4 L583.0 103.6 L591.3 99.5 L601.6 111.9 L612.0 84.0 L620.2 107.8" stroke="#0000e6" stroke-opacity="0.76" stroke-width="2.7"/><path d="M114.3 114.0 L124.6 127.4 L133.9 95.4 L141.2 92.3 L151.5 83.0 L161.8 67.5 L166.0 61.3 L174.2 62.3 L185.6 80.9 L192.8 58.2 L204.1 95.4 L213.4 70.6 L223.8 93.3 L232.0 101.6 L240.0 108.0 L250.3 101.0 L262.7 82.4 L274.1 101.0 L285.4 115.4 L293.7 140.2 L302.0 109.2 L310.2 117.5 L318.5 123.7 L328.8 113.4 L342.2 94.8 L352.5 108.2 L362.9 96.8 L372.1 94.8 L380.0 98.9 L384.3 100.6 L392.5 123.4 L402.8 116.1 L412.1 139.9 L421.4 139.9 L431.8 168.8 L442.1 135.8 L451.4 128.5 L460.7 131.6 L471.0 131.6 L479.2 126.5 L488.5 115.1 L499.9 111.0 L512.8 105.7 L523.2 87.1 L533.5 95.4 L546.9 101.6 L552.1 103.6 L561.4 86.1 L571.7 97.4 L581.0 106.7 L591.3 102.6 L601.6 118.1 L612.0 110.8 L621.5 150.0" stroke="#ee0000" stroke-opacity="0.76" stroke-width="2.7"/><path d="M114.3 109.8 L123.6 111.9 L132.9 91.2 L142.2 81.9 L151.5 76.8 L161.8 69.6 L172.1 64.4 L184.5 68.5 L196.9 68.5 L205.2 70.6 L213.4 76.8 L221.7 87.1 L230.0 97.4 L238.2 105.7 L244.0 114.0 L251.4 117.5 L263.7 99.9 L274.1 123.7 L284.4 110.3 L293.7 119.6 L304.0 102.0 L314.3 113.4 L326.7 119.6 L339.1 109.2 L347.4 98.9 L357.7 103.0 L368.0 101.0 L376.0 102.7 L384.3 100.6 L393.6 113.0 L402.8 107.9 L413.2 126.5 L422.5 132.7 L432.8 148.1 L443.1 134.7 L452.4 147.1 L462.7 136.8 L473.0 131.6 L483.4 117.2 L492.7 106.8 L502.5 107.8 L511.8 97.4 L522.1 85.0 L532.5 83.0 L541.8 94.3 L552.1 77.8 L561.4 78.8 L570.7 91.2 L581.0 98.5 L591.3 106.7 L601.6 112.9 L612.0 103.6 L620.2 109.8" stroke="#228b22" stroke-opacity="0.76" stroke-width="2.7"/><path d="M114.3 67.5 L124.6 72.6 L135.0 70.6 L145.3 69.6 L154.6 77.8 L161.8 76.8 L172.1 83.0 L182.5 89.2 L192.8 99.5 L201.1 100.5 L211.4 96.4 L219.6 99.5 L230.0 102.6 L240.0 103.0 L252.4 104.1 L262.7 85.5 L273.0 98.9 L283.4 103.0 L293.7 117.5 L304.0 105.1 L314.3 111.3 L324.7 119.6 L332.9 131.9 L342.2 124.7 L352.5 131.9 L363.9 137.1 L372.1 138.1 L380.0 134.0 L384.3 127.5 L394.6 128.5 L403.9 121.3 L413.2 129.6 L422.5 118.2 L431.8 123.4 L442.1 114.1 L453.4 106.8 L462.7 106.8 L473.0 102.7 L482.3 98.6 L491.6 107.9 L502.5 112.9 L512.8 114.0 L523.2 116.0 L533.5 119.1 L541.8 114.0 L552.1 102.6 L561.4 95.4 L571.7 99.5 L581.0 96.4 L591.3 95.4 L601.6 83.0 L612.0 69.6 L620.2 69.6" stroke="#ffa500" stroke-opacity="0.76" stroke-width="2.7"/></g><clipPath id="cb"><rect x="104.8" y="198.0" width="517.00" height="125.60"/></clipPath><g clip-path="url(#cb)" fill="none" stroke-linejoin="round" stroke-linecap="round"><path d="M104.0 314.2 L107.6 313.0 L112.4 311.5 L118.1 309.7 L124.4 307.7 L131.0 305.6 L137.6 303.4 L143.9 301.1 L149.5 299.0 L154.5 296.9 L159.3 294.8 L163.9 292.7 L168.4 290.5 L172.9 288.2 L177.5 285.9 L182.4 283.5 L187.5 281.0 L193.1 278.3 L199.1 275.4 L205.5 272.3 L211.8 269.2 L218.1 266.1 L224.1 263.1 L229.6 260.4 L234.5 258.0 L238.6 255.9 L242.0 254.1 L244.9 252.5 L247.6 251.1 L250.2 249.7 L252.8 248.3 L255.7 246.9 L259.0 245.3 L262.8 243.6 L266.9 241.8 L271.2 240.0 L275.5 238.2 L279.9 236.4 L284.3 234.6 L288.4 232.9 L292.3 231.3 L295.9 229.7 L299.4 228.2 L302.7 226.8 L305.9 225.4 L309.1 224.0 L312.3 222.6 L315.4 221.3 L318.6 219.9 L321.8 218.5 L325.1 217.0 L328.3 215.6 L331.6 214.1 L334.8 212.8 L337.9 211.5 L341.0 210.4 L344.0 209.4 L346.9 208.6 L349.8 207.9 L352.6 207.4 L355.4 206.9 L358.1 206.6 L360.7 206.4 L363.4 206.2 L366.0 206.2 L368.6 206.2 L371.1 206.4 L373.7 206.6 L376.2 206.9 L378.6 207.4 L381.0 207.9 L383.4 208.6 L385.8 209.4 L388.1 210.4 L390.3 211.5 L392.5 212.9 L394.7 214.3 L396.9 215.8 L399.1 217.2 L401.3 218.6 L403.7 219.9 L406.1 221.1 L408.6 222.2 L411.0 223.2 L413.6 224.3 L416.2 225.3 L418.8 226.4 L421.7 227.6 L424.6 228.8 L427.7 230.1 L431.0 231.5 L434.4 233.0 L437.9 234.4 L441.4 236.0 L445.0 237.5 L448.5 239.0 L452.0 240.5 L455.5 242.0 L459.0 243.6 L462.6 245.1 L466.2 246.7 L469.7 248.3 L473.2 249.8 L476.7 251.3 L480.0 252.7 L483.2 254.0 L486.4 255.3 L489.4 256.6 L492.5 257.8 L495.5 259.0 L498.4 260.1 L501.4 261.4 L504.4 262.6 L507.4 263.9 L510.2 265.1 L513.1 266.3 L515.9 267.6 L518.8 268.9 L521.7 270.2 L524.8 271.6 L528.0 273.0 L531.4 274.5 L535.0 276.1 L538.7 277.8 L542.5 279.4 L546.3 281.2 L550.0 282.9 L553.6 284.6 L557.0 286.3 L560.2 288.0 L563.3 289.8 L566.4 291.6 L569.3 293.4 L572.2 295.2 L575.0 296.9 L577.8 298.5 L580.6 300.0 L583.4 301.3 L586.0 302.6 L588.7 303.7 L591.3 304.8 L593.9 305.8 L596.5 306.8 L599.0 307.7 L601.6 308.6 L604.3 309.5 L607.2 310.3 L610.2 311.1 L613.1 311.8 L615.9 312.5 L618.3 313.1 L620.4 313.6 L622.0 314.0" stroke="#9a9a9a" stroke-width="1.1"/><path d="M104.0 247.4 L107.5 246.6 L112.3 245.5 L118.0 244.2 L124.3 242.7 L130.7 241.2 L137.1 239.7 L142.9 238.2 L147.8 236.9 L151.9 235.7 L155.6 234.5 L159.0 233.3 L162.1 232.2 L165.0 231.1 L168.0 230.0 L171.0 229.0 L174.1 228.1 L177.4 227.3 L180.7 226.5 L184.0 225.7 L187.3 225.1 L190.6 224.4 L193.8 223.9 L197.0 223.4 L200.0 223.0 L202.9 222.7 L205.8 222.4 L208.5 222.2 L211.2 222.0 L213.8 221.9 L216.5 221.9 L219.2 221.9 L222.0 222.0 L224.8 222.1 L227.6 222.3 L230.5 222.5 L233.3 222.8 L236.2 223.2 L239.1 223.6 L242.0 224.0 L245.0 224.5 L248.0 225.0 L251.1 225.5 L254.3 226.1 L257.4 226.8 L260.6 227.4 L263.8 228.2 L266.9 229.1 L270.0 230.0 L273.0 231.1 L276.0 232.3 L279.0 233.7 L281.9 235.1 L284.9 236.6 L287.9 238.0 L290.9 239.3 L294.0 240.5 L297.2 241.6 L300.4 242.5 L303.7 243.4 L307.0 244.3 L310.3 245.1 L313.6 246.0 L316.8 246.9 L320.0 248.0 L323.0 249.1 L325.9 250.3 L328.7 251.6 L331.4 252.8 L334.3 254.2 L337.3 255.5 L340.5 257.0 L344.0 258.4 L347.9 259.9 L352.2 261.5 L356.7 263.2 L361.4 264.9 L366.1 266.7 L370.6 268.3 L375.0 270.0 L379.0 271.5 L382.7 273.0 L386.2 274.4 L389.5 275.8 L392.6 277.1 L395.7 278.4 L398.8 279.7 L401.9 280.9 L405.0 282.0 L408.2 283.1 L411.4 284.1 L414.7 285.1 L417.9 286.1 L421.0 286.9 L424.1 287.7 L427.1 288.4 L430.0 289.0 L432.7 289.5 L435.4 289.9 L437.9 290.2 L440.3 290.4 L442.7 290.5 L445.1 290.6 L447.5 290.6 L450.0 290.5 L452.5 290.4 L454.8 290.1 L457.2 289.9 L459.6 289.5 L462.0 289.1 L464.5 288.6 L467.2 288.1 L470.0 287.5 L473.0 286.9 L476.2 286.1 L479.5 285.3 L482.9 284.5 L486.3 283.6 L489.7 282.7 L493.2 281.8 L496.5 281.0 L499.8 280.2 L503.0 279.4 L506.1 278.6 L509.3 277.8 L512.6 276.9 L515.9 276.1 L519.3 275.3 L522.8 274.5 L526.5 273.7 L530.2 272.9 L534.0 272.1 L538.0 271.4 L542.0 270.5 L546.0 269.7 L550.2 268.8 L554.4 267.9 L558.8 266.9 L563.3 266.0 L568.0 264.9 L572.7 263.9 L577.5 262.8 L582.1 261.6 L586.7 260.4 L591.0 259.0 L595.4 257.4 L599.9 255.6 L604.4 253.6 L608.8 251.5 L612.9 249.6 L616.6 247.8 L619.6 246.3 L622.0 245.2" stroke="#9a9a9a" stroke-width="1.1"/><path d="M104.0 251.8 L107.7 250.7 L112.7 249.1 L118.6 247.2 L125.2 245.1 L132.0 243.0 L138.5 241.0 L144.5 239.2 L149.5 237.8 L153.6 236.8 L157.3 235.9 L160.6 235.3 L163.6 234.8 L166.3 234.4 L168.9 234.0 L171.5 233.7 L174.1 233.4 L176.6 233.1 L179.0 232.9 L181.2 232.7 L183.3 232.6 L185.3 232.5 L187.4 232.5 L189.5 232.5 L191.6 232.5 L193.8 232.6 L196.0 232.7 L198.3 232.9 L200.5 233.2 L202.7 233.4 L204.9 233.7 L207.0 234.0 L209.1 234.3 L210.9 234.6 L212.5 234.8 L214.0 235.1 L215.5 235.4 L217.1 235.7 L218.9 236.0 L221.2 236.5 L224.0 237.0 L227.3 237.6 L231.1 238.1 L235.2 238.8 L239.6 239.5 L244.2 240.2 L249.0 241.2 L254.0 242.2 L259.0 243.5 L264.2 245.0 L269.8 246.8 L275.6 248.8 L281.5 250.9 L287.5 253.1 L293.4 255.2 L299.1 257.1 L304.6 258.9 L309.9 260.5 L315.0 262.1 L320.0 263.6 L325.0 265.0 L329.8 266.3 L334.6 267.6 L339.3 268.7 L344.0 269.8 L348.6 270.7 L353.3 271.4 L357.8 272.0 L362.3 272.6 L366.7 273.1 L371.0 273.6 L375.1 274.3 L379.0 275.0 L382.6 275.9 L385.8 276.8 L388.8 277.8 L391.8 278.8 L394.7 279.8 L397.8 280.9 L401.2 282.0 L405.0 283.0 L409.3 284.1 L414.1 285.2 L419.2 286.3 L424.5 287.4 L429.8 288.5 L434.9 289.6 L439.7 290.6 L444.0 291.5 L447.9 292.3 L451.5 293.1 L454.9 293.7 L458.1 294.4 L461.2 295.0 L464.2 295.6 L467.1 296.2 L470.0 296.8 L472.8 297.5 L475.4 298.2 L477.9 298.9 L480.3 299.5 L482.8 300.2 L485.3 300.9 L488.0 301.5 L491.0 302.0 L494.2 302.5 L497.4 303.0 L500.8 303.4 L504.3 303.8 L508.0 304.1 L511.8 304.4 L515.8 304.7 L520.0 305.0 L524.5 305.2 L529.2 305.5 L534.2 305.7 L539.3 305.9 L544.5 306.0 L549.7 306.1 L554.9 306.1 L560.0 306.0 L565.1 305.8 L570.4 305.5 L575.8 305.2 L581.1 304.8 L586.3 304.3 L591.3 303.8 L595.9 303.4 L600.0 303.0 L603.8 302.6 L607.3 302.2 L610.5 301.7 L613.5 301.3 L616.2 300.9 L618.5 300.5 L620.4 300.2 L622.0 300.0" stroke="#9a9a9a" stroke-width="1.1"/><path d="M104.0 252.7 L106.8 253.4 L110.5 254.4 L115.0 255.6 L120.0 256.8 L125.1 258.2 L130.2 259.6 L134.9 261.0 L139.0 262.3 L142.6 263.6 L145.9 264.9 L149.0 266.2 L152.0 267.6 L154.9 268.9 L157.7 270.2 L160.6 271.5 L163.6 272.8 L166.5 274.0 L169.1 275.1 L171.6 276.2 L174.2 277.3 L176.9 278.4 L180.0 279.5 L183.4 280.7 L187.5 282.0 L192.3 283.4 L197.9 285.0 L204.0 286.6 L210.3 288.3 L216.7 289.9 L222.9 291.5 L228.8 292.8 L234.0 294.0 L238.6 295.0 L242.9 295.8 L246.8 296.5 L250.5 297.0 L254.1 297.5 L257.7 297.9 L261.3 298.2 L265.0 298.5 L268.8 298.7 L272.6 298.9 L276.3 299.1 L280.1 299.2 L283.8 299.1 L287.5 298.9 L291.3 298.6 L295.0 298.0 L298.8 297.2 L302.8 296.1 L306.7 294.9 L310.7 293.5 L314.6 292.1 L318.3 290.7 L321.8 289.3 L325.0 288.0 L327.9 286.8 L330.7 285.6 L333.2 284.4 L335.6 283.2 L337.9 282.1 L340.0 281.0 L342.0 280.0 L344.0 279.0 L345.8 278.2 L347.2 277.5 L348.5 277.0 L349.8 276.5 L351.0 275.9 L352.4 275.3 L354.0 274.5 L356.0 273.5 L358.3 272.2 L360.9 270.8 L363.7 269.2 L366.6 267.4 L369.6 265.7 L372.8 264.0 L375.9 262.4 L379.0 261.0 L382.0 259.8 L384.9 258.6 L387.9 257.6 L390.8 256.6 L394.0 255.7 L397.4 254.6 L401.2 253.5 L405.3 252.3 L410.1 250.9 L415.6 249.3 L421.4 247.7 L427.5 246.0 L433.6 244.3 L439.4 242.7 L444.6 241.2 L449.1 240.0 L452.8 239.0 L455.9 238.1 L458.6 237.3 L461.0 236.6 L463.2 236.0 L465.3 235.5 L467.6 234.9 L470.0 234.3 L472.6 233.7 L475.1 233.1 L477.6 232.5 L480.1 231.9 L482.7 231.4 L485.3 230.9 L487.9 230.5 L490.6 230.1 L493.4 229.8 L496.3 229.5 L499.2 229.3 L502.2 229.1 L505.2 229.0 L508.2 228.9 L511.1 228.8 L514.0 228.8 L516.8 228.8 L519.6 228.9 L522.3 228.9 L525.0 229.1 L527.7 229.2 L530.4 229.5 L533.2 229.7 L536.0 230.1 L538.9 230.5 L541.7 231.1 L544.6 231.6 L547.5 232.3 L550.5 232.9 L553.5 233.6 L556.7 234.3 L560.0 235.0 L563.4 235.6 L567.0 236.3 L570.6 236.9 L574.4 237.5 L578.2 238.2 L582.0 238.9 L585.9 239.8 L589.8 240.7 L593.9 241.9 L598.4 243.2 L603.1 244.7 L607.8 246.3 L612.2 247.8 L616.2 249.2 L619.5 250.4 L622.0 251.2" stroke="#9a9a9a" stroke-width="1.1"/><line x1="104.8" y1="260.3" x2="621.8" y2="260.3" stroke="#00e8e8" stroke-opacity="0.45" stroke-width="1.5" stroke-dasharray="1.5 1.6"/><path d="M105.2 277.5 L106.3 272.8 L107.2 267.8 L108.4 262.7 L109.7 257.7 L110.9 254.5 L112.2 253.9 L113.1 257.7 L114.1 262.7 L115.1 269.0 L116.0 270.3 L117.3 269.7 L118.5 272.8 L119.8 277.2 L121.0 272.8 L122.3 267.1 L123.2 270.9 L124.2 277.9 L125.5 281.7 L126.7 277.9 L128.0 283.6 L129.3 282.9 L130.5 285.5 L131.8 288.0 L133.0 288.6 L134.3 285.5 L135.6 280.4 L136.8 278.5 L138.1 280.4 L139.4 275.4 L140.6 271.6 L141.6 269.7 L142.5 274.1 L143.4 277.2 L144.2 269.0 L145.0 262.7 L146.3 261.5 L147.6 262.1 L148.4 260.2 L149.2 253.9 L150.1 248.8 L151.0 238.4 L153.0 234.3 L154.5 222.7 L156.0 221.7 L157.1 224.2 L157.9 235.8 L158.9 229.3 L160.1 222.2 L161.6 223.7 L163.1 228.8 L164.9 213.1 L166.1 216.2 L167.6 237.3 L169.0 226.3 L170.2 212.6 L171.4 216.2 L172.4 228.3 L173.4 211.6 L174.7 207.6 L176.0 210.1 L177.7 219.7 L178.7 207.1 L179.9 199.5 L180.8 209.1 L182.1 222.7 L183.3 212.1 L184.8 213.6 L186.3 216.2 L187.5 220.2 L188.8 207.6 L190.1 212.1 L191.3 223.2 L192.9 216.2 L194.4 211.1 L195.6 217.2 L196.6 225.2 L197.9 220.2 L199.2 219.2 L200.4 225.7 L201.6 222.2 L202.9 219.2 L204.3 230.3 L205.7 216.2 L206.7 221.2 L208.0 230.3 L209.5 234.3 L212.1 243.1 L214.5 249.1 L216.9 257.5 L219.3 267.2 L221.7 272.0 L224.1 276.8 L226.5 279.2 L228.9 284.0 L231.3 290.0 L233.0 292.4 L235.0 291.2 L236.9 284.0 L238.6 278.0 L240.0 275.2 L241.8 272.5 L243.7 260.6 L245.1 268.8 L246.4 263.3 L248.3 246.8 L250.1 245.9 L251.4 252.3 L253.2 238.5 L254.7 244.0 L256.1 254.1 L258.0 233.0 L259.3 225.7 L261.1 244.0 L262.9 225.7 L264.8 247.7 L266.1 258.7 L267.5 229.4 L268.8 212.8 L270.3 247.7 L271.6 223.9 L273.0 205.5 L274.5 245.9 L275.8 260.6 L277.2 236.7 L278.5 221.1 L280.0 266.1 L281.5 236.7 L283.1 221.1 L284.6 253.2 L285.9 255.0 L287.3 226.6 L289.2 251.4 L291.0 231.2 L292.8 260.6 L294.7 245.9 L296.5 269.7 L298.4 271.7 L299.5 250.9 L300.8 244.4 L302.1 249.3 L303.2 278.1 L304.8 258.9 L305.9 255.7 L307.2 274.9 L308.5 287.8 L309.6 278.1 L310.8 291.0 L312.0 281.3 L313.6 282.9 L315.3 279.7 L316.9 281.3 L318.5 278.1 L320.1 276.5 L321.7 281.3 L323.3 273.3 L325.2 271.7 L327.3 275.7 L329.4 273.3 L331.0 271.7 L332.6 278.1 L334.2 282.9 L335.8 281.3 L337.4 284.5 L339.0 289.4 L340.6 287.8 L342.2 292.6 L343.8 290.2 L345.7 292.6 L347.3 291.8 L349.3 289.4 L350.9 281.3 L352.2 291.0 L354.0 290.9 L356.1 288.1 L358.1 286.7 L360.2 277.8 L361.6 284.0 L362.9 281.2 L364.3 274.4 L365.3 265.4 L366.1 278.5 L367.1 279.9 L368.4 274.4 L369.8 273.7 L371.2 276.4 L372.6 279.9 L373.9 284.0 L376.0 284.0 L378.1 284.0 L379.4 281.2 L380.4 286.7 L381.5 285.4 L382.9 289.5 L384.2 295.0 L385.3 289.5 L386.3 281.2 L387.7 285.4 L389.1 284.0 L390.4 281.2 L391.8 277.1 L393.9 277.1 L395.2 273.0 L396.6 268.9 L398.0 270.9 L399.4 267.5 L400.7 260.6 L402.4 260.6 L403.8 259.2 L405.5 244.2 L406.6 234.5 L407.6 246.9 L408.5 235.9 L409.6 233.2 L410.7 229.7 L412.1 225.6 L413.8 237.3 L414.9 216.6 L416.2 202.9 L417.6 234.5 L419.3 223.5 L420.6 204.3 L422.0 234.5 L423.7 223.5 L425.0 204.9 L426.4 211.1 L427.5 227.6 L428.9 207.0 L430.3 198.8 L431.6 212.5 L433.0 224.9 L434.7 211.1 L436.1 212.5 L437.8 231.8 L439.9 215.3 L441.3 219.4 L442.4 235.9 L444.0 218.0 L445.7 231.8 L447.5 233.2 L448.9 213.9 L449.8 212.5 L451.2 233.2 L452.3 245.5 L453.7 237.3 L455.0 233.2 L456.4 249.7 L457.8 244.2 L459.2 241.4 L460.5 244.3 L461.7 249.1 L462.9 253.9 L464.1 246.7 L465.3 255.1 L467.2 258.7 L468.9 260.0 L470.1 264.8 L472.0 268.4 L473.7 269.6 L475.4 275.6 L477.3 276.8 L479.2 282.8 L480.9 285.2 L482.6 288.8 L484.5 292.4 L486.4 293.6 L488.1 296.0 L490.8 300.4 L492.0 302.8 L493.2 298.0 L494.9 294.4 L496.8 292.0 L498.8 289.6 L500.4 287.2 L502.1 284.8 L503.6 281.2 L505.3 278.7 L506.5 274.2 L508.5 263.9 L510.6 270.0 L512.7 261.1 L514.7 260.4 L516.8 263.9 L518.9 243.9 L520.6 260.4 L523.0 239.1 L525.0 259.0 L528.5 237.7 L530.5 270.0 L533.0 238.4 L535.4 272.8 L538.5 231.5 L540.9 274.2 L543.2 256.3 L545.4 274.2 L547.3 263.2 L549.8 274.2 L552.3 264.5 L554.6 274.2 L556.0 263.4 L557.1 271.6 L558.1 284.0 L559.0 292.3 L560.1 279.9 L561.2 277.1 L562.2 288.1 L563.2 292.3 L564.3 285.4 L565.4 281.3 L566.3 286.8 L567.3 281.3 L568.4 293.7 L569.5 286.8 L570.4 279.9 L571.4 278.5 L572.5 282.6 L573.6 286.8 L574.6 279.9 L575.5 275.8 L576.6 274.4 L577.7 277.1 L578.7 281.3 L580.1 282.6 L581.5 279.9 L582.8 279.2 L584.2 279.9 L585.6 279.2 L587.0 280.6 L587.9 281.3 L589.0 267.5 L589.8 256.5 L590.7 273.0 L591.5 278.5 L592.9 279.9 L594.2 281.3 L595.6 279.9 L597.0 281.3 L598.4 285.4 L599.7 289.5 L601.1 285.4 L602.5 284.0 L603.9 282.6 L605.2 281.3 L606.6 278.5 L608.0 274.4 L609.4 273.0 L610.8 277.1 L611.7 274.4 L612.7 266.1 L613.8 260.6 L615.2 259.3 L616.5 256.5 L617.6 252.4 L618.6 251.0 L619.6 257.9 L620.7 266.1 L621.8 262.0" stroke="#0000e6" stroke-width="2.4" transform="translate(0,0.7)"/><path d="M105.2 277.5 L106.3 272.8 L107.2 267.8 L108.4 262.7 L109.7 257.7 L110.9 254.5 L112.2 253.9 L113.1 257.7 L114.1 262.7 L115.1 269.0 L116.0 270.3 L117.3 269.7 L118.5 272.8 L119.8 277.2 L121.0 272.8 L122.3 267.1 L123.2 270.9 L124.2 277.9 L125.5 281.7 L126.7 277.9 L128.0 283.6 L129.3 282.9 L130.5 285.5 L131.8 288.0 L133.0 288.6 L134.3 285.5 L135.6 280.4 L136.8 278.5 L138.1 280.4 L139.4 275.4 L140.6 271.6 L141.6 269.7 L142.5 274.1 L143.4 277.2 L144.2 269.0 L145.0 262.7 L146.3 261.5 L147.6 262.1 L148.4 260.2 L149.2 253.9 L150.1 248.8 L151.0 238.4 L153.0 234.3 L154.5 222.7 L156.0 221.7 L157.1 224.2 L157.9 235.8 L158.9 229.3 L160.1 222.2 L161.6 223.7 L163.1 228.8 L164.9 213.1 L166.1 216.2 L167.6 237.3 L169.0 226.3 L170.2 212.6 L171.4 216.2 L172.4 228.3 L173.4 211.6 L174.7 207.6 L176.0 210.1 L177.7 219.7 L178.7 207.1 L179.9 199.5 L180.8 209.1 L182.1 222.7 L183.3 212.1 L184.8 213.6 L186.3 216.2 L187.5 220.2 L188.8 207.6 L190.1 212.1 L191.3 223.2 L192.9 216.2 L194.4 211.1 L195.6 217.2 L196.6 225.2 L197.9 220.2 L199.2 219.2 L200.4 225.7 L201.6 222.2 L202.9 219.2 L204.3 230.3 L205.7 216.2 L206.7 221.2 L208.0 230.3 L209.5 234.3 L212.1 243.1 L214.5 249.1 L216.9 257.5 L219.3 267.2 L221.7 272.0 L224.1 276.8 L226.5 279.2 L228.9 284.0 L231.3 290.0 L233.0 292.4 L235.0 291.2 L236.9 284.0 L238.6 278.0 L240.0 275.2 L241.8 272.5 L243.7 260.6 L245.1 268.8 L246.4 263.3 L248.3 246.8 L250.1 245.9 L251.4 252.3 L253.2 238.5 L254.7 244.0 L256.1 254.1 L258.0 233.0 L259.3 225.7 L261.1 244.0 L262.9 225.7 L264.8 247.7 L266.1 258.7 L267.5 229.4 L268.8 212.8 L270.3 247.7 L271.6 223.9 L273.0 205.5 L274.5 245.9 L275.8 260.6 L277.2 236.7 L278.5 221.1 L280.0 266.1 L281.5 236.7 L283.1 221.1 L284.6 253.2 L285.9 255.0 L287.3 226.6 L289.2 251.4 L291.0 231.2 L292.8 260.6 L294.7 245.9 L296.5 269.7 L298.4 271.7 L299.5 250.9 L300.8 244.4 L302.1 249.3 L303.2 278.1 L304.8 258.9 L305.9 255.7 L307.2 274.9 L308.5 287.8 L309.6 278.1 L310.8 291.0 L312.0 281.3 L313.6 282.9 L315.3 279.7 L316.9 281.3 L318.5 278.1 L320.1 276.5 L321.7 281.3 L323.3 273.3 L325.2 271.7 L327.3 275.7 L329.4 273.3 L331.0 271.7 L332.6 278.1 L334.2 282.9 L335.8 281.3 L337.4 284.5 L339.0 289.4 L340.6 287.8 L342.2 292.6 L343.8 290.2 L345.7 292.6 L347.3 291.8 L349.3 289.4 L350.9 281.3 L352.2 291.0 L354.0 290.9 L356.1 288.1 L358.1 286.7 L360.2 277.8 L361.6 284.0 L362.9 281.2 L364.3 274.4 L365.3 265.4 L366.1 278.5 L367.1 279.9 L368.4 274.4 L369.8 273.7 L371.2 276.4 L372.6 279.9 L373.9 284.0 L376.0 284.0 L378.1 284.0 L379.4 281.2 L380.4 286.7 L381.5 285.4 L382.9 289.5 L384.2 295.0 L385.3 289.5 L386.3 281.2 L387.7 285.4 L389.1 284.0 L390.4 281.2 L391.8 277.1 L393.9 277.1 L395.2 273.0 L396.6 268.9 L398.0 270.9 L399.4 267.5 L400.7 260.6 L402.4 260.6 L403.8 259.2 L405.5 244.2 L406.6 234.5 L407.6 246.9 L408.5 235.9 L409.6 233.2 L410.7 229.7 L412.1 225.6 L413.8 237.3 L414.9 216.6 L416.2 202.9 L417.6 234.5 L419.3 223.5 L420.6 204.3 L422.0 234.5 L423.7 223.5 L425.0 204.9 L426.4 211.1 L427.5 227.6 L428.9 207.0 L430.3 198.8 L431.6 212.5 L433.0 224.9 L434.7 211.1 L436.1 212.5 L437.8 231.8 L439.9 215.3 L441.3 219.4 L442.4 235.9 L444.0 218.0 L445.7 231.8 L447.5 233.2 L448.9 213.9 L449.8 212.5 L451.2 233.2 L452.3 245.5 L453.7 237.3 L455.0 233.2 L456.4 249.7 L457.8 244.2 L459.2 241.4 L460.5 244.3 L461.7 249.1 L462.9 253.9 L464.1 246.7 L465.3 255.1 L467.2 258.7 L468.9 260.0 L470.1 264.8 L472.0 268.4 L473.7 269.6 L475.4 275.6 L477.3 276.8 L479.2 282.8 L480.9 285.2 L482.6 288.8 L484.5 292.4 L486.4 293.6 L488.1 296.0 L490.8 300.4 L492.0 302.8 L493.2 298.0 L494.9 294.4 L496.8 292.0 L498.8 289.6 L500.4 287.2 L502.1 284.8 L503.6 281.2 L505.3 278.7 L506.5 274.2 L508.5 263.9 L510.6 270.0 L512.7 261.1 L514.7 260.4 L516.8 263.9 L518.9 243.9 L520.6 260.4 L523.0 239.1 L525.0 259.0 L528.5 237.7 L530.5 270.0 L533.0 238.4 L535.4 272.8 L538.5 231.5 L540.9 274.2 L543.2 256.3 L545.4 274.2 L547.3 263.2 L549.8 274.2 L552.3 264.5 L554.6 274.2 L556.0 263.4 L557.1 271.6 L558.1 284.0 L559.0 292.3 L560.1 279.9 L561.2 277.1 L562.2 288.1 L563.2 292.3 L564.3 285.4 L565.4 281.3 L566.3 286.8 L567.3 281.3 L568.4 293.7 L569.5 286.8 L570.4 279.9 L571.4 278.5 L572.5 282.6 L573.6 286.8 L574.6 279.9 L575.5 275.8 L576.6 274.4 L577.7 277.1 L578.7 281.3 L580.1 282.6 L581.5 279.9 L582.8 279.2 L584.2 279.9 L585.6 279.2 L587.0 280.6 L587.9 281.3 L589.0 267.5 L589.8 256.5 L590.7 273.0 L591.5 278.5 L592.9 279.9 L594.2 281.3 L595.6 279.9 L597.0 281.3 L598.4 285.4 L599.7 289.5 L601.1 285.4 L602.5 284.0 L603.9 282.6 L605.2 281.3 L606.6 278.5 L608.0 274.4 L609.4 273.0 L610.8 277.1 L611.7 274.4 L612.7 266.1 L613.8 260.6 L615.2 259.3 L616.5 256.5 L617.6 252.4 L618.6 251.0 L619.6 257.9 L620.7 266.1 L621.8 262.0" stroke="#ff0010" stroke-opacity="0.87" stroke-width="2.6"/><path d="M104.5 291.0 L107.1 290.0 L109.7 292.3 L112.3 288.6 L114.9 289.8 L117.5 287.2 L120.1 289.4 L122.7 286.4 L125.3 293.4 L127.9 293.0 L130.5 297.1 L133.1 294.1 L135.7 298.9 L138.3 293.5 L140.9 295.2 L143.5 290.8 L146.1 289.9 L148.7 284.6 L151.3 283.3 L153.9 280.9 L156.5 282.6 L159.1 279.4 L161.7 280.1 L164.3 276.2 L166.9 282.7 L169.5 276.4 L172.1 278.1 L174.7 273.4 L177.3 274.8 L179.9 268.8 L182.5 275.4 L185.1 273.9 L187.7 275.8 L190.3 269.4 L192.9 275.0 L195.5 271.2 L198.1 272.9 L200.7 273.3 L203.3 272.5 L205.6 268.4 L205.9 269.3 L208.5 277.9 L211.1 276.4 L213.7 283.1 L216.3 282.2 L218.9 287.1 L221.5 285.0 L224.1 290.1 L226.7 289.0 L229.3 292.6 L231.9 294.1 L234.5 299.4 L237.1 294.3 L239.7 294.6 L242.3 288.5 L244.9 289.9 L247.5 286.7 L250.1 287.3 L252.7 280.7 L255.3 284.3 L257.9 281.0 L260.5 283.5 L263.1 283.5 L265.7 285.5 L268.3 280.3 L270.9 281.1 L272.6 275.6 L273.5 276.2 L276.1 283.8 L278.7 284.1 L281.3 288.6 L283.9 283.6 L286.5 285.3 L289.1 283.6 L291.7 287.9 L294.3 287.0 L296.9 290.5 L299.5 287.9 L302.1 289.6 L304.7 287.4 L307.3 298.3 L309.9 292.2 L312.5 295.8 L315.1 294.1 L317.7 297.0 L320.3 294.3 L322.9 300.2 L325.5 298.9 L328.1 299.9 L330.7 296.4 L333.3 299.8 L335.9 298.3 L338.5 302.4 L341.1 300.2 L343.7 300.9 L346.3 297.6 L348.9 296.6 L351.5 295.9 L354.1 300.3 L356.7 296.0 L359.3 297.9 L361.9 293.2 L364.5 295.2 L367.1 290.0 L369.7 295.7 L372.3 293.9 L374.9 298.0 L377.5 294.4 L380.1 296.7 L382.7 296.3 L385.3 300.6 L387.9 295.7 L390.5 296.0 L393.1 294.8 L395.7 293.9 L398.3 289.5 L400.9 291.9 L403.5 287.2 L406.1 287.9 L408.7 282.8 L411.3 284.2 L413.9 281.8 L416.5 285.3 L419.1 281.3 L421.7 286.5 L424.3 281.9 L426.9 284.5 L429.5 277.2 L431.0 274.4 L432.1 277.8 L434.7 281.8 L437.3 284.1 L439.9 282.7 L442.5 283.7 L445.1 280.8 L447.7 284.1 L450.3 280.9 L452.9 290.2 L455.5 286.1 L458.1 289.2 L460.7 285.4 L463.3 288.8 L465.9 287.7 L468.5 290.8 L471.1 291.1 L473.7 295.4 L476.3 294.2 L478.9 300.0 L481.5 298.3 L484.1 302.4 L486.7 298.8 L489.3 304.9 L491.9 303.6 L494.5 304.8 L497.1 299.1 L499.7 299.0 L502.3 293.6 L504.9 295.1 L507.5 291.3 L510.1 291.4 L512.7 289.1 L515.3 289.5 L517.9 287.6 L520.5 288.6 L523.1 284.9 L525.7 290.8 L528.3 287.2 L530.9 290.7 L533.5 290.0 L536.1 291.4 L538.5 282.4 L538.7 281.2 L541.3 293.3 L543.9 289.7 L546.5 293.6 L549.1 291.9 L551.7 295.2 L554.3 289.9 L556.9 291.8 L559.5 292.5 L562.1 293.7 L564.7 291.8 L567.3 299.0 L569.9 296.4 L572.5 300.5 L575.1 296.4 L577.7 297.5 L580.3 293.1 L582.9 296.3 L585.5 294.5 L588.1 293.6 L589.3 272.9 L590.7 290.0 L593.3 297.1 L595.9 292.0 L598.5 295.5 L601.1 291.0 L603.7 293.8 L606.3 289.8 L608.9 290.7 L611.5 289.3 L614.1 291.0 L616.7 287.4 L619.3 289.4" stroke="#228b22" stroke-width="2.5"/><path d="M104.5 306.4 L107.1 304.5 L109.7 306.9 L112.3 304.6 L114.9 304.5 L117.5 303.1 L120.1 302.2 L122.7 303.4 L125.3 304.6 L127.9 303.6 L130.5 305.2 L133.1 304.2 L135.7 307.0 L138.3 305.8 L140.9 309.9 L143.5 306.6 L146.1 309.3 L148.7 303.2 L151.3 302.9 L153.9 301.3 L156.5 305.8 L159.1 303.5 L161.7 308.3 L164.3 305.1 L166.9 307.1 L169.5 308.5 L172.1 309.9 L174.7 305.6 L177.3 306.5 L179.9 306.5 L182.5 307.0 L185.1 303.4 L187.7 306.3 L190.3 304.3 L192.9 307.1 L195.5 305.1 L198.1 309.1 L200.7 305.6 L203.3 307.4 L205.9 301.1 L208.5 307.1 L211.1 304.8 L213.7 308.9 L216.3 305.1 L218.9 308.0 L221.5 305.8 L224.1 308.2 L226.7 305.2 L229.3 306.1 L231.9 306.7 L234.5 309.1 L237.1 306.3 L239.7 308.3 L242.3 304.4 L244.9 307.3 L247.5 303.4 L250.1 307.8 L252.7 304.3 L255.3 307.8 L257.9 306.4 L260.5 308.1 L263.1 309.4 L265.7 310.5 L268.3 306.6 L270.9 305.8 L273.5 302.5 L276.1 306.4 L278.7 308.3 L281.3 309.3 L283.9 306.7 L286.5 308.6 L289.1 305.1 L291.7 307.6 L294.3 303.5 L296.9 305.5 L299.5 302.0 L302.1 305.5 L304.7 305.0 L307.3 309.2 L309.9 306.3 L312.5 307.8 L315.1 307.7 L317.7 310.4 L320.3 308.9 L322.9 311.8 L325.5 309.0 L328.1 310.2 L330.7 307.6 L333.3 307.8 L335.9 307.8 L338.5 310.4 L341.1 306.1 L343.7 307.6 L346.3 305.2 L348.9 303.9 L351.5 304.4 L354.1 311.1 L356.7 308.2 L359.3 310.1 L361.9 308.6 L364.5 307.8 L367.1 304.5 L369.7 306.8 L372.3 305.3 L374.9 308.4 L377.5 304.2 L380.1 305.7 L382.7 304.4 L385.3 306.9 L387.9 306.3 L390.5 308.9 L393.1 307.5 L395.7 309.6 L398.3 306.5 L400.9 311.0 L403.5 306.1 L406.1 309.4 L408.7 308.0 L411.3 310.9 L413.9 307.3 L416.5 309.1 L419.1 308.5 L421.7 310.8 L424.3 308.5 L426.9 309.8 L429.5 303.3 L432.1 309.3 L434.7 308.5 L437.3 311.4 L439.9 308.8 L442.5 310.6 L445.1 307.4 L447.7 309.9 L450.3 310.5 L452.9 313.3 L455.5 309.0 L458.1 310.9 L460.7 308.8 L463.3 311.3 L465.9 309.2 L468.5 311.0 L471.1 310.1 L473.7 313.4 L476.3 309.7 L478.9 311.1 L481.5 311.4 L484.1 313.2 L486.7 309.6 L489.3 310.9 L491.9 311.9 L494.5 314.4 L497.1 311.1 L499.7 313.4 L502.3 312.0 L504.9 314.5 L507.5 311.4 L510.1 312.9 L512.7 310.5 L515.3 311.8 L517.9 309.8 L520.5 312.9 L523.1 309.8 L525.7 310.7 L528.3 309.8 L530.9 311.7 L533.5 308.6 L536.1 309.8 L538.7 305.0 L541.3 311.7 L543.9 310.4 L546.5 311.8 L549.1 308.8 L551.7 312.5 L554.3 308.6 L556.9 311.4 L559.5 310.1 L562.1 312.6 L564.7 310.7 L567.3 313.1 L569.9 310.0 L572.5 313.1 L575.1 309.4 L577.7 310.6 L580.3 309.9 L582.9 310.0 L585.5 307.8 L588.1 307.5 L589.3 292.2 L590.7 306.7 L593.3 307.9 L595.9 304.0 L598.5 307.7 L601.1 306.2 L603.7 308.5 L606.3 306.8 L608.9 307.8 L611.5 305.9 L614.1 307.2 L616.7 305.9 L619.3 308.0" stroke="#ffa516" stroke-width="2.4"/></g><rect x="104.8" y="51.2" width="517.00" height="126.00" fill="none" stroke="#000" stroke-width="2.2"/><rect x="104.8" y="198.0" width="517.00" height="125.60" fill="none" stroke="#000" stroke-width="2.2"/><path d="M104.80 177.2v9.4 M104.80 323.6v7.4 M148.83 177.2v9.4 M148.83 323.6v7.4 M188.60 177.2v9.4 M188.60 323.6v7.4 M232.63 177.2v9.4 M232.63 323.6v7.4 M275.24 177.2v9.4 M275.24 323.6v7.4 M319.27 177.2v9.4 M319.27 323.6v7.4 M361.88 177.2v9.4 M361.88 323.6v7.4 M405.91 177.2v9.4 M405.91 323.6v7.4 M449.94 177.2v9.4 M449.94 323.6v7.4 M492.55 177.2v9.4 M492.55 323.6v7.4 M536.58 177.2v9.4 M536.58 323.6v7.4 M579.19 177.2v9.4 M579.19 323.6v7.4 M104.8 159.20h-9.4 M104.8 114.20h-9.4 M104.8 69.20h-9.4 M104.8 285.92h-9.4 M104.8 223.12h-9.4 M621.8 295.80h8.4 M621.8 260.80h8.4 M621.8 225.80h8.4" stroke="#000" stroke-width="2.2" fill="none"/><path d="M104.8 177.20h-5.6 M104.8 168.20h-5.6 M104.8 150.20h-5.6 M104.8 141.20h-5.6 M104.8 132.20h-5.6 M104.8 123.20h-5.6 M104.8 105.20h-5.6 M104.8 96.20h-5.6 M104.8 87.20h-5.6 M104.8 78.20h-5.6 M104.8 60.20h-5.6 M104.8 51.20h-5.6 M104.8 323.60h-5.6 M104.8 311.04h-5.6 M104.8 298.48h-5.6 M104.8 273.36h-5.6 M104.8 260.80h-5.6 M104.8 248.24h-5.6 M104.8 235.68h-5.6 M104.8 210.56h-5.6 M104.8 198.00h-5.6 M621.8 323.80h5.6 M621.8 316.80h5.6 M621.8 309.80h5.6 M621.8 302.80h5.6 M621.8 288.80h5.6 M621.8 281.80h5.6 M621.8 274.80h5.6 M621.8 267.80h5.6 M621.8 253.80h5.6 M621.8 246.80h5.6 M621.8 239.80h5.6 M621.8 232.80h5.6 M621.8 218.80h5.6 M621.8 211.80h5.6 M621.8 204.80h5.6 M621.8 197.80h5.6" stroke="#000" stroke-width="1.7" fill="none"/><g font-family='"Liberation Sans", sans-serif' font-size="25.0" fill="#000" stroke="#000" stroke-width="0.45" opacity="0.999"><text x="85.6" y="78.40" text-anchor="end" letter-spacing="0.4">25</text><text x="85.6" y="123.40" text-anchor="end" letter-spacing="0.4">0</text><text x="85.6" y="168.40" text-anchor="end" letter-spacing="0.4">25</text><text x="85.6" y="232.32" text-anchor="end" letter-spacing="0.4">5.0</text><text x="85.6" y="295.12" text-anchor="end" letter-spacing="0.4">2.5</text><text x="640.8" y="234.80" letter-spacing="0.4">50</text><text x="640.8" y="269.80" letter-spacing="0.4">0</text><text x="655.6" y="304.80" letter-spacing="0.4">50</text><rect x="40.9" y="158.4" width="12" height="2"/><rect x="642.6" y="294.2" width="12" height="2"/><text transform="translate(103.50,369.2) rotate(-45)" text-anchor="middle" dy="8.4" font-size="23.8" letter-spacing="0.3">17/01</text><text transform="translate(147.53,369.2) rotate(-45)" text-anchor="middle" dy="8.4" font-size="23.8" letter-spacing="0.3">17/02</text><text transform="translate(187.30,369.2) rotate(-45)" text-anchor="middle" dy="8.4" font-size="23.8" letter-spacing="0.3">17/03</text><text transform="translate(231.33,369.2) rotate(-45)" text-anchor="middle" dy="8.4" font-size="23.8" letter-spacing="0.3">17/04</text><text transform="translate(273.94,369.2) rotate(-45)" text-anchor="middle" dy="8.4" font-size="23.8" letter-spacing="0.3">17/05</text><text transform="translate(317.97,369.2) rotate(-45)" text-anchor="middle" dy="8.4" font-size="23.8" letter-spacing="0.3">17/06</text><text transform="translate(360.58,369.2) rotate(-45)" text-anchor="middle" dy="8.4" font-size="23.8" letter-spacing="0.3">17/07</text><text transform="translate(404.61,369.2) rotate(-45)" text-anchor="middle" dy="8.4" font-size="23.8" letter-spacing="0.3">17/08</text><text transform="translate(448.64,369.2) rotate(-45)" text-anchor="middle" dy="8.4" font-size="23.8" letter-spacing="0.3">17/09</text><text transform="translate(491.25,369.2) rotate(-45)" text-anchor="middle" dy="8.4" font-size="23.8" letter-spacing="0.3">17/10</text><text transform="translate(535.28,369.2) rotate(-45)" text-anchor="middle" dy="8.4" font-size="23.8" letter-spacing="0.3">17/11</text><text transform="translate(577.89,369.2) rotate(-45)" text-anchor="middle" dy="8.4" font-size="23.8" letter-spacing="0.3">17/12</text><text x="363.5" y="433" text-anchor="middle">Date</text><text transform="translate(18.6,110.8) rotate(-90)" text-anchor="middle" letter-spacing="0.3">Z [mm]</text><text transform="translate(18.6,263.8) rotate(-90)" text-anchor="middle" letter-spacing="0.65">mZ [mm]</text><text x="639" y="199">β [°]</text></g><rect x="105" y="2.2" width="516.5" height="42.6" fill="#fff" stroke="#000" stroke-width="1.6"/><line x1="113.4" y1="24.2" x2="166" y2="24.2" stroke="#ec0000" stroke-width="4.2"/><text x="172.5" y="32.3" font-family='"Liberation Sans", sans-serif' font-size="25.0" letter-spacing="0.8" stroke="#000" stroke-width="0.45" opacity="0.999">B2</text><line x1="228.4" y1="24.2" x2="281" y2="24.2" stroke="#0000e4" stroke-width="4.2"/><text x="292.0" y="32.3" font-family='"Liberation Sans", sans-serif' font-size="25.0" letter-spacing="0.8" stroke="#000" stroke-width="0.45" opacity="0.999">E2</text><line x1="348.4" y1="24.2" x2="401" y2="24.2" stroke="#228b22" stroke-width="4.2"/><text x="411.0" y="32.3" font-family='"Liberation Sans", sans-serif' font-size="25.0" letter-spacing="0.8" stroke="#000" stroke-width="0.45" opacity="0.999">B1</text><line x1="468.4" y1="24.2" x2="520.6" y2="24.2" stroke="#e8aa2a" stroke-width="4.2"/><text x="530.0" y="32.3" font-family='"Liberation Sans", sans-serif' font-size="25.0" letter-spacing="0.8" stroke="#000" stroke-width="0.45" opacity="0.999">B0</text></svg></body></html>
